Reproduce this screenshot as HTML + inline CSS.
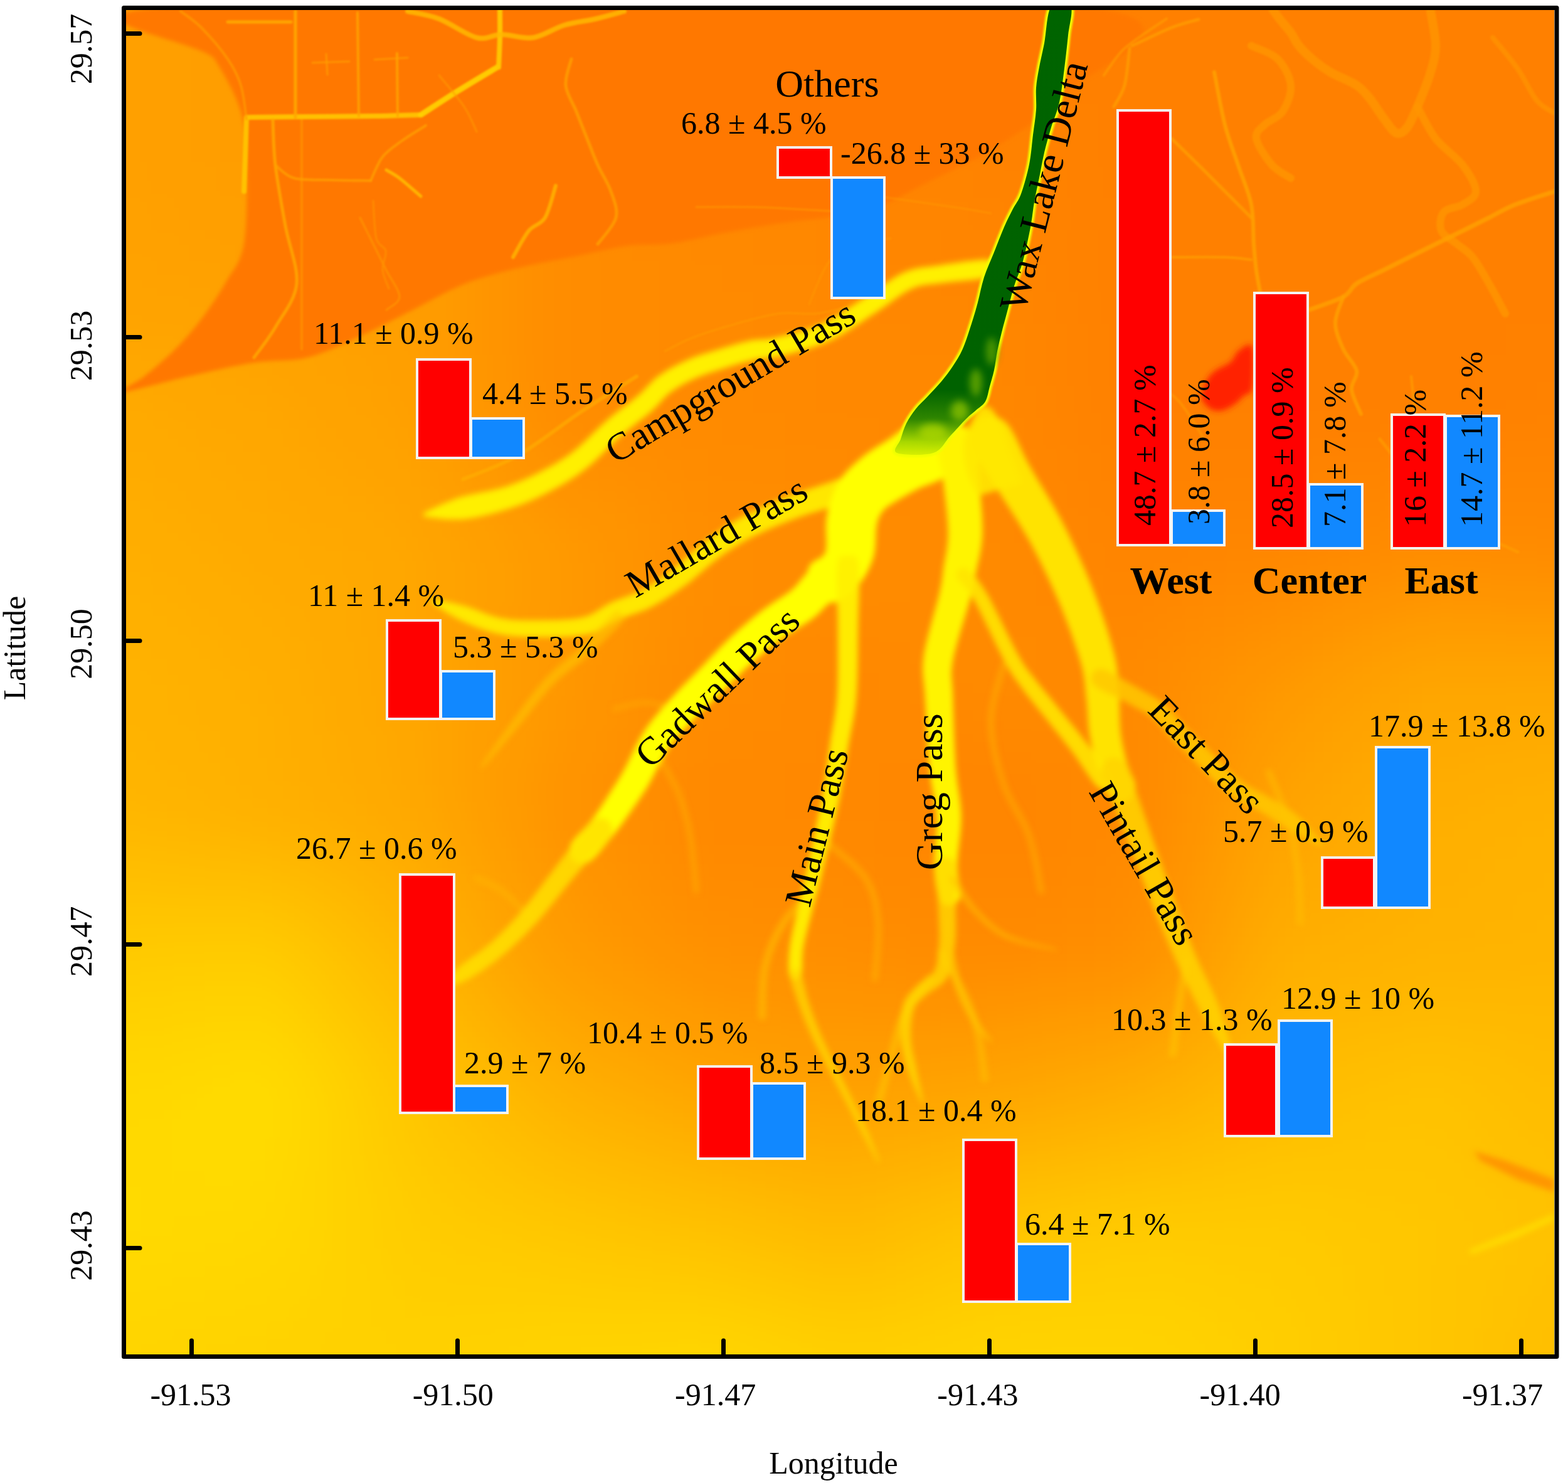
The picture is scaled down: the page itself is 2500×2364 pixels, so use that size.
<!DOCTYPE html>
<html><head><meta charset="utf-8"><title>Wax Lake Delta</title>
<style>
html,body{margin:0;padding:0;background:#fff;}
svg{display:block;}
text{font-family:"Liberation Serif","Times New Roman",serif;fill:#000;}
</style></head><body>
<svg xmlns="http://www.w3.org/2000/svg" width="2500" height="2364" viewBox="0 0 2500 2364">
<defs>
<clipPath id="mapclip"><rect x="201" y="16" width="2277" height="2143"/></clipPath>
<filter id="fb" x="-10%" y="-10%" width="120%" height="120%"><feGaussianBlur stdDeviation="40"/></filter>
<filter id="ub" x="-10%" y="-10%" width="120%" height="120%"><feGaussianBlur stdDeviation="3"/></filter>
<filter id="lb" x="-10%" y="-10%" width="120%" height="120%"><feGaussianBlur stdDeviation="1.5"/></filter>
<filter id="cb" x="-20%" y="-20%" width="140%" height="140%"><feGaussianBlur stdDeviation="5"/></filter>
<filter id="rb" x="-20%" y="-20%" width="140%" height="140%"><feGaussianBlur stdDeviation="1.5"/></filter>
<filter id="gb" x="-50%" y="-50%" width="200%" height="200%"><feGaussianBlur stdDeviation="6"/></filter>
<linearGradient id="rg" gradientUnits="userSpaceOnUse" x1="0" y1="0" x2="0" y2="730">
<stop offset="0" stop-color="#006400"/><stop offset="0.85" stop-color="#006200"/><stop offset="0.915" stop-color="#2f8600"/><stop offset="0.965" stop-color="#a8d800"/><stop offset="1" stop-color="#e0f400"/>
</linearGradient>
</defs>
<rect width="2500" height="2364" fill="#fff"/>
<g clip-path="url(#mapclip)">
<g filter="url(#fb)">
<rect x="51" y="-134" width="51" height="51" fill="#ffa000"/>
<rect x="101" y="-134" width="51" height="51" fill="#ffa000"/>
<rect x="151" y="-134" width="51" height="51" fill="#ffa000"/>
<rect x="201" y="-134" width="51" height="51" fill="#ffa000"/>
<rect x="251" y="-134" width="51" height="51" fill="#ff9f00"/>
<rect x="301" y="-134" width="51" height="51" fill="#ff9e00"/>
<rect x="351" y="-134" width="51" height="51" fill="#ff9d00"/>
<rect x="401" y="-134" width="51" height="51" fill="#ff9c00"/>
<rect x="451" y="-134" width="51" height="51" fill="#ff9b00"/>
<rect x="501" y="-134" width="51" height="51" fill="#ff9900"/>
<rect x="551" y="-134" width="51" height="51" fill="#ff9800"/>
<rect x="601" y="-134" width="51" height="51" fill="#ff9700"/>
<rect x="651" y="-134" width="51" height="51" fill="#ff9600"/>
<rect x="701" y="-134" width="51" height="51" fill="#ff9400"/>
<rect x="751" y="-134" width="51" height="51" fill="#ff9300"/>
<rect x="801" y="-134" width="51" height="51" fill="#ff9200"/>
<rect x="851" y="-134" width="51" height="51" fill="#ff9000"/>
<rect x="901" y="-134" width="51" height="51" fill="#ff8e00"/>
<rect x="951" y="-134" width="51" height="51" fill="#ff8c00"/>
<rect x="1001" y="-134" width="51" height="51" fill="#ff8900"/>
<rect x="1051" y="-134" width="51" height="51" fill="#ff8600"/>
<rect x="1101" y="-134" width="51" height="51" fill="#ff8400"/>
<rect x="1151" y="-134" width="51" height="51" fill="#ff8300"/>
<rect x="1201" y="-134" width="51" height="51" fill="#ff8200"/>
<rect x="1251" y="-134" width="51" height="51" fill="#ff8100"/>
<rect x="1301" y="-134" width="51" height="51" fill="#ff8000"/>
<rect x="1351" y="-134" width="51" height="51" fill="#ff8000"/>
<rect x="1401" y="-134" width="51" height="51" fill="#ff8000"/>
<rect x="1451" y="-134" width="51" height="51" fill="#ff8000"/>
<rect x="1501" y="-134" width="51" height="51" fill="#ff8000"/>
<rect x="1551" y="-134" width="51" height="51" fill="#ff8000"/>
<rect x="1601" y="-134" width="51" height="51" fill="#ff8000"/>
<rect x="1651" y="-134" width="51" height="51" fill="#ff8000"/>
<rect x="1701" y="-134" width="51" height="51" fill="#ff8000"/>
<rect x="1751" y="-134" width="51" height="51" fill="#ff8000"/>
<rect x="1801" y="-134" width="51" height="51" fill="#ff8000"/>
<rect x="1851" y="-134" width="51" height="51" fill="#ff8000"/>
<rect x="1901" y="-134" width="51" height="51" fill="#ff8000"/>
<rect x="1951" y="-134" width="51" height="51" fill="#ff8000"/>
<rect x="2001" y="-134" width="51" height="51" fill="#ff8000"/>
<rect x="2051" y="-134" width="51" height="51" fill="#ff8000"/>
<rect x="2101" y="-134" width="51" height="51" fill="#ff8000"/>
<rect x="2151" y="-134" width="51" height="51" fill="#ff8000"/>
<rect x="2201" y="-134" width="51" height="51" fill="#ff8000"/>
<rect x="2251" y="-134" width="51" height="51" fill="#ff8000"/>
<rect x="2301" y="-134" width="51" height="51" fill="#ff8000"/>
<rect x="2351" y="-134" width="51" height="51" fill="#ff8000"/>
<rect x="2401" y="-134" width="51" height="51" fill="#ff8000"/>
<rect x="2451" y="-134" width="51" height="51" fill="#ff8000"/>
<rect x="2501" y="-134" width="51" height="51" fill="#ff8000"/>
<rect x="2551" y="-134" width="51" height="51" fill="#ff8000"/>
<rect x="2601" y="-134" width="51" height="51" fill="#ff8000"/>
<rect x="51" y="-84" width="51" height="51" fill="#ffa000"/>
<rect x="101" y="-84" width="51" height="51" fill="#ffa000"/>
<rect x="151" y="-84" width="51" height="51" fill="#ffa000"/>
<rect x="201" y="-84" width="51" height="51" fill="#ffa000"/>
<rect x="251" y="-84" width="51" height="51" fill="#ff9f00"/>
<rect x="301" y="-84" width="51" height="51" fill="#ff9e00"/>
<rect x="351" y="-84" width="51" height="51" fill="#ff9d00"/>
<rect x="401" y="-84" width="51" height="51" fill="#ff9c00"/>
<rect x="451" y="-84" width="51" height="51" fill="#ff9b00"/>
<rect x="501" y="-84" width="51" height="51" fill="#ff9900"/>
<rect x="551" y="-84" width="51" height="51" fill="#ff9800"/>
<rect x="601" y="-84" width="51" height="51" fill="#ff9700"/>
<rect x="651" y="-84" width="51" height="51" fill="#ff9600"/>
<rect x="701" y="-84" width="51" height="51" fill="#ff9400"/>
<rect x="751" y="-84" width="51" height="51" fill="#ff9300"/>
<rect x="801" y="-84" width="51" height="51" fill="#ff9200"/>
<rect x="851" y="-84" width="51" height="51" fill="#ff9000"/>
<rect x="901" y="-84" width="51" height="51" fill="#ff8e00"/>
<rect x="951" y="-84" width="51" height="51" fill="#ff8c00"/>
<rect x="1001" y="-84" width="51" height="51" fill="#ff8900"/>
<rect x="1051" y="-84" width="51" height="51" fill="#ff8600"/>
<rect x="1101" y="-84" width="51" height="51" fill="#ff8400"/>
<rect x="1151" y="-84" width="51" height="51" fill="#ff8300"/>
<rect x="1201" y="-84" width="51" height="51" fill="#ff8200"/>
<rect x="1251" y="-84" width="51" height="51" fill="#ff8100"/>
<rect x="1301" y="-84" width="51" height="51" fill="#ff8000"/>
<rect x="1351" y="-84" width="51" height="51" fill="#ff8000"/>
<rect x="1401" y="-84" width="51" height="51" fill="#ff8000"/>
<rect x="1451" y="-84" width="51" height="51" fill="#ff8000"/>
<rect x="1501" y="-84" width="51" height="51" fill="#ff8000"/>
<rect x="1551" y="-84" width="51" height="51" fill="#ff8000"/>
<rect x="1601" y="-84" width="51" height="51" fill="#ff8000"/>
<rect x="1651" y="-84" width="51" height="51" fill="#ff8000"/>
<rect x="1701" y="-84" width="51" height="51" fill="#ff8000"/>
<rect x="1751" y="-84" width="51" height="51" fill="#ff8000"/>
<rect x="1801" y="-84" width="51" height="51" fill="#ff8000"/>
<rect x="1851" y="-84" width="51" height="51" fill="#ff8000"/>
<rect x="1901" y="-84" width="51" height="51" fill="#ff8000"/>
<rect x="1951" y="-84" width="51" height="51" fill="#ff8000"/>
<rect x="2001" y="-84" width="51" height="51" fill="#ff8000"/>
<rect x="2051" y="-84" width="51" height="51" fill="#ff8000"/>
<rect x="2101" y="-84" width="51" height="51" fill="#ff8000"/>
<rect x="2151" y="-84" width="51" height="51" fill="#ff8000"/>
<rect x="2201" y="-84" width="51" height="51" fill="#ff8000"/>
<rect x="2251" y="-84" width="51" height="51" fill="#ff8000"/>
<rect x="2301" y="-84" width="51" height="51" fill="#ff8000"/>
<rect x="2351" y="-84" width="51" height="51" fill="#ff8000"/>
<rect x="2401" y="-84" width="51" height="51" fill="#ff8000"/>
<rect x="2451" y="-84" width="51" height="51" fill="#ff8000"/>
<rect x="2501" y="-84" width="51" height="51" fill="#ff8000"/>
<rect x="2551" y="-84" width="51" height="51" fill="#ff8000"/>
<rect x="2601" y="-84" width="51" height="51" fill="#ff8000"/>
<rect x="51" y="-34" width="51" height="51" fill="#ffa000"/>
<rect x="101" y="-34" width="51" height="51" fill="#ffa000"/>
<rect x="151" y="-34" width="51" height="51" fill="#ffa000"/>
<rect x="201" y="-34" width="51" height="51" fill="#ffa000"/>
<rect x="251" y="-34" width="51" height="51" fill="#ff9f00"/>
<rect x="301" y="-34" width="51" height="51" fill="#ff9e00"/>
<rect x="351" y="-34" width="51" height="51" fill="#ff9d00"/>
<rect x="401" y="-34" width="51" height="51" fill="#ff9c00"/>
<rect x="451" y="-34" width="51" height="51" fill="#ff9b00"/>
<rect x="501" y="-34" width="51" height="51" fill="#ff9900"/>
<rect x="551" y="-34" width="51" height="51" fill="#ff9800"/>
<rect x="601" y="-34" width="51" height="51" fill="#ff9700"/>
<rect x="651" y="-34" width="51" height="51" fill="#ff9600"/>
<rect x="701" y="-34" width="51" height="51" fill="#ff9400"/>
<rect x="751" y="-34" width="51" height="51" fill="#ff9300"/>
<rect x="801" y="-34" width="51" height="51" fill="#ff9200"/>
<rect x="851" y="-34" width="51" height="51" fill="#ff9000"/>
<rect x="901" y="-34" width="51" height="51" fill="#ff8e00"/>
<rect x="951" y="-34" width="51" height="51" fill="#ff8c00"/>
<rect x="1001" y="-34" width="51" height="51" fill="#ff8900"/>
<rect x="1051" y="-34" width="51" height="51" fill="#ff8600"/>
<rect x="1101" y="-34" width="51" height="51" fill="#ff8400"/>
<rect x="1151" y="-34" width="51" height="51" fill="#ff8300"/>
<rect x="1201" y="-34" width="51" height="51" fill="#ff8200"/>
<rect x="1251" y="-34" width="51" height="51" fill="#ff8100"/>
<rect x="1301" y="-34" width="51" height="51" fill="#ff8000"/>
<rect x="1351" y="-34" width="51" height="51" fill="#ff8000"/>
<rect x="1401" y="-34" width="51" height="51" fill="#ff8000"/>
<rect x="1451" y="-34" width="51" height="51" fill="#ff8000"/>
<rect x="1501" y="-34" width="51" height="51" fill="#ff8000"/>
<rect x="1551" y="-34" width="51" height="51" fill="#ff8000"/>
<rect x="1601" y="-34" width="51" height="51" fill="#ff8000"/>
<rect x="1651" y="-34" width="51" height="51" fill="#ff8000"/>
<rect x="1701" y="-34" width="51" height="51" fill="#ff8000"/>
<rect x="1751" y="-34" width="51" height="51" fill="#ff8000"/>
<rect x="1801" y="-34" width="51" height="51" fill="#ff8000"/>
<rect x="1851" y="-34" width="51" height="51" fill="#ff8000"/>
<rect x="1901" y="-34" width="51" height="51" fill="#ff8000"/>
<rect x="1951" y="-34" width="51" height="51" fill="#ff8000"/>
<rect x="2001" y="-34" width="51" height="51" fill="#ff8000"/>
<rect x="2051" y="-34" width="51" height="51" fill="#ff8000"/>
<rect x="2101" y="-34" width="51" height="51" fill="#ff8000"/>
<rect x="2151" y="-34" width="51" height="51" fill="#ff8000"/>
<rect x="2201" y="-34" width="51" height="51" fill="#ff8000"/>
<rect x="2251" y="-34" width="51" height="51" fill="#ff8000"/>
<rect x="2301" y="-34" width="51" height="51" fill="#ff8000"/>
<rect x="2351" y="-34" width="51" height="51" fill="#ff8000"/>
<rect x="2401" y="-34" width="51" height="51" fill="#ff8000"/>
<rect x="2451" y="-34" width="51" height="51" fill="#ff8000"/>
<rect x="2501" y="-34" width="51" height="51" fill="#ff8000"/>
<rect x="2551" y="-34" width="51" height="51" fill="#ff8000"/>
<rect x="2601" y="-34" width="51" height="51" fill="#ff8000"/>
<rect x="51" y="16" width="51" height="51" fill="#ffa000"/>
<rect x="101" y="16" width="51" height="51" fill="#ffa000"/>
<rect x="151" y="16" width="51" height="51" fill="#ffa000"/>
<rect x="201" y="16" width="51" height="51" fill="#ffa000"/>
<rect x="251" y="16" width="51" height="51" fill="#ff9f00"/>
<rect x="301" y="16" width="51" height="51" fill="#ff9e00"/>
<rect x="351" y="16" width="51" height="51" fill="#ff9d00"/>
<rect x="401" y="16" width="51" height="51" fill="#ff9c00"/>
<rect x="451" y="16" width="51" height="51" fill="#ff9b00"/>
<rect x="501" y="16" width="51" height="51" fill="#ff9900"/>
<rect x="551" y="16" width="51" height="51" fill="#ff9800"/>
<rect x="601" y="16" width="51" height="51" fill="#ff9700"/>
<rect x="651" y="16" width="51" height="51" fill="#ff9600"/>
<rect x="701" y="16" width="51" height="51" fill="#ff9400"/>
<rect x="751" y="16" width="51" height="51" fill="#ff9300"/>
<rect x="801" y="16" width="51" height="51" fill="#ff9200"/>
<rect x="851" y="16" width="51" height="51" fill="#ff9000"/>
<rect x="901" y="16" width="51" height="51" fill="#ff8e00"/>
<rect x="951" y="16" width="51" height="51" fill="#ff8b00"/>
<rect x="1001" y="16" width="51" height="51" fill="#ff8900"/>
<rect x="1051" y="16" width="51" height="51" fill="#ff8600"/>
<rect x="1101" y="16" width="51" height="51" fill="#ff8400"/>
<rect x="1151" y="16" width="51" height="51" fill="#ff8300"/>
<rect x="1201" y="16" width="51" height="51" fill="#ff8200"/>
<rect x="1251" y="16" width="51" height="51" fill="#ff8200"/>
<rect x="1301" y="16" width="51" height="51" fill="#ff8100"/>
<rect x="1351" y="16" width="51" height="51" fill="#ff8000"/>
<rect x="1401" y="16" width="51" height="51" fill="#ff8000"/>
<rect x="1451" y="16" width="51" height="51" fill="#ff8000"/>
<rect x="1501" y="16" width="51" height="51" fill="#ff8000"/>
<rect x="1551" y="16" width="51" height="51" fill="#ff8000"/>
<rect x="1601" y="16" width="51" height="51" fill="#ff8000"/>
<rect x="1651" y="16" width="51" height="51" fill="#ff8000"/>
<rect x="1701" y="16" width="51" height="51" fill="#ff8000"/>
<rect x="1751" y="16" width="51" height="51" fill="#ff8000"/>
<rect x="1801" y="16" width="51" height="51" fill="#ff8000"/>
<rect x="1851" y="16" width="51" height="51" fill="#ff8000"/>
<rect x="1901" y="16" width="51" height="51" fill="#ff8000"/>
<rect x="1951" y="16" width="51" height="51" fill="#ff8000"/>
<rect x="2001" y="16" width="51" height="51" fill="#ff8000"/>
<rect x="2051" y="16" width="51" height="51" fill="#ff8000"/>
<rect x="2101" y="16" width="51" height="51" fill="#ff8000"/>
<rect x="2151" y="16" width="51" height="51" fill="#ff8000"/>
<rect x="2201" y="16" width="51" height="51" fill="#ff8000"/>
<rect x="2251" y="16" width="51" height="51" fill="#ff8000"/>
<rect x="2301" y="16" width="51" height="51" fill="#ff8000"/>
<rect x="2351" y="16" width="51" height="51" fill="#ff8000"/>
<rect x="2401" y="16" width="51" height="51" fill="#ff8000"/>
<rect x="2451" y="16" width="51" height="51" fill="#ff8000"/>
<rect x="2501" y="16" width="51" height="51" fill="#ff8000"/>
<rect x="2551" y="16" width="51" height="51" fill="#ff8000"/>
<rect x="2601" y="16" width="51" height="51" fill="#ff8000"/>
<rect x="51" y="66" width="51" height="51" fill="#ffa000"/>
<rect x="101" y="66" width="51" height="51" fill="#ffa000"/>
<rect x="151" y="66" width="51" height="51" fill="#ffa000"/>
<rect x="201" y="66" width="51" height="51" fill="#ffa000"/>
<rect x="251" y="66" width="51" height="51" fill="#ff9f00"/>
<rect x="301" y="66" width="51" height="51" fill="#ff9e00"/>
<rect x="351" y="66" width="51" height="51" fill="#ff9d00"/>
<rect x="401" y="66" width="51" height="51" fill="#ff9c00"/>
<rect x="451" y="66" width="51" height="51" fill="#ff9b00"/>
<rect x="501" y="66" width="51" height="51" fill="#ff9900"/>
<rect x="551" y="66" width="51" height="51" fill="#ff9800"/>
<rect x="601" y="66" width="51" height="51" fill="#ff9700"/>
<rect x="651" y="66" width="51" height="51" fill="#ff9600"/>
<rect x="701" y="66" width="51" height="51" fill="#ff9400"/>
<rect x="751" y="66" width="51" height="51" fill="#ff9300"/>
<rect x="801" y="66" width="51" height="51" fill="#ff9100"/>
<rect x="851" y="66" width="51" height="51" fill="#ff9000"/>
<rect x="901" y="66" width="51" height="51" fill="#ff8e00"/>
<rect x="951" y="66" width="51" height="51" fill="#ff8b00"/>
<rect x="1001" y="66" width="51" height="51" fill="#ff8900"/>
<rect x="1051" y="66" width="51" height="51" fill="#ff8700"/>
<rect x="1101" y="66" width="51" height="51" fill="#ff8500"/>
<rect x="1151" y="66" width="51" height="51" fill="#ff8400"/>
<rect x="1201" y="66" width="51" height="51" fill="#ff8300"/>
<rect x="1251" y="66" width="51" height="51" fill="#ff8200"/>
<rect x="1301" y="66" width="51" height="51" fill="#ff8200"/>
<rect x="1351" y="66" width="51" height="51" fill="#ff8100"/>
<rect x="1401" y="66" width="51" height="51" fill="#ff8100"/>
<rect x="1451" y="66" width="51" height="51" fill="#ff8100"/>
<rect x="1501" y="66" width="51" height="51" fill="#ff8100"/>
<rect x="1551" y="66" width="51" height="51" fill="#ff8100"/>
<rect x="1601" y="66" width="51" height="51" fill="#ff8100"/>
<rect x="1651" y="66" width="51" height="51" fill="#ff8000"/>
<rect x="1701" y="66" width="51" height="51" fill="#ff8000"/>
<rect x="1751" y="66" width="51" height="51" fill="#ff8000"/>
<rect x="1801" y="66" width="51" height="51" fill="#ff8000"/>
<rect x="1851" y="66" width="51" height="51" fill="#ff8000"/>
<rect x="1901" y="66" width="51" height="51" fill="#ff8000"/>
<rect x="1951" y="66" width="51" height="51" fill="#ff8000"/>
<rect x="2001" y="66" width="51" height="51" fill="#ff8000"/>
<rect x="2051" y="66" width="51" height="51" fill="#ff8000"/>
<rect x="2101" y="66" width="51" height="51" fill="#ff8000"/>
<rect x="2151" y="66" width="51" height="51" fill="#ff8000"/>
<rect x="2201" y="66" width="51" height="51" fill="#ff8000"/>
<rect x="2251" y="66" width="51" height="51" fill="#ff8000"/>
<rect x="2301" y="66" width="51" height="51" fill="#ff8000"/>
<rect x="2351" y="66" width="51" height="51" fill="#ff8000"/>
<rect x="2401" y="66" width="51" height="51" fill="#ff8000"/>
<rect x="2451" y="66" width="51" height="51" fill="#ff8000"/>
<rect x="2501" y="66" width="51" height="51" fill="#ff8000"/>
<rect x="2551" y="66" width="51" height="51" fill="#ff8000"/>
<rect x="2601" y="66" width="51" height="51" fill="#ff8000"/>
<rect x="51" y="116" width="51" height="51" fill="#ffa000"/>
<rect x="101" y="116" width="51" height="51" fill="#ffa000"/>
<rect x="151" y="116" width="51" height="51" fill="#ffa000"/>
<rect x="201" y="116" width="51" height="51" fill="#ffa000"/>
<rect x="251" y="116" width="51" height="51" fill="#ff9f00"/>
<rect x="301" y="116" width="51" height="51" fill="#ff9e00"/>
<rect x="351" y="116" width="51" height="51" fill="#ff9d00"/>
<rect x="401" y="116" width="51" height="51" fill="#ff9c00"/>
<rect x="451" y="116" width="51" height="51" fill="#ff9b00"/>
<rect x="501" y="116" width="51" height="51" fill="#ff9900"/>
<rect x="551" y="116" width="51" height="51" fill="#ff9800"/>
<rect x="601" y="116" width="51" height="51" fill="#ff9700"/>
<rect x="651" y="116" width="51" height="51" fill="#ff9600"/>
<rect x="701" y="116" width="51" height="51" fill="#ff9400"/>
<rect x="751" y="116" width="51" height="51" fill="#ff9200"/>
<rect x="801" y="116" width="51" height="51" fill="#ff9100"/>
<rect x="851" y="116" width="51" height="51" fill="#ff8f00"/>
<rect x="901" y="116" width="51" height="51" fill="#ff8d00"/>
<rect x="951" y="116" width="51" height="51" fill="#ff8b00"/>
<rect x="1001" y="116" width="51" height="51" fill="#ff8900"/>
<rect x="1051" y="116" width="51" height="51" fill="#ff8700"/>
<rect x="1101" y="116" width="51" height="51" fill="#ff8500"/>
<rect x="1151" y="116" width="51" height="51" fill="#ff8400"/>
<rect x="1201" y="116" width="51" height="51" fill="#ff8400"/>
<rect x="1251" y="116" width="51" height="51" fill="#ff8300"/>
<rect x="1301" y="116" width="51" height="51" fill="#ff8300"/>
<rect x="1351" y="116" width="51" height="51" fill="#ff8200"/>
<rect x="1401" y="116" width="51" height="51" fill="#ff8200"/>
<rect x="1451" y="116" width="51" height="51" fill="#ff8200"/>
<rect x="1501" y="116" width="51" height="51" fill="#ff8100"/>
<rect x="1551" y="116" width="51" height="51" fill="#ff8100"/>
<rect x="1601" y="116" width="51" height="51" fill="#ff8100"/>
<rect x="1651" y="116" width="51" height="51" fill="#ff8100"/>
<rect x="1701" y="116" width="51" height="51" fill="#ff8000"/>
<rect x="1751" y="116" width="51" height="51" fill="#ff8000"/>
<rect x="1801" y="116" width="51" height="51" fill="#ff8000"/>
<rect x="1851" y="116" width="51" height="51" fill="#ff8000"/>
<rect x="1901" y="116" width="51" height="51" fill="#ff8000"/>
<rect x="1951" y="116" width="51" height="51" fill="#ff8000"/>
<rect x="2001" y="116" width="51" height="51" fill="#ff8000"/>
<rect x="2051" y="116" width="51" height="51" fill="#ff8000"/>
<rect x="2101" y="116" width="51" height="51" fill="#ff8000"/>
<rect x="2151" y="116" width="51" height="51" fill="#ff8000"/>
<rect x="2201" y="116" width="51" height="51" fill="#ff8000"/>
<rect x="2251" y="116" width="51" height="51" fill="#ff8000"/>
<rect x="2301" y="116" width="51" height="51" fill="#ff8000"/>
<rect x="2351" y="116" width="51" height="51" fill="#ff8000"/>
<rect x="2401" y="116" width="51" height="51" fill="#ff8000"/>
<rect x="2451" y="116" width="51" height="51" fill="#ff8000"/>
<rect x="2501" y="116" width="51" height="51" fill="#ff8000"/>
<rect x="2551" y="116" width="51" height="51" fill="#ff8000"/>
<rect x="2601" y="116" width="51" height="51" fill="#ff8000"/>
<rect x="51" y="166" width="51" height="51" fill="#ffa000"/>
<rect x="101" y="166" width="51" height="51" fill="#ffa000"/>
<rect x="151" y="166" width="51" height="51" fill="#ffa000"/>
<rect x="201" y="166" width="51" height="51" fill="#ffa000"/>
<rect x="251" y="166" width="51" height="51" fill="#ff9f00"/>
<rect x="301" y="166" width="51" height="51" fill="#ff9e00"/>
<rect x="351" y="166" width="51" height="51" fill="#ff9d00"/>
<rect x="401" y="166" width="51" height="51" fill="#ff9c00"/>
<rect x="451" y="166" width="51" height="51" fill="#ff9b00"/>
<rect x="501" y="166" width="51" height="51" fill="#ff9900"/>
<rect x="551" y="166" width="51" height="51" fill="#ff9800"/>
<rect x="601" y="166" width="51" height="51" fill="#ff9700"/>
<rect x="651" y="166" width="51" height="51" fill="#ff9500"/>
<rect x="701" y="166" width="51" height="51" fill="#ff9400"/>
<rect x="751" y="166" width="51" height="51" fill="#ff9200"/>
<rect x="801" y="166" width="51" height="51" fill="#ff9000"/>
<rect x="851" y="166" width="51" height="51" fill="#ff8f00"/>
<rect x="901" y="166" width="51" height="51" fill="#ff8d00"/>
<rect x="951" y="166" width="51" height="51" fill="#ff8b00"/>
<rect x="1001" y="166" width="51" height="51" fill="#ff8900"/>
<rect x="1051" y="166" width="51" height="51" fill="#ff8700"/>
<rect x="1101" y="166" width="51" height="51" fill="#ff8600"/>
<rect x="1151" y="166" width="51" height="51" fill="#ff8500"/>
<rect x="1201" y="166" width="51" height="51" fill="#ff8500"/>
<rect x="1251" y="166" width="51" height="51" fill="#ff8400"/>
<rect x="1301" y="166" width="51" height="51" fill="#ff8400"/>
<rect x="1351" y="166" width="51" height="51" fill="#ff8300"/>
<rect x="1401" y="166" width="51" height="51" fill="#ff8300"/>
<rect x="1451" y="166" width="51" height="51" fill="#ff8200"/>
<rect x="1501" y="166" width="51" height="51" fill="#ff8200"/>
<rect x="1551" y="166" width="51" height="51" fill="#ff8200"/>
<rect x="1601" y="166" width="51" height="51" fill="#ff8100"/>
<rect x="1651" y="166" width="51" height="51" fill="#ff8100"/>
<rect x="1701" y="166" width="51" height="51" fill="#ff8100"/>
<rect x="1751" y="166" width="51" height="51" fill="#ff8000"/>
<rect x="1801" y="166" width="51" height="51" fill="#ff8000"/>
<rect x="1851" y="166" width="51" height="51" fill="#ff8000"/>
<rect x="1901" y="166" width="51" height="51" fill="#ff8000"/>
<rect x="1951" y="166" width="51" height="51" fill="#ff8000"/>
<rect x="2001" y="166" width="51" height="51" fill="#ff8000"/>
<rect x="2051" y="166" width="51" height="51" fill="#ff8000"/>
<rect x="2101" y="166" width="51" height="51" fill="#ff8000"/>
<rect x="2151" y="166" width="51" height="51" fill="#ff8000"/>
<rect x="2201" y="166" width="51" height="51" fill="#ff8000"/>
<rect x="2251" y="166" width="51" height="51" fill="#ff8000"/>
<rect x="2301" y="166" width="51" height="51" fill="#ff8000"/>
<rect x="2351" y="166" width="51" height="51" fill="#ff8000"/>
<rect x="2401" y="166" width="51" height="51" fill="#ff8000"/>
<rect x="2451" y="166" width="51" height="51" fill="#ff8000"/>
<rect x="2501" y="166" width="51" height="51" fill="#ff8000"/>
<rect x="2551" y="166" width="51" height="51" fill="#ff8000"/>
<rect x="2601" y="166" width="51" height="51" fill="#ff8000"/>
<rect x="51" y="216" width="51" height="51" fill="#ffa000"/>
<rect x="101" y="216" width="51" height="51" fill="#ffa000"/>
<rect x="151" y="216" width="51" height="51" fill="#ffa000"/>
<rect x="201" y="216" width="51" height="51" fill="#ffa000"/>
<rect x="251" y="216" width="51" height="51" fill="#ff9f00"/>
<rect x="301" y="216" width="51" height="51" fill="#ff9e00"/>
<rect x="351" y="216" width="51" height="51" fill="#ff9d00"/>
<rect x="401" y="216" width="51" height="51" fill="#ff9c00"/>
<rect x="451" y="216" width="51" height="51" fill="#ff9b00"/>
<rect x="501" y="216" width="51" height="51" fill="#ff9a00"/>
<rect x="551" y="216" width="51" height="51" fill="#ff9900"/>
<rect x="601" y="216" width="51" height="51" fill="#ff9700"/>
<rect x="651" y="216" width="51" height="51" fill="#ff9600"/>
<rect x="701" y="216" width="51" height="51" fill="#ff9400"/>
<rect x="751" y="216" width="51" height="51" fill="#ff9200"/>
<rect x="801" y="216" width="51" height="51" fill="#ff9000"/>
<rect x="851" y="216" width="51" height="51" fill="#ff8e00"/>
<rect x="901" y="216" width="51" height="51" fill="#ff8d00"/>
<rect x="951" y="216" width="51" height="51" fill="#ff8b00"/>
<rect x="1001" y="216" width="51" height="51" fill="#ff8900"/>
<rect x="1051" y="216" width="51" height="51" fill="#ff8800"/>
<rect x="1101" y="216" width="51" height="51" fill="#ff8600"/>
<rect x="1151" y="216" width="51" height="51" fill="#ff8600"/>
<rect x="1201" y="216" width="51" height="51" fill="#ff8500"/>
<rect x="1251" y="216" width="51" height="51" fill="#ff8500"/>
<rect x="1301" y="216" width="51" height="51" fill="#ff8400"/>
<rect x="1351" y="216" width="51" height="51" fill="#ff8400"/>
<rect x="1401" y="216" width="51" height="51" fill="#ff8400"/>
<rect x="1451" y="216" width="51" height="51" fill="#ff8300"/>
<rect x="1501" y="216" width="51" height="51" fill="#ff8300"/>
<rect x="1551" y="216" width="51" height="51" fill="#ff8200"/>
<rect x="1601" y="216" width="51" height="51" fill="#ff8200"/>
<rect x="1651" y="216" width="51" height="51" fill="#ff8100"/>
<rect x="1701" y="216" width="51" height="51" fill="#ff8100"/>
<rect x="1751" y="216" width="51" height="51" fill="#ff8000"/>
<rect x="1801" y="216" width="51" height="51" fill="#ff8000"/>
<rect x="1851" y="216" width="51" height="51" fill="#ff8000"/>
<rect x="1901" y="216" width="51" height="51" fill="#ff8000"/>
<rect x="1951" y="216" width="51" height="51" fill="#ff8000"/>
<rect x="2001" y="216" width="51" height="51" fill="#ff8000"/>
<rect x="2051" y="216" width="51" height="51" fill="#ff8000"/>
<rect x="2101" y="216" width="51" height="51" fill="#ff8000"/>
<rect x="2151" y="216" width="51" height="51" fill="#ff8000"/>
<rect x="2201" y="216" width="51" height="51" fill="#ff8000"/>
<rect x="2251" y="216" width="51" height="51" fill="#ff8000"/>
<rect x="2301" y="216" width="51" height="51" fill="#ff8000"/>
<rect x="2351" y="216" width="51" height="51" fill="#ff8000"/>
<rect x="2401" y="216" width="51" height="51" fill="#ff8000"/>
<rect x="2451" y="216" width="51" height="51" fill="#ff8000"/>
<rect x="2501" y="216" width="51" height="51" fill="#ff8000"/>
<rect x="2551" y="216" width="51" height="51" fill="#ff8000"/>
<rect x="2601" y="216" width="51" height="51" fill="#ff8000"/>
<rect x="51" y="266" width="51" height="51" fill="#ffa100"/>
<rect x="101" y="266" width="51" height="51" fill="#ffa100"/>
<rect x="151" y="266" width="51" height="51" fill="#ffa100"/>
<rect x="201" y="266" width="51" height="51" fill="#ffa000"/>
<rect x="251" y="266" width="51" height="51" fill="#ff9f00"/>
<rect x="301" y="266" width="51" height="51" fill="#ff9f00"/>
<rect x="351" y="266" width="51" height="51" fill="#ff9e00"/>
<rect x="401" y="266" width="51" height="51" fill="#ff9d00"/>
<rect x="451" y="266" width="51" height="51" fill="#ff9c00"/>
<rect x="501" y="266" width="51" height="51" fill="#ff9b00"/>
<rect x="551" y="266" width="51" height="51" fill="#ff9a00"/>
<rect x="601" y="266" width="51" height="51" fill="#ff9900"/>
<rect x="651" y="266" width="51" height="51" fill="#ff9800"/>
<rect x="701" y="266" width="51" height="51" fill="#ff9500"/>
<rect x="751" y="266" width="51" height="51" fill="#ff9300"/>
<rect x="801" y="266" width="51" height="51" fill="#ff9000"/>
<rect x="851" y="266" width="51" height="51" fill="#ff8e00"/>
<rect x="901" y="266" width="51" height="51" fill="#ff8c00"/>
<rect x="951" y="266" width="51" height="51" fill="#ff8b00"/>
<rect x="1001" y="266" width="51" height="51" fill="#ff8a00"/>
<rect x="1051" y="266" width="51" height="51" fill="#ff8800"/>
<rect x="1101" y="266" width="51" height="51" fill="#ff8700"/>
<rect x="1151" y="266" width="51" height="51" fill="#ff8700"/>
<rect x="1201" y="266" width="51" height="51" fill="#ff8600"/>
<rect x="1251" y="266" width="51" height="51" fill="#ff8600"/>
<rect x="1301" y="266" width="51" height="51" fill="#ff8500"/>
<rect x="1351" y="266" width="51" height="51" fill="#ff8500"/>
<rect x="1401" y="266" width="51" height="51" fill="#ff8400"/>
<rect x="1451" y="266" width="51" height="51" fill="#ff8400"/>
<rect x="1501" y="266" width="51" height="51" fill="#ff8400"/>
<rect x="1551" y="266" width="51" height="51" fill="#ff8300"/>
<rect x="1601" y="266" width="51" height="51" fill="#ff8300"/>
<rect x="1651" y="266" width="51" height="51" fill="#ff8200"/>
<rect x="1701" y="266" width="51" height="51" fill="#ff8100"/>
<rect x="1751" y="266" width="51" height="51" fill="#ff8000"/>
<rect x="1801" y="266" width="51" height="51" fill="#ff8000"/>
<rect x="1851" y="266" width="51" height="51" fill="#ff8000"/>
<rect x="1901" y="266" width="51" height="51" fill="#ff8000"/>
<rect x="1951" y="266" width="51" height="51" fill="#ff8000"/>
<rect x="2001" y="266" width="51" height="51" fill="#ff8000"/>
<rect x="2051" y="266" width="51" height="51" fill="#ff8000"/>
<rect x="2101" y="266" width="51" height="51" fill="#ff8000"/>
<rect x="2151" y="266" width="51" height="51" fill="#ff8000"/>
<rect x="2201" y="266" width="51" height="51" fill="#ff8000"/>
<rect x="2251" y="266" width="51" height="51" fill="#ff8000"/>
<rect x="2301" y="266" width="51" height="51" fill="#ff8000"/>
<rect x="2351" y="266" width="51" height="51" fill="#ff8000"/>
<rect x="2401" y="266" width="51" height="51" fill="#ff8000"/>
<rect x="2451" y="266" width="51" height="51" fill="#ff8000"/>
<rect x="2501" y="266" width="51" height="51" fill="#ff8000"/>
<rect x="2551" y="266" width="51" height="51" fill="#ff8000"/>
<rect x="2601" y="266" width="51" height="51" fill="#ff8000"/>
<rect x="51" y="316" width="51" height="51" fill="#ffa100"/>
<rect x="101" y="316" width="51" height="51" fill="#ffa100"/>
<rect x="151" y="316" width="51" height="51" fill="#ffa100"/>
<rect x="201" y="316" width="51" height="51" fill="#ffa100"/>
<rect x="251" y="316" width="51" height="51" fill="#ffa000"/>
<rect x="301" y="316" width="51" height="51" fill="#ff9f00"/>
<rect x="351" y="316" width="51" height="51" fill="#ff9f00"/>
<rect x="401" y="316" width="51" height="51" fill="#ff9e00"/>
<rect x="451" y="316" width="51" height="51" fill="#ff9d00"/>
<rect x="501" y="316" width="51" height="51" fill="#ff9c00"/>
<rect x="551" y="316" width="51" height="51" fill="#ff9c00"/>
<rect x="601" y="316" width="51" height="51" fill="#ff9b00"/>
<rect x="651" y="316" width="51" height="51" fill="#ff9900"/>
<rect x="701" y="316" width="51" height="51" fill="#ff9600"/>
<rect x="751" y="316" width="51" height="51" fill="#ff9300"/>
<rect x="801" y="316" width="51" height="51" fill="#ff9100"/>
<rect x="851" y="316" width="51" height="51" fill="#ff8e00"/>
<rect x="901" y="316" width="51" height="51" fill="#ff8c00"/>
<rect x="951" y="316" width="51" height="51" fill="#ff8b00"/>
<rect x="1001" y="316" width="51" height="51" fill="#ff8a00"/>
<rect x="1051" y="316" width="51" height="51" fill="#ff8900"/>
<rect x="1101" y="316" width="51" height="51" fill="#ff8800"/>
<rect x="1151" y="316" width="51" height="51" fill="#ff8800"/>
<rect x="1201" y="316" width="51" height="51" fill="#ff8700"/>
<rect x="1251" y="316" width="51" height="51" fill="#ff8700"/>
<rect x="1301" y="316" width="51" height="51" fill="#ff8600"/>
<rect x="1351" y="316" width="51" height="51" fill="#ff8600"/>
<rect x="1401" y="316" width="51" height="51" fill="#ff8500"/>
<rect x="1451" y="316" width="51" height="51" fill="#ff8500"/>
<rect x="1501" y="316" width="51" height="51" fill="#ff8500"/>
<rect x="1551" y="316" width="51" height="51" fill="#ff8400"/>
<rect x="1601" y="316" width="51" height="51" fill="#ff8300"/>
<rect x="1651" y="316" width="51" height="51" fill="#ff8200"/>
<rect x="1701" y="316" width="51" height="51" fill="#ff8100"/>
<rect x="1751" y="316" width="51" height="51" fill="#ff8100"/>
<rect x="1801" y="316" width="51" height="51" fill="#ff8000"/>
<rect x="1851" y="316" width="51" height="51" fill="#ff8000"/>
<rect x="1901" y="316" width="51" height="51" fill="#ff8000"/>
<rect x="1951" y="316" width="51" height="51" fill="#ff8000"/>
<rect x="2001" y="316" width="51" height="51" fill="#ff8000"/>
<rect x="2051" y="316" width="51" height="51" fill="#ff8000"/>
<rect x="2101" y="316" width="51" height="51" fill="#ff8000"/>
<rect x="2151" y="316" width="51" height="51" fill="#ff8000"/>
<rect x="2201" y="316" width="51" height="51" fill="#ff8000"/>
<rect x="2251" y="316" width="51" height="51" fill="#ff8000"/>
<rect x="2301" y="316" width="51" height="51" fill="#ff8000"/>
<rect x="2351" y="316" width="51" height="51" fill="#ff8000"/>
<rect x="2401" y="316" width="51" height="51" fill="#ff8000"/>
<rect x="2451" y="316" width="51" height="51" fill="#ff8000"/>
<rect x="2501" y="316" width="51" height="51" fill="#ff8000"/>
<rect x="2551" y="316" width="51" height="51" fill="#ff8000"/>
<rect x="2601" y="316" width="51" height="51" fill="#ff8000"/>
<rect x="51" y="366" width="51" height="51" fill="#ffa100"/>
<rect x="101" y="366" width="51" height="51" fill="#ffa100"/>
<rect x="151" y="366" width="51" height="51" fill="#ffa100"/>
<rect x="201" y="366" width="51" height="51" fill="#ffa100"/>
<rect x="251" y="366" width="51" height="51" fill="#ffa100"/>
<rect x="301" y="366" width="51" height="51" fill="#ffa000"/>
<rect x="351" y="366" width="51" height="51" fill="#ffa000"/>
<rect x="401" y="366" width="51" height="51" fill="#ff9f00"/>
<rect x="451" y="366" width="51" height="51" fill="#ff9e00"/>
<rect x="501" y="366" width="51" height="51" fill="#ff9e00"/>
<rect x="551" y="366" width="51" height="51" fill="#ff9d00"/>
<rect x="601" y="366" width="51" height="51" fill="#ff9c00"/>
<rect x="651" y="366" width="51" height="51" fill="#ff9b00"/>
<rect x="701" y="366" width="51" height="51" fill="#ff9800"/>
<rect x="751" y="366" width="51" height="51" fill="#ff9400"/>
<rect x="801" y="366" width="51" height="51" fill="#ff9100"/>
<rect x="851" y="366" width="51" height="51" fill="#ff8d00"/>
<rect x="901" y="366" width="51" height="51" fill="#ff8c00"/>
<rect x="951" y="366" width="51" height="51" fill="#ff8b00"/>
<rect x="1001" y="366" width="51" height="51" fill="#ff8a00"/>
<rect x="1051" y="366" width="51" height="51" fill="#ff8a00"/>
<rect x="1101" y="366" width="51" height="51" fill="#ff8900"/>
<rect x="1151" y="366" width="51" height="51" fill="#ff8900"/>
<rect x="1201" y="366" width="51" height="51" fill="#ff8800"/>
<rect x="1251" y="366" width="51" height="51" fill="#ff8800"/>
<rect x="1301" y="366" width="51" height="51" fill="#ff8700"/>
<rect x="1351" y="366" width="51" height="51" fill="#ff8700"/>
<rect x="1401" y="366" width="51" height="51" fill="#ff8600"/>
<rect x="1451" y="366" width="51" height="51" fill="#ff8600"/>
<rect x="1501" y="366" width="51" height="51" fill="#ff8500"/>
<rect x="1551" y="366" width="51" height="51" fill="#ff8500"/>
<rect x="1601" y="366" width="51" height="51" fill="#ff8400"/>
<rect x="1651" y="366" width="51" height="51" fill="#ff8300"/>
<rect x="1701" y="366" width="51" height="51" fill="#ff8200"/>
<rect x="1751" y="366" width="51" height="51" fill="#ff8100"/>
<rect x="1801" y="366" width="51" height="51" fill="#ff8000"/>
<rect x="1851" y="366" width="51" height="51" fill="#ff8000"/>
<rect x="1901" y="366" width="51" height="51" fill="#ff8000"/>
<rect x="1951" y="366" width="51" height="51" fill="#ff8000"/>
<rect x="2001" y="366" width="51" height="51" fill="#ff8000"/>
<rect x="2051" y="366" width="51" height="51" fill="#ff8000"/>
<rect x="2101" y="366" width="51" height="51" fill="#ff8000"/>
<rect x="2151" y="366" width="51" height="51" fill="#ff8000"/>
<rect x="2201" y="366" width="51" height="51" fill="#ff8000"/>
<rect x="2251" y="366" width="51" height="51" fill="#ff8000"/>
<rect x="2301" y="366" width="51" height="51" fill="#ff8000"/>
<rect x="2351" y="366" width="51" height="51" fill="#ff8000"/>
<rect x="2401" y="366" width="51" height="51" fill="#ff8000"/>
<rect x="2451" y="366" width="51" height="51" fill="#ff8000"/>
<rect x="2501" y="366" width="51" height="51" fill="#ff8000"/>
<rect x="2551" y="366" width="51" height="51" fill="#ff8000"/>
<rect x="2601" y="366" width="51" height="51" fill="#ff8000"/>
<rect x="51" y="416" width="51" height="51" fill="#ffa200"/>
<rect x="101" y="416" width="51" height="51" fill="#ffa200"/>
<rect x="151" y="416" width="51" height="51" fill="#ffa200"/>
<rect x="201" y="416" width="51" height="51" fill="#ffa200"/>
<rect x="251" y="416" width="51" height="51" fill="#ffa100"/>
<rect x="301" y="416" width="51" height="51" fill="#ffa100"/>
<rect x="351" y="416" width="51" height="51" fill="#ffa000"/>
<rect x="401" y="416" width="51" height="51" fill="#ffa000"/>
<rect x="451" y="416" width="51" height="51" fill="#ffa000"/>
<rect x="501" y="416" width="51" height="51" fill="#ff9f00"/>
<rect x="551" y="416" width="51" height="51" fill="#ff9f00"/>
<rect x="601" y="416" width="51" height="51" fill="#ff9e00"/>
<rect x="651" y="416" width="51" height="51" fill="#ff9d00"/>
<rect x="701" y="416" width="51" height="51" fill="#ff9900"/>
<rect x="751" y="416" width="51" height="51" fill="#ff9500"/>
<rect x="801" y="416" width="51" height="51" fill="#ff9100"/>
<rect x="851" y="416" width="51" height="51" fill="#ff8d00"/>
<rect x="901" y="416" width="51" height="51" fill="#ff8c00"/>
<rect x="951" y="416" width="51" height="51" fill="#ff8b00"/>
<rect x="1001" y="416" width="51" height="51" fill="#ff8b00"/>
<rect x="1051" y="416" width="51" height="51" fill="#ff8a00"/>
<rect x="1101" y="416" width="51" height="51" fill="#ff8a00"/>
<rect x="1151" y="416" width="51" height="51" fill="#ff8900"/>
<rect x="1201" y="416" width="51" height="51" fill="#ff8900"/>
<rect x="1251" y="416" width="51" height="51" fill="#ff8900"/>
<rect x="1301" y="416" width="51" height="51" fill="#ff8800"/>
<rect x="1351" y="416" width="51" height="51" fill="#ff8800"/>
<rect x="1401" y="416" width="51" height="51" fill="#ff8700"/>
<rect x="1451" y="416" width="51" height="51" fill="#ff8700"/>
<rect x="1501" y="416" width="51" height="51" fill="#ff8600"/>
<rect x="1551" y="416" width="51" height="51" fill="#ff8600"/>
<rect x="1601" y="416" width="51" height="51" fill="#ff8500"/>
<rect x="1651" y="416" width="51" height="51" fill="#ff8300"/>
<rect x="1701" y="416" width="51" height="51" fill="#ff8200"/>
<rect x="1751" y="416" width="51" height="51" fill="#ff8100"/>
<rect x="1801" y="416" width="51" height="51" fill="#ff8000"/>
<rect x="1851" y="416" width="51" height="51" fill="#ff8000"/>
<rect x="1901" y="416" width="51" height="51" fill="#ff8000"/>
<rect x="1951" y="416" width="51" height="51" fill="#ff8000"/>
<rect x="2001" y="416" width="51" height="51" fill="#ff8000"/>
<rect x="2051" y="416" width="51" height="51" fill="#ff8000"/>
<rect x="2101" y="416" width="51" height="51" fill="#ff8000"/>
<rect x="2151" y="416" width="51" height="51" fill="#ff8000"/>
<rect x="2201" y="416" width="51" height="51" fill="#ff8000"/>
<rect x="2251" y="416" width="51" height="51" fill="#ff8000"/>
<rect x="2301" y="416" width="51" height="51" fill="#ff8000"/>
<rect x="2351" y="416" width="51" height="51" fill="#ff8000"/>
<rect x="2401" y="416" width="51" height="51" fill="#ff8000"/>
<rect x="2451" y="416" width="51" height="51" fill="#ff8000"/>
<rect x="2501" y="416" width="51" height="51" fill="#ff8000"/>
<rect x="2551" y="416" width="51" height="51" fill="#ff8000"/>
<rect x="2601" y="416" width="51" height="51" fill="#ff8000"/>
<rect x="51" y="466" width="51" height="51" fill="#ffa400"/>
<rect x="101" y="466" width="51" height="51" fill="#ffa400"/>
<rect x="151" y="466" width="51" height="51" fill="#ffa400"/>
<rect x="201" y="466" width="51" height="51" fill="#ffa300"/>
<rect x="251" y="466" width="51" height="51" fill="#ffa300"/>
<rect x="301" y="466" width="51" height="51" fill="#ffa200"/>
<rect x="351" y="466" width="51" height="51" fill="#ffa200"/>
<rect x="401" y="466" width="51" height="51" fill="#ffa100"/>
<rect x="451" y="466" width="51" height="51" fill="#ffa100"/>
<rect x="501" y="466" width="51" height="51" fill="#ffa000"/>
<rect x="551" y="466" width="51" height="51" fill="#ff9f00"/>
<rect x="601" y="466" width="51" height="51" fill="#ff9f00"/>
<rect x="651" y="466" width="51" height="51" fill="#ff9d00"/>
<rect x="701" y="466" width="51" height="51" fill="#ff9900"/>
<rect x="751" y="466" width="51" height="51" fill="#ff9500"/>
<rect x="801" y="466" width="51" height="51" fill="#ff9100"/>
<rect x="851" y="466" width="51" height="51" fill="#ff8d00"/>
<rect x="901" y="466" width="51" height="51" fill="#ff8c00"/>
<rect x="951" y="466" width="51" height="51" fill="#ff8b00"/>
<rect x="1001" y="466" width="51" height="51" fill="#ff8b00"/>
<rect x="1051" y="466" width="51" height="51" fill="#ff8a00"/>
<rect x="1101" y="466" width="51" height="51" fill="#ff8a00"/>
<rect x="1151" y="466" width="51" height="51" fill="#ff8a00"/>
<rect x="1201" y="466" width="51" height="51" fill="#ff8900"/>
<rect x="1251" y="466" width="51" height="51" fill="#ff8900"/>
<rect x="1301" y="466" width="51" height="51" fill="#ff8800"/>
<rect x="1351" y="466" width="51" height="51" fill="#ff8800"/>
<rect x="1401" y="466" width="51" height="51" fill="#ff8700"/>
<rect x="1451" y="466" width="51" height="51" fill="#ff8700"/>
<rect x="1501" y="466" width="51" height="51" fill="#ff8700"/>
<rect x="1551" y="466" width="51" height="51" fill="#ff8600"/>
<rect x="1601" y="466" width="51" height="51" fill="#ff8500"/>
<rect x="1651" y="466" width="51" height="51" fill="#ff8400"/>
<rect x="1701" y="466" width="51" height="51" fill="#ff8200"/>
<rect x="1751" y="466" width="51" height="51" fill="#ff8100"/>
<rect x="1801" y="466" width="51" height="51" fill="#ff8000"/>
<rect x="1851" y="466" width="51" height="51" fill="#ff8000"/>
<rect x="1901" y="466" width="51" height="51" fill="#ff8000"/>
<rect x="1951" y="466" width="51" height="51" fill="#ff8000"/>
<rect x="2001" y="466" width="51" height="51" fill="#ff8000"/>
<rect x="2051" y="466" width="51" height="51" fill="#ff8000"/>
<rect x="2101" y="466" width="51" height="51" fill="#ff8000"/>
<rect x="2151" y="466" width="51" height="51" fill="#ff8000"/>
<rect x="2201" y="466" width="51" height="51" fill="#ff8000"/>
<rect x="2251" y="466" width="51" height="51" fill="#ff8000"/>
<rect x="2301" y="466" width="51" height="51" fill="#ff8000"/>
<rect x="2351" y="466" width="51" height="51" fill="#ff8000"/>
<rect x="2401" y="466" width="51" height="51" fill="#ff8000"/>
<rect x="2451" y="466" width="51" height="51" fill="#ff8000"/>
<rect x="2501" y="466" width="51" height="51" fill="#ff8000"/>
<rect x="2551" y="466" width="51" height="51" fill="#ff8000"/>
<rect x="2601" y="466" width="51" height="51" fill="#ff8000"/>
<rect x="51" y="516" width="51" height="51" fill="#ffa600"/>
<rect x="101" y="516" width="51" height="51" fill="#ffa600"/>
<rect x="151" y="516" width="51" height="51" fill="#ffa600"/>
<rect x="201" y="516" width="51" height="51" fill="#ffa500"/>
<rect x="251" y="516" width="51" height="51" fill="#ffa500"/>
<rect x="301" y="516" width="51" height="51" fill="#ffa400"/>
<rect x="351" y="516" width="51" height="51" fill="#ffa300"/>
<rect x="401" y="516" width="51" height="51" fill="#ffa300"/>
<rect x="451" y="516" width="51" height="51" fill="#ffa200"/>
<rect x="501" y="516" width="51" height="51" fill="#ffa100"/>
<rect x="551" y="516" width="51" height="51" fill="#ffa000"/>
<rect x="601" y="516" width="51" height="51" fill="#ff9f00"/>
<rect x="651" y="516" width="51" height="51" fill="#ff9e00"/>
<rect x="701" y="516" width="51" height="51" fill="#ff9900"/>
<rect x="751" y="516" width="51" height="51" fill="#ff9500"/>
<rect x="801" y="516" width="51" height="51" fill="#ff9100"/>
<rect x="851" y="516" width="51" height="51" fill="#ff8d00"/>
<rect x="901" y="516" width="51" height="51" fill="#ff8c00"/>
<rect x="951" y="516" width="51" height="51" fill="#ff8b00"/>
<rect x="1001" y="516" width="51" height="51" fill="#ff8b00"/>
<rect x="1051" y="516" width="51" height="51" fill="#ff8a00"/>
<rect x="1101" y="516" width="51" height="51" fill="#ff8a00"/>
<rect x="1151" y="516" width="51" height="51" fill="#ff8a00"/>
<rect x="1201" y="516" width="51" height="51" fill="#ff8900"/>
<rect x="1251" y="516" width="51" height="51" fill="#ff8900"/>
<rect x="1301" y="516" width="51" height="51" fill="#ff8800"/>
<rect x="1351" y="516" width="51" height="51" fill="#ff8800"/>
<rect x="1401" y="516" width="51" height="51" fill="#ff8800"/>
<rect x="1451" y="516" width="51" height="51" fill="#ff8700"/>
<rect x="1501" y="516" width="51" height="51" fill="#ff8700"/>
<rect x="1551" y="516" width="51" height="51" fill="#ff8700"/>
<rect x="1601" y="516" width="51" height="51" fill="#ff8600"/>
<rect x="1651" y="516" width="51" height="51" fill="#ff8400"/>
<rect x="1701" y="516" width="51" height="51" fill="#ff8300"/>
<rect x="1751" y="516" width="51" height="51" fill="#ff8100"/>
<rect x="1801" y="516" width="51" height="51" fill="#ff8000"/>
<rect x="1851" y="516" width="51" height="51" fill="#ff8000"/>
<rect x="1901" y="516" width="51" height="51" fill="#ff8000"/>
<rect x="1951" y="516" width="51" height="51" fill="#ff8000"/>
<rect x="2001" y="516" width="51" height="51" fill="#ff8000"/>
<rect x="2051" y="516" width="51" height="51" fill="#ff8000"/>
<rect x="2101" y="516" width="51" height="51" fill="#ff8000"/>
<rect x="2151" y="516" width="51" height="51" fill="#ff8000"/>
<rect x="2201" y="516" width="51" height="51" fill="#ff8000"/>
<rect x="2251" y="516" width="51" height="51" fill="#ff8000"/>
<rect x="2301" y="516" width="51" height="51" fill="#ff8000"/>
<rect x="2351" y="516" width="51" height="51" fill="#ff8000"/>
<rect x="2401" y="516" width="51" height="51" fill="#ff8100"/>
<rect x="2451" y="516" width="51" height="51" fill="#ff8100"/>
<rect x="2501" y="516" width="51" height="51" fill="#ff8100"/>
<rect x="2551" y="516" width="51" height="51" fill="#ff8100"/>
<rect x="2601" y="516" width="51" height="51" fill="#ff8100"/>
<rect x="51" y="566" width="51" height="51" fill="#ffa700"/>
<rect x="101" y="566" width="51" height="51" fill="#ffa700"/>
<rect x="151" y="566" width="51" height="51" fill="#ffa700"/>
<rect x="201" y="566" width="51" height="51" fill="#ffa700"/>
<rect x="251" y="566" width="51" height="51" fill="#ffa600"/>
<rect x="301" y="566" width="51" height="51" fill="#ffa600"/>
<rect x="351" y="566" width="51" height="51" fill="#ffa500"/>
<rect x="401" y="566" width="51" height="51" fill="#ffa400"/>
<rect x="451" y="566" width="51" height="51" fill="#ffa300"/>
<rect x="501" y="566" width="51" height="51" fill="#ffa200"/>
<rect x="551" y="566" width="51" height="51" fill="#ffa100"/>
<rect x="601" y="566" width="51" height="51" fill="#ffa000"/>
<rect x="651" y="566" width="51" height="51" fill="#ff9e00"/>
<rect x="701" y="566" width="51" height="51" fill="#ff9a00"/>
<rect x="751" y="566" width="51" height="51" fill="#ff9600"/>
<rect x="801" y="566" width="51" height="51" fill="#ff9100"/>
<rect x="851" y="566" width="51" height="51" fill="#ff8d00"/>
<rect x="901" y="566" width="51" height="51" fill="#ff8c00"/>
<rect x="951" y="566" width="51" height="51" fill="#ff8b00"/>
<rect x="1001" y="566" width="51" height="51" fill="#ff8b00"/>
<rect x="1051" y="566" width="51" height="51" fill="#ff8a00"/>
<rect x="1101" y="566" width="51" height="51" fill="#ff8a00"/>
<rect x="1151" y="566" width="51" height="51" fill="#ff8a00"/>
<rect x="1201" y="566" width="51" height="51" fill="#ff8900"/>
<rect x="1251" y="566" width="51" height="51" fill="#ff8900"/>
<rect x="1301" y="566" width="51" height="51" fill="#ff8800"/>
<rect x="1351" y="566" width="51" height="51" fill="#ff8800"/>
<rect x="1401" y="566" width="51" height="51" fill="#ff8800"/>
<rect x="1451" y="566" width="51" height="51" fill="#ff8800"/>
<rect x="1501" y="566" width="51" height="51" fill="#ff8800"/>
<rect x="1551" y="566" width="51" height="51" fill="#ff8700"/>
<rect x="1601" y="566" width="51" height="51" fill="#ff8600"/>
<rect x="1651" y="566" width="51" height="51" fill="#ff8400"/>
<rect x="1701" y="566" width="51" height="51" fill="#ff8300"/>
<rect x="1751" y="566" width="51" height="51" fill="#ff8100"/>
<rect x="1801" y="566" width="51" height="51" fill="#ff8000"/>
<rect x="1851" y="566" width="51" height="51" fill="#ff8000"/>
<rect x="1901" y="566" width="51" height="51" fill="#ff8000"/>
<rect x="1951" y="566" width="51" height="51" fill="#ff8000"/>
<rect x="2001" y="566" width="51" height="51" fill="#ff8000"/>
<rect x="2051" y="566" width="51" height="51" fill="#ff8000"/>
<rect x="2101" y="566" width="51" height="51" fill="#ff8000"/>
<rect x="2151" y="566" width="51" height="51" fill="#ff8000"/>
<rect x="2201" y="566" width="51" height="51" fill="#ff8000"/>
<rect x="2251" y="566" width="51" height="51" fill="#ff8000"/>
<rect x="2301" y="566" width="51" height="51" fill="#ff8000"/>
<rect x="2351" y="566" width="51" height="51" fill="#ff8100"/>
<rect x="2401" y="566" width="51" height="51" fill="#ff8100"/>
<rect x="2451" y="566" width="51" height="51" fill="#ff8100"/>
<rect x="2501" y="566" width="51" height="51" fill="#ff8100"/>
<rect x="2551" y="566" width="51" height="51" fill="#ff8100"/>
<rect x="2601" y="566" width="51" height="51" fill="#ff8100"/>
<rect x="51" y="616" width="51" height="51" fill="#ffa900"/>
<rect x="101" y="616" width="51" height="51" fill="#ffa900"/>
<rect x="151" y="616" width="51" height="51" fill="#ffa900"/>
<rect x="201" y="616" width="51" height="51" fill="#ffa900"/>
<rect x="251" y="616" width="51" height="51" fill="#ffa800"/>
<rect x="301" y="616" width="51" height="51" fill="#ffa700"/>
<rect x="351" y="616" width="51" height="51" fill="#ffa600"/>
<rect x="401" y="616" width="51" height="51" fill="#ffa600"/>
<rect x="451" y="616" width="51" height="51" fill="#ffa400"/>
<rect x="501" y="616" width="51" height="51" fill="#ffa300"/>
<rect x="551" y="616" width="51" height="51" fill="#ffa200"/>
<rect x="601" y="616" width="51" height="51" fill="#ffa100"/>
<rect x="651" y="616" width="51" height="51" fill="#ff9e00"/>
<rect x="701" y="616" width="51" height="51" fill="#ff9a00"/>
<rect x="751" y="616" width="51" height="51" fill="#ff9600"/>
<rect x="801" y="616" width="51" height="51" fill="#ff9200"/>
<rect x="851" y="616" width="51" height="51" fill="#ff8d00"/>
<rect x="901" y="616" width="51" height="51" fill="#ff8c00"/>
<rect x="951" y="616" width="51" height="51" fill="#ff8b00"/>
<rect x="1001" y="616" width="51" height="51" fill="#ff8b00"/>
<rect x="1051" y="616" width="51" height="51" fill="#ff8a00"/>
<rect x="1101" y="616" width="51" height="51" fill="#ff8a00"/>
<rect x="1151" y="616" width="51" height="51" fill="#ff8a00"/>
<rect x="1201" y="616" width="51" height="51" fill="#ff8900"/>
<rect x="1251" y="616" width="51" height="51" fill="#ff8900"/>
<rect x="1301" y="616" width="51" height="51" fill="#ff8800"/>
<rect x="1351" y="616" width="51" height="51" fill="#ff8800"/>
<rect x="1401" y="616" width="51" height="51" fill="#ff8800"/>
<rect x="1451" y="616" width="51" height="51" fill="#ff8800"/>
<rect x="1501" y="616" width="51" height="51" fill="#ff8800"/>
<rect x="1551" y="616" width="51" height="51" fill="#ff8800"/>
<rect x="1601" y="616" width="51" height="51" fill="#ff8600"/>
<rect x="1651" y="616" width="51" height="51" fill="#ff8500"/>
<rect x="1701" y="616" width="51" height="51" fill="#ff8300"/>
<rect x="1751" y="616" width="51" height="51" fill="#ff8100"/>
<rect x="1801" y="616" width="51" height="51" fill="#ff8000"/>
<rect x="1851" y="616" width="51" height="51" fill="#ff8000"/>
<rect x="1901" y="616" width="51" height="51" fill="#ff8000"/>
<rect x="1951" y="616" width="51" height="51" fill="#ff8000"/>
<rect x="2001" y="616" width="51" height="51" fill="#ff8000"/>
<rect x="2051" y="616" width="51" height="51" fill="#ff8000"/>
<rect x="2101" y="616" width="51" height="51" fill="#ff8000"/>
<rect x="2151" y="616" width="51" height="51" fill="#ff8000"/>
<rect x="2201" y="616" width="51" height="51" fill="#ff8000"/>
<rect x="2251" y="616" width="51" height="51" fill="#ff8000"/>
<rect x="2301" y="616" width="51" height="51" fill="#ff8000"/>
<rect x="2351" y="616" width="51" height="51" fill="#ff8100"/>
<rect x="2401" y="616" width="51" height="51" fill="#ff8100"/>
<rect x="2451" y="616" width="51" height="51" fill="#ff8200"/>
<rect x="2501" y="616" width="51" height="51" fill="#ff8200"/>
<rect x="2551" y="616" width="51" height="51" fill="#ff8200"/>
<rect x="2601" y="616" width="51" height="51" fill="#ff8200"/>
<rect x="51" y="666" width="51" height="51" fill="#ffab00"/>
<rect x="101" y="666" width="51" height="51" fill="#ffab00"/>
<rect x="151" y="666" width="51" height="51" fill="#ffab00"/>
<rect x="201" y="666" width="51" height="51" fill="#ffaa00"/>
<rect x="251" y="666" width="51" height="51" fill="#ffa900"/>
<rect x="301" y="666" width="51" height="51" fill="#ffa800"/>
<rect x="351" y="666" width="51" height="51" fill="#ffa800"/>
<rect x="401" y="666" width="51" height="51" fill="#ffa700"/>
<rect x="451" y="666" width="51" height="51" fill="#ffa500"/>
<rect x="501" y="666" width="51" height="51" fill="#ffa400"/>
<rect x="551" y="666" width="51" height="51" fill="#ffa300"/>
<rect x="601" y="666" width="51" height="51" fill="#ffa200"/>
<rect x="651" y="666" width="51" height="51" fill="#ffa000"/>
<rect x="701" y="666" width="51" height="51" fill="#ff9b00"/>
<rect x="751" y="666" width="51" height="51" fill="#ff9700"/>
<rect x="801" y="666" width="51" height="51" fill="#ff9300"/>
<rect x="851" y="666" width="51" height="51" fill="#ff8f00"/>
<rect x="901" y="666" width="51" height="51" fill="#ff8d00"/>
<rect x="951" y="666" width="51" height="51" fill="#ff8d00"/>
<rect x="1001" y="666" width="51" height="51" fill="#ff8c00"/>
<rect x="1051" y="666" width="51" height="51" fill="#ff8b00"/>
<rect x="1101" y="666" width="51" height="51" fill="#ff8b00"/>
<rect x="1151" y="666" width="51" height="51" fill="#ff8a00"/>
<rect x="1201" y="666" width="51" height="51" fill="#ff8a00"/>
<rect x="1251" y="666" width="51" height="51" fill="#ff8900"/>
<rect x="1301" y="666" width="51" height="51" fill="#ff8900"/>
<rect x="1351" y="666" width="51" height="51" fill="#ff8900"/>
<rect x="1401" y="666" width="51" height="51" fill="#ff8800"/>
<rect x="1451" y="666" width="51" height="51" fill="#ff8800"/>
<rect x="1501" y="666" width="51" height="51" fill="#ff8800"/>
<rect x="1551" y="666" width="51" height="51" fill="#ff8800"/>
<rect x="1601" y="666" width="51" height="51" fill="#ff8700"/>
<rect x="1651" y="666" width="51" height="51" fill="#ff8500"/>
<rect x="1701" y="666" width="51" height="51" fill="#ff8300"/>
<rect x="1751" y="666" width="51" height="51" fill="#ff8200"/>
<rect x="1801" y="666" width="51" height="51" fill="#ff8100"/>
<rect x="1851" y="666" width="51" height="51" fill="#ff8100"/>
<rect x="1901" y="666" width="51" height="51" fill="#ff8100"/>
<rect x="1951" y="666" width="51" height="51" fill="#ff8100"/>
<rect x="2001" y="666" width="51" height="51" fill="#ff8100"/>
<rect x="2051" y="666" width="51" height="51" fill="#ff8100"/>
<rect x="2101" y="666" width="51" height="51" fill="#ff8100"/>
<rect x="2151" y="666" width="51" height="51" fill="#ff8100"/>
<rect x="2201" y="666" width="51" height="51" fill="#ff8200"/>
<rect x="2251" y="666" width="51" height="51" fill="#ff8200"/>
<rect x="2301" y="666" width="51" height="51" fill="#ff8200"/>
<rect x="2351" y="666" width="51" height="51" fill="#ff8200"/>
<rect x="2401" y="666" width="51" height="51" fill="#ff8300"/>
<rect x="2451" y="666" width="51" height="51" fill="#ff8300"/>
<rect x="2501" y="666" width="51" height="51" fill="#ff8300"/>
<rect x="2551" y="666" width="51" height="51" fill="#ff8300"/>
<rect x="2601" y="666" width="51" height="51" fill="#ff8300"/>
<rect x="51" y="716" width="51" height="51" fill="#ffac00"/>
<rect x="101" y="716" width="51" height="51" fill="#ffac00"/>
<rect x="151" y="716" width="51" height="51" fill="#ffac00"/>
<rect x="201" y="716" width="51" height="51" fill="#ffab00"/>
<rect x="251" y="716" width="51" height="51" fill="#ffaa00"/>
<rect x="301" y="716" width="51" height="51" fill="#ffa900"/>
<rect x="351" y="716" width="51" height="51" fill="#ffa800"/>
<rect x="401" y="716" width="51" height="51" fill="#ffa800"/>
<rect x="451" y="716" width="51" height="51" fill="#ffa600"/>
<rect x="501" y="716" width="51" height="51" fill="#ffa500"/>
<rect x="551" y="716" width="51" height="51" fill="#ffa400"/>
<rect x="601" y="716" width="51" height="51" fill="#ffa300"/>
<rect x="651" y="716" width="51" height="51" fill="#ffa100"/>
<rect x="701" y="716" width="51" height="51" fill="#ff9d00"/>
<rect x="751" y="716" width="51" height="51" fill="#ff9a00"/>
<rect x="801" y="716" width="51" height="51" fill="#ff9600"/>
<rect x="851" y="716" width="51" height="51" fill="#ff9200"/>
<rect x="901" y="716" width="51" height="51" fill="#ff9000"/>
<rect x="951" y="716" width="51" height="51" fill="#ff8f00"/>
<rect x="1001" y="716" width="51" height="51" fill="#ff8e00"/>
<rect x="1051" y="716" width="51" height="51" fill="#ff8d00"/>
<rect x="1101" y="716" width="51" height="51" fill="#ff8b00"/>
<rect x="1151" y="716" width="51" height="51" fill="#ff8b00"/>
<rect x="1201" y="716" width="51" height="51" fill="#ff8b00"/>
<rect x="1251" y="716" width="51" height="51" fill="#ff8a00"/>
<rect x="1301" y="716" width="51" height="51" fill="#ff8a00"/>
<rect x="1351" y="716" width="51" height="51" fill="#ff8900"/>
<rect x="1401" y="716" width="51" height="51" fill="#ff8900"/>
<rect x="1451" y="716" width="51" height="51" fill="#ff8900"/>
<rect x="1501" y="716" width="51" height="51" fill="#ff8900"/>
<rect x="1551" y="716" width="51" height="51" fill="#ff8900"/>
<rect x="1601" y="716" width="51" height="51" fill="#ff8700"/>
<rect x="1651" y="716" width="51" height="51" fill="#ff8600"/>
<rect x="1701" y="716" width="51" height="51" fill="#ff8400"/>
<rect x="1751" y="716" width="51" height="51" fill="#ff8300"/>
<rect x="1801" y="716" width="51" height="51" fill="#ff8200"/>
<rect x="1851" y="716" width="51" height="51" fill="#ff8200"/>
<rect x="1901" y="716" width="51" height="51" fill="#ff8200"/>
<rect x="1951" y="716" width="51" height="51" fill="#ff8200"/>
<rect x="2001" y="716" width="51" height="51" fill="#ff8200"/>
<rect x="2051" y="716" width="51" height="51" fill="#ff8300"/>
<rect x="2101" y="716" width="51" height="51" fill="#ff8300"/>
<rect x="2151" y="716" width="51" height="51" fill="#ff8400"/>
<rect x="2201" y="716" width="51" height="51" fill="#ff8400"/>
<rect x="2251" y="716" width="51" height="51" fill="#ff8500"/>
<rect x="2301" y="716" width="51" height="51" fill="#ff8500"/>
<rect x="2351" y="716" width="51" height="51" fill="#ff8500"/>
<rect x="2401" y="716" width="51" height="51" fill="#ff8500"/>
<rect x="2451" y="716" width="51" height="51" fill="#ff8500"/>
<rect x="2501" y="716" width="51" height="51" fill="#ff8500"/>
<rect x="2551" y="716" width="51" height="51" fill="#ff8500"/>
<rect x="2601" y="716" width="51" height="51" fill="#ff8500"/>
<rect x="51" y="766" width="51" height="51" fill="#ffac00"/>
<rect x="101" y="766" width="51" height="51" fill="#ffac00"/>
<rect x="151" y="766" width="51" height="51" fill="#ffac00"/>
<rect x="201" y="766" width="51" height="51" fill="#ffac00"/>
<rect x="251" y="766" width="51" height="51" fill="#ffab00"/>
<rect x="301" y="766" width="51" height="51" fill="#ffaa00"/>
<rect x="351" y="766" width="51" height="51" fill="#ffa900"/>
<rect x="401" y="766" width="51" height="51" fill="#ffa900"/>
<rect x="451" y="766" width="51" height="51" fill="#ffa700"/>
<rect x="501" y="766" width="51" height="51" fill="#ffa600"/>
<rect x="551" y="766" width="51" height="51" fill="#ffa500"/>
<rect x="601" y="766" width="51" height="51" fill="#ffa400"/>
<rect x="651" y="766" width="51" height="51" fill="#ffa300"/>
<rect x="701" y="766" width="51" height="51" fill="#ff9f00"/>
<rect x="751" y="766" width="51" height="51" fill="#ff9c00"/>
<rect x="801" y="766" width="51" height="51" fill="#ff9900"/>
<rect x="851" y="766" width="51" height="51" fill="#ff9500"/>
<rect x="901" y="766" width="51" height="51" fill="#ff9300"/>
<rect x="951" y="766" width="51" height="51" fill="#ff9200"/>
<rect x="1001" y="766" width="51" height="51" fill="#ff9000"/>
<rect x="1051" y="766" width="51" height="51" fill="#ff8e00"/>
<rect x="1101" y="766" width="51" height="51" fill="#ff8c00"/>
<rect x="1151" y="766" width="51" height="51" fill="#ff8c00"/>
<rect x="1201" y="766" width="51" height="51" fill="#ff8c00"/>
<rect x="1251" y="766" width="51" height="51" fill="#ff8b00"/>
<rect x="1301" y="766" width="51" height="51" fill="#ff8b00"/>
<rect x="1351" y="766" width="51" height="51" fill="#ff8a00"/>
<rect x="1401" y="766" width="51" height="51" fill="#ff8a00"/>
<rect x="1451" y="766" width="51" height="51" fill="#ff8a00"/>
<rect x="1501" y="766" width="51" height="51" fill="#ff8a00"/>
<rect x="1551" y="766" width="51" height="51" fill="#ff8900"/>
<rect x="1601" y="766" width="51" height="51" fill="#ff8800"/>
<rect x="1651" y="766" width="51" height="51" fill="#ff8600"/>
<rect x="1701" y="766" width="51" height="51" fill="#ff8500"/>
<rect x="1751" y="766" width="51" height="51" fill="#ff8300"/>
<rect x="1801" y="766" width="51" height="51" fill="#ff8300"/>
<rect x="1851" y="766" width="51" height="51" fill="#ff8300"/>
<rect x="1901" y="766" width="51" height="51" fill="#ff8300"/>
<rect x="1951" y="766" width="51" height="51" fill="#ff8300"/>
<rect x="2001" y="766" width="51" height="51" fill="#ff8400"/>
<rect x="2051" y="766" width="51" height="51" fill="#ff8400"/>
<rect x="2101" y="766" width="51" height="51" fill="#ff8500"/>
<rect x="2151" y="766" width="51" height="51" fill="#ff8600"/>
<rect x="2201" y="766" width="51" height="51" fill="#ff8700"/>
<rect x="2251" y="766" width="51" height="51" fill="#ff8700"/>
<rect x="2301" y="766" width="51" height="51" fill="#ff8700"/>
<rect x="2351" y="766" width="51" height="51" fill="#ff8700"/>
<rect x="2401" y="766" width="51" height="51" fill="#ff8700"/>
<rect x="2451" y="766" width="51" height="51" fill="#ff8700"/>
<rect x="2501" y="766" width="51" height="51" fill="#ff8700"/>
<rect x="2551" y="766" width="51" height="51" fill="#ff8700"/>
<rect x="2601" y="766" width="51" height="51" fill="#ff8700"/>
<rect x="51" y="816" width="51" height="51" fill="#ffad00"/>
<rect x="101" y="816" width="51" height="51" fill="#ffad00"/>
<rect x="151" y="816" width="51" height="51" fill="#ffad00"/>
<rect x="201" y="816" width="51" height="51" fill="#ffad00"/>
<rect x="251" y="816" width="51" height="51" fill="#ffac00"/>
<rect x="301" y="816" width="51" height="51" fill="#ffab00"/>
<rect x="351" y="816" width="51" height="51" fill="#ffaa00"/>
<rect x="401" y="816" width="51" height="51" fill="#ffa900"/>
<rect x="451" y="816" width="51" height="51" fill="#ffa900"/>
<rect x="501" y="816" width="51" height="51" fill="#ffa800"/>
<rect x="551" y="816" width="51" height="51" fill="#ffa700"/>
<rect x="601" y="816" width="51" height="51" fill="#ffa600"/>
<rect x="651" y="816" width="51" height="51" fill="#ffa400"/>
<rect x="701" y="816" width="51" height="51" fill="#ffa100"/>
<rect x="751" y="816" width="51" height="51" fill="#ff9e00"/>
<rect x="801" y="816" width="51" height="51" fill="#ff9b00"/>
<rect x="851" y="816" width="51" height="51" fill="#ff9900"/>
<rect x="901" y="816" width="51" height="51" fill="#ff9600"/>
<rect x="951" y="816" width="51" height="51" fill="#ff9400"/>
<rect x="1001" y="816" width="51" height="51" fill="#ff9200"/>
<rect x="1051" y="816" width="51" height="51" fill="#ff8f00"/>
<rect x="1101" y="816" width="51" height="51" fill="#ff8d00"/>
<rect x="1151" y="816" width="51" height="51" fill="#ff8d00"/>
<rect x="1201" y="816" width="51" height="51" fill="#ff8c00"/>
<rect x="1251" y="816" width="51" height="51" fill="#ff8c00"/>
<rect x="1301" y="816" width="51" height="51" fill="#ff8c00"/>
<rect x="1351" y="816" width="51" height="51" fill="#ff8b00"/>
<rect x="1401" y="816" width="51" height="51" fill="#ff8b00"/>
<rect x="1451" y="816" width="51" height="51" fill="#ff8a00"/>
<rect x="1501" y="816" width="51" height="51" fill="#ff8a00"/>
<rect x="1551" y="816" width="51" height="51" fill="#ff8a00"/>
<rect x="1601" y="816" width="51" height="51" fill="#ff8800"/>
<rect x="1651" y="816" width="51" height="51" fill="#ff8700"/>
<rect x="1701" y="816" width="51" height="51" fill="#ff8600"/>
<rect x="1751" y="816" width="51" height="51" fill="#ff8400"/>
<rect x="1801" y="816" width="51" height="51" fill="#ff8300"/>
<rect x="1851" y="816" width="51" height="51" fill="#ff8400"/>
<rect x="1901" y="816" width="51" height="51" fill="#ff8400"/>
<rect x="1951" y="816" width="51" height="51" fill="#ff8500"/>
<rect x="2001" y="816" width="51" height="51" fill="#ff8500"/>
<rect x="2051" y="816" width="51" height="51" fill="#ff8600"/>
<rect x="2101" y="816" width="51" height="51" fill="#ff8700"/>
<rect x="2151" y="816" width="51" height="51" fill="#ff8800"/>
<rect x="2201" y="816" width="51" height="51" fill="#ff8900"/>
<rect x="2251" y="816" width="51" height="51" fill="#ff8a00"/>
<rect x="2301" y="816" width="51" height="51" fill="#ff8a00"/>
<rect x="2351" y="816" width="51" height="51" fill="#ff8900"/>
<rect x="2401" y="816" width="51" height="51" fill="#ff8900"/>
<rect x="2451" y="816" width="51" height="51" fill="#ff8900"/>
<rect x="2501" y="816" width="51" height="51" fill="#ff8900"/>
<rect x="2551" y="816" width="51" height="51" fill="#ff8900"/>
<rect x="2601" y="816" width="51" height="51" fill="#ff8900"/>
<rect x="51" y="866" width="51" height="51" fill="#ffae00"/>
<rect x="101" y="866" width="51" height="51" fill="#ffae00"/>
<rect x="151" y="866" width="51" height="51" fill="#ffae00"/>
<rect x="201" y="866" width="51" height="51" fill="#ffae00"/>
<rect x="251" y="866" width="51" height="51" fill="#ffad00"/>
<rect x="301" y="866" width="51" height="51" fill="#ffac00"/>
<rect x="351" y="866" width="51" height="51" fill="#ffab00"/>
<rect x="401" y="866" width="51" height="51" fill="#ffaa00"/>
<rect x="451" y="866" width="51" height="51" fill="#ffa900"/>
<rect x="501" y="866" width="51" height="51" fill="#ffa900"/>
<rect x="551" y="866" width="51" height="51" fill="#ffa800"/>
<rect x="601" y="866" width="51" height="51" fill="#ffa700"/>
<rect x="651" y="866" width="51" height="51" fill="#ffa500"/>
<rect x="701" y="866" width="51" height="51" fill="#ffa300"/>
<rect x="751" y="866" width="51" height="51" fill="#ffa000"/>
<rect x="801" y="866" width="51" height="51" fill="#ff9d00"/>
<rect x="851" y="866" width="51" height="51" fill="#ff9b00"/>
<rect x="901" y="866" width="51" height="51" fill="#ff9800"/>
<rect x="951" y="866" width="51" height="51" fill="#ff9500"/>
<rect x="1001" y="866" width="51" height="51" fill="#ff9300"/>
<rect x="1051" y="866" width="51" height="51" fill="#ff9000"/>
<rect x="1101" y="866" width="51" height="51" fill="#ff8e00"/>
<rect x="1151" y="866" width="51" height="51" fill="#ff8d00"/>
<rect x="1201" y="866" width="51" height="51" fill="#ff8d00"/>
<rect x="1251" y="866" width="51" height="51" fill="#ff8c00"/>
<rect x="1301" y="866" width="51" height="51" fill="#ff8c00"/>
<rect x="1351" y="866" width="51" height="51" fill="#ff8c00"/>
<rect x="1401" y="866" width="51" height="51" fill="#ff8b00"/>
<rect x="1451" y="866" width="51" height="51" fill="#ff8b00"/>
<rect x="1501" y="866" width="51" height="51" fill="#ff8a00"/>
<rect x="1551" y="866" width="51" height="51" fill="#ff8a00"/>
<rect x="1601" y="866" width="51" height="51" fill="#ff8900"/>
<rect x="1651" y="866" width="51" height="51" fill="#ff8800"/>
<rect x="1701" y="866" width="51" height="51" fill="#ff8600"/>
<rect x="1751" y="866" width="51" height="51" fill="#ff8500"/>
<rect x="1801" y="866" width="51" height="51" fill="#ff8500"/>
<rect x="1851" y="866" width="51" height="51" fill="#ff8500"/>
<rect x="1901" y="866" width="51" height="51" fill="#ff8600"/>
<rect x="1951" y="866" width="51" height="51" fill="#ff8700"/>
<rect x="2001" y="866" width="51" height="51" fill="#ff8700"/>
<rect x="2051" y="866" width="51" height="51" fill="#ff8800"/>
<rect x="2101" y="866" width="51" height="51" fill="#ff8a00"/>
<rect x="2151" y="866" width="51" height="51" fill="#ff8b00"/>
<rect x="2201" y="866" width="51" height="51" fill="#ff8d00"/>
<rect x="2251" y="866" width="51" height="51" fill="#ff8e00"/>
<rect x="2301" y="866" width="51" height="51" fill="#ff8d00"/>
<rect x="2351" y="866" width="51" height="51" fill="#ff8d00"/>
<rect x="2401" y="866" width="51" height="51" fill="#ff8d00"/>
<rect x="2451" y="866" width="51" height="51" fill="#ff8c00"/>
<rect x="2501" y="866" width="51" height="51" fill="#ff8c00"/>
<rect x="2551" y="866" width="51" height="51" fill="#ff8c00"/>
<rect x="2601" y="866" width="51" height="51" fill="#ff8c00"/>
<rect x="51" y="916" width="51" height="51" fill="#ffaf00"/>
<rect x="101" y="916" width="51" height="51" fill="#ffaf00"/>
<rect x="151" y="916" width="51" height="51" fill="#ffaf00"/>
<rect x="201" y="916" width="51" height="51" fill="#ffaf00"/>
<rect x="251" y="916" width="51" height="51" fill="#ffae00"/>
<rect x="301" y="916" width="51" height="51" fill="#ffad00"/>
<rect x="351" y="916" width="51" height="51" fill="#ffac00"/>
<rect x="401" y="916" width="51" height="51" fill="#ffab00"/>
<rect x="451" y="916" width="51" height="51" fill="#ffaa00"/>
<rect x="501" y="916" width="51" height="51" fill="#ffa900"/>
<rect x="551" y="916" width="51" height="51" fill="#ffa800"/>
<rect x="601" y="916" width="51" height="51" fill="#ffa700"/>
<rect x="651" y="916" width="51" height="51" fill="#ffa500"/>
<rect x="701" y="916" width="51" height="51" fill="#ffa200"/>
<rect x="751" y="916" width="51" height="51" fill="#ffa000"/>
<rect x="801" y="916" width="51" height="51" fill="#ff9d00"/>
<rect x="851" y="916" width="51" height="51" fill="#ff9a00"/>
<rect x="901" y="916" width="51" height="51" fill="#ff9800"/>
<rect x="951" y="916" width="51" height="51" fill="#ff9500"/>
<rect x="1001" y="916" width="51" height="51" fill="#ff9200"/>
<rect x="1051" y="916" width="51" height="51" fill="#ff9000"/>
<rect x="1101" y="916" width="51" height="51" fill="#ff8d00"/>
<rect x="1151" y="916" width="51" height="51" fill="#ff8d00"/>
<rect x="1201" y="916" width="51" height="51" fill="#ff8c00"/>
<rect x="1251" y="916" width="51" height="51" fill="#ff8c00"/>
<rect x="1301" y="916" width="51" height="51" fill="#ff8b00"/>
<rect x="1351" y="916" width="51" height="51" fill="#ff8b00"/>
<rect x="1401" y="916" width="51" height="51" fill="#ff8b00"/>
<rect x="1451" y="916" width="51" height="51" fill="#ff8a00"/>
<rect x="1501" y="916" width="51" height="51" fill="#ff8a00"/>
<rect x="1551" y="916" width="51" height="51" fill="#ff8a00"/>
<rect x="1601" y="916" width="51" height="51" fill="#ff8900"/>
<rect x="1651" y="916" width="51" height="51" fill="#ff8800"/>
<rect x="1701" y="916" width="51" height="51" fill="#ff8700"/>
<rect x="1751" y="916" width="51" height="51" fill="#ff8600"/>
<rect x="1801" y="916" width="51" height="51" fill="#ff8600"/>
<rect x="1851" y="916" width="51" height="51" fill="#ff8700"/>
<rect x="1901" y="916" width="51" height="51" fill="#ff8900"/>
<rect x="1951" y="916" width="51" height="51" fill="#ff8a00"/>
<rect x="2001" y="916" width="51" height="51" fill="#ff8b00"/>
<rect x="2051" y="916" width="51" height="51" fill="#ff8d00"/>
<rect x="2101" y="916" width="51" height="51" fill="#ff8f00"/>
<rect x="2151" y="916" width="51" height="51" fill="#ff9100"/>
<rect x="2201" y="916" width="51" height="51" fill="#ff9200"/>
<rect x="2251" y="916" width="51" height="51" fill="#ff9400"/>
<rect x="2301" y="916" width="51" height="51" fill="#ff9400"/>
<rect x="2351" y="916" width="51" height="51" fill="#ff9300"/>
<rect x="2401" y="916" width="51" height="51" fill="#ff9300"/>
<rect x="2451" y="916" width="51" height="51" fill="#ff9300"/>
<rect x="2501" y="916" width="51" height="51" fill="#ff9300"/>
<rect x="2551" y="916" width="51" height="51" fill="#ff9300"/>
<rect x="2601" y="916" width="51" height="51" fill="#ff9300"/>
<rect x="51" y="966" width="51" height="51" fill="#ffb000"/>
<rect x="101" y="966" width="51" height="51" fill="#ffb000"/>
<rect x="151" y="966" width="51" height="51" fill="#ffb000"/>
<rect x="201" y="966" width="51" height="51" fill="#ffb000"/>
<rect x="251" y="966" width="51" height="51" fill="#ffaf00"/>
<rect x="301" y="966" width="51" height="51" fill="#ffae00"/>
<rect x="351" y="966" width="51" height="51" fill="#ffad00"/>
<rect x="401" y="966" width="51" height="51" fill="#ffac00"/>
<rect x="451" y="966" width="51" height="51" fill="#ffab00"/>
<rect x="501" y="966" width="51" height="51" fill="#ffaa00"/>
<rect x="551" y="966" width="51" height="51" fill="#ffa800"/>
<rect x="601" y="966" width="51" height="51" fill="#ffa700"/>
<rect x="651" y="966" width="51" height="51" fill="#ffa500"/>
<rect x="701" y="966" width="51" height="51" fill="#ffa200"/>
<rect x="751" y="966" width="51" height="51" fill="#ff9f00"/>
<rect x="801" y="966" width="51" height="51" fill="#ff9d00"/>
<rect x="851" y="966" width="51" height="51" fill="#ff9a00"/>
<rect x="901" y="966" width="51" height="51" fill="#ff9700"/>
<rect x="951" y="966" width="51" height="51" fill="#ff9400"/>
<rect x="1001" y="966" width="51" height="51" fill="#ff9200"/>
<rect x="1051" y="966" width="51" height="51" fill="#ff8f00"/>
<rect x="1101" y="966" width="51" height="51" fill="#ff8d00"/>
<rect x="1151" y="966" width="51" height="51" fill="#ff8c00"/>
<rect x="1201" y="966" width="51" height="51" fill="#ff8c00"/>
<rect x="1251" y="966" width="51" height="51" fill="#ff8b00"/>
<rect x="1301" y="966" width="51" height="51" fill="#ff8a00"/>
<rect x="1351" y="966" width="51" height="51" fill="#ff8a00"/>
<rect x="1401" y="966" width="51" height="51" fill="#ff8a00"/>
<rect x="1451" y="966" width="51" height="51" fill="#ff8a00"/>
<rect x="1501" y="966" width="51" height="51" fill="#ff8a00"/>
<rect x="1551" y="966" width="51" height="51" fill="#ff8a00"/>
<rect x="1601" y="966" width="51" height="51" fill="#ff8900"/>
<rect x="1651" y="966" width="51" height="51" fill="#ff8900"/>
<rect x="1701" y="966" width="51" height="51" fill="#ff8800"/>
<rect x="1751" y="966" width="51" height="51" fill="#ff8800"/>
<rect x="1801" y="966" width="51" height="51" fill="#ff8800"/>
<rect x="1851" y="966" width="51" height="51" fill="#ff8a00"/>
<rect x="1901" y="966" width="51" height="51" fill="#ff8c00"/>
<rect x="1951" y="966" width="51" height="51" fill="#ff8d00"/>
<rect x="2001" y="966" width="51" height="51" fill="#ff8f00"/>
<rect x="2051" y="966" width="51" height="51" fill="#ff9100"/>
<rect x="2101" y="966" width="51" height="51" fill="#ff9400"/>
<rect x="2151" y="966" width="51" height="51" fill="#ff9600"/>
<rect x="2201" y="966" width="51" height="51" fill="#ff9800"/>
<rect x="2251" y="966" width="51" height="51" fill="#ff9a00"/>
<rect x="2301" y="966" width="51" height="51" fill="#ff9a00"/>
<rect x="2351" y="966" width="51" height="51" fill="#ff9a00"/>
<rect x="2401" y="966" width="51" height="51" fill="#ff9900"/>
<rect x="2451" y="966" width="51" height="51" fill="#ff9900"/>
<rect x="2501" y="966" width="51" height="51" fill="#ff9900"/>
<rect x="2551" y="966" width="51" height="51" fill="#ff9900"/>
<rect x="2601" y="966" width="51" height="51" fill="#ff9900"/>
<rect x="51" y="1016" width="51" height="51" fill="#ffb100"/>
<rect x="101" y="1016" width="51" height="51" fill="#ffb100"/>
<rect x="151" y="1016" width="51" height="51" fill="#ffb100"/>
<rect x="201" y="1016" width="51" height="51" fill="#ffb100"/>
<rect x="251" y="1016" width="51" height="51" fill="#ffb000"/>
<rect x="301" y="1016" width="51" height="51" fill="#ffaf00"/>
<rect x="351" y="1016" width="51" height="51" fill="#ffae00"/>
<rect x="401" y="1016" width="51" height="51" fill="#ffad00"/>
<rect x="451" y="1016" width="51" height="51" fill="#ffac00"/>
<rect x="501" y="1016" width="51" height="51" fill="#ffaa00"/>
<rect x="551" y="1016" width="51" height="51" fill="#ffa900"/>
<rect x="601" y="1016" width="51" height="51" fill="#ffa700"/>
<rect x="651" y="1016" width="51" height="51" fill="#ffa500"/>
<rect x="701" y="1016" width="51" height="51" fill="#ffa200"/>
<rect x="751" y="1016" width="51" height="51" fill="#ff9f00"/>
<rect x="801" y="1016" width="51" height="51" fill="#ff9c00"/>
<rect x="851" y="1016" width="51" height="51" fill="#ff9900"/>
<rect x="901" y="1016" width="51" height="51" fill="#ff9700"/>
<rect x="951" y="1016" width="51" height="51" fill="#ff9400"/>
<rect x="1001" y="1016" width="51" height="51" fill="#ff9100"/>
<rect x="1051" y="1016" width="51" height="51" fill="#ff8f00"/>
<rect x="1101" y="1016" width="51" height="51" fill="#ff8c00"/>
<rect x="1151" y="1016" width="51" height="51" fill="#ff8c00"/>
<rect x="1201" y="1016" width="51" height="51" fill="#ff8b00"/>
<rect x="1251" y="1016" width="51" height="51" fill="#ff8a00"/>
<rect x="1301" y="1016" width="51" height="51" fill="#ff8900"/>
<rect x="1351" y="1016" width="51" height="51" fill="#ff8900"/>
<rect x="1401" y="1016" width="51" height="51" fill="#ff8900"/>
<rect x="1451" y="1016" width="51" height="51" fill="#ff8a00"/>
<rect x="1501" y="1016" width="51" height="51" fill="#ff8a00"/>
<rect x="1551" y="1016" width="51" height="51" fill="#ff8a00"/>
<rect x="1601" y="1016" width="51" height="51" fill="#ff8a00"/>
<rect x="1651" y="1016" width="51" height="51" fill="#ff8900"/>
<rect x="1701" y="1016" width="51" height="51" fill="#ff8900"/>
<rect x="1751" y="1016" width="51" height="51" fill="#ff8900"/>
<rect x="1801" y="1016" width="51" height="51" fill="#ff8900"/>
<rect x="1851" y="1016" width="51" height="51" fill="#ff8c00"/>
<rect x="1901" y="1016" width="51" height="51" fill="#ff8e00"/>
<rect x="1951" y="1016" width="51" height="51" fill="#ff9100"/>
<rect x="2001" y="1016" width="51" height="51" fill="#ff9300"/>
<rect x="2051" y="1016" width="51" height="51" fill="#ff9600"/>
<rect x="2101" y="1016" width="51" height="51" fill="#ff9800"/>
<rect x="2151" y="1016" width="51" height="51" fill="#ff9b00"/>
<rect x="2201" y="1016" width="51" height="51" fill="#ff9e00"/>
<rect x="2251" y="1016" width="51" height="51" fill="#ffa000"/>
<rect x="2301" y="1016" width="51" height="51" fill="#ffa000"/>
<rect x="2351" y="1016" width="51" height="51" fill="#ffa000"/>
<rect x="2401" y="1016" width="51" height="51" fill="#ffa000"/>
<rect x="2451" y="1016" width="51" height="51" fill="#ffa000"/>
<rect x="2501" y="1016" width="51" height="51" fill="#ffa000"/>
<rect x="2551" y="1016" width="51" height="51" fill="#ffa000"/>
<rect x="2601" y="1016" width="51" height="51" fill="#ffa000"/>
<rect x="51" y="1066" width="51" height="51" fill="#ffb200"/>
<rect x="101" y="1066" width="51" height="51" fill="#ffb200"/>
<rect x="151" y="1066" width="51" height="51" fill="#ffb200"/>
<rect x="201" y="1066" width="51" height="51" fill="#ffb200"/>
<rect x="251" y="1066" width="51" height="51" fill="#ffb100"/>
<rect x="301" y="1066" width="51" height="51" fill="#ffb000"/>
<rect x="351" y="1066" width="51" height="51" fill="#ffaf00"/>
<rect x="401" y="1066" width="51" height="51" fill="#ffae00"/>
<rect x="451" y="1066" width="51" height="51" fill="#ffac00"/>
<rect x="501" y="1066" width="51" height="51" fill="#ffab00"/>
<rect x="551" y="1066" width="51" height="51" fill="#ffa900"/>
<rect x="601" y="1066" width="51" height="51" fill="#ffa700"/>
<rect x="651" y="1066" width="51" height="51" fill="#ffa500"/>
<rect x="701" y="1066" width="51" height="51" fill="#ffa200"/>
<rect x="751" y="1066" width="51" height="51" fill="#ff9f00"/>
<rect x="801" y="1066" width="51" height="51" fill="#ff9c00"/>
<rect x="851" y="1066" width="51" height="51" fill="#ff9900"/>
<rect x="901" y="1066" width="51" height="51" fill="#ff9600"/>
<rect x="951" y="1066" width="51" height="51" fill="#ff9300"/>
<rect x="1001" y="1066" width="51" height="51" fill="#ff9100"/>
<rect x="1051" y="1066" width="51" height="51" fill="#ff8e00"/>
<rect x="1101" y="1066" width="51" height="51" fill="#ff8c00"/>
<rect x="1151" y="1066" width="51" height="51" fill="#ff8b00"/>
<rect x="1201" y="1066" width="51" height="51" fill="#ff8a00"/>
<rect x="1251" y="1066" width="51" height="51" fill="#ff8900"/>
<rect x="1301" y="1066" width="51" height="51" fill="#ff8800"/>
<rect x="1351" y="1066" width="51" height="51" fill="#ff8800"/>
<rect x="1401" y="1066" width="51" height="51" fill="#ff8900"/>
<rect x="1451" y="1066" width="51" height="51" fill="#ff8900"/>
<rect x="1501" y="1066" width="51" height="51" fill="#ff8a00"/>
<rect x="1551" y="1066" width="51" height="51" fill="#ff8a00"/>
<rect x="1601" y="1066" width="51" height="51" fill="#ff8a00"/>
<rect x="1651" y="1066" width="51" height="51" fill="#ff8a00"/>
<rect x="1701" y="1066" width="51" height="51" fill="#ff8a00"/>
<rect x="1751" y="1066" width="51" height="51" fill="#ff8a00"/>
<rect x="1801" y="1066" width="51" height="51" fill="#ff8b00"/>
<rect x="1851" y="1066" width="51" height="51" fill="#ff8e00"/>
<rect x="1901" y="1066" width="51" height="51" fill="#ff9100"/>
<rect x="1951" y="1066" width="51" height="51" fill="#ff9400"/>
<rect x="2001" y="1066" width="51" height="51" fill="#ff9700"/>
<rect x="2051" y="1066" width="51" height="51" fill="#ff9a00"/>
<rect x="2101" y="1066" width="51" height="51" fill="#ff9d00"/>
<rect x="2151" y="1066" width="51" height="51" fill="#ffa000"/>
<rect x="2201" y="1066" width="51" height="51" fill="#ffa300"/>
<rect x="2251" y="1066" width="51" height="51" fill="#ffa600"/>
<rect x="2301" y="1066" width="51" height="51" fill="#ffa600"/>
<rect x="2351" y="1066" width="51" height="51" fill="#ffa600"/>
<rect x="2401" y="1066" width="51" height="51" fill="#ffa600"/>
<rect x="2451" y="1066" width="51" height="51" fill="#ffa600"/>
<rect x="2501" y="1066" width="51" height="51" fill="#ffa600"/>
<rect x="2551" y="1066" width="51" height="51" fill="#ffa600"/>
<rect x="2601" y="1066" width="51" height="51" fill="#ffa600"/>
<rect x="51" y="1116" width="51" height="51" fill="#ffb300"/>
<rect x="101" y="1116" width="51" height="51" fill="#ffb300"/>
<rect x="151" y="1116" width="51" height="51" fill="#ffb300"/>
<rect x="201" y="1116" width="51" height="51" fill="#ffb200"/>
<rect x="251" y="1116" width="51" height="51" fill="#ffb100"/>
<rect x="301" y="1116" width="51" height="51" fill="#ffb000"/>
<rect x="351" y="1116" width="51" height="51" fill="#ffb000"/>
<rect x="401" y="1116" width="51" height="51" fill="#ffaf00"/>
<rect x="451" y="1116" width="51" height="51" fill="#ffad00"/>
<rect x="501" y="1116" width="51" height="51" fill="#ffab00"/>
<rect x="551" y="1116" width="51" height="51" fill="#ffa900"/>
<rect x="601" y="1116" width="51" height="51" fill="#ffa800"/>
<rect x="651" y="1116" width="51" height="51" fill="#ffa500"/>
<rect x="701" y="1116" width="51" height="51" fill="#ffa200"/>
<rect x="751" y="1116" width="51" height="51" fill="#ff9f00"/>
<rect x="801" y="1116" width="51" height="51" fill="#ff9b00"/>
<rect x="851" y="1116" width="51" height="51" fill="#ff9800"/>
<rect x="901" y="1116" width="51" height="51" fill="#ff9500"/>
<rect x="951" y="1116" width="51" height="51" fill="#ff9300"/>
<rect x="1001" y="1116" width="51" height="51" fill="#ff9000"/>
<rect x="1051" y="1116" width="51" height="51" fill="#ff8d00"/>
<rect x="1101" y="1116" width="51" height="51" fill="#ff8b00"/>
<rect x="1151" y="1116" width="51" height="51" fill="#ff8a00"/>
<rect x="1201" y="1116" width="51" height="51" fill="#ff8a00"/>
<rect x="1251" y="1116" width="51" height="51" fill="#ff8900"/>
<rect x="1301" y="1116" width="51" height="51" fill="#ff8800"/>
<rect x="1351" y="1116" width="51" height="51" fill="#ff8800"/>
<rect x="1401" y="1116" width="51" height="51" fill="#ff8800"/>
<rect x="1451" y="1116" width="51" height="51" fill="#ff8800"/>
<rect x="1501" y="1116" width="51" height="51" fill="#ff8800"/>
<rect x="1551" y="1116" width="51" height="51" fill="#ff8900"/>
<rect x="1601" y="1116" width="51" height="51" fill="#ff8900"/>
<rect x="1651" y="1116" width="51" height="51" fill="#ff8900"/>
<rect x="1701" y="1116" width="51" height="51" fill="#ff8900"/>
<rect x="1751" y="1116" width="51" height="51" fill="#ff8900"/>
<rect x="1801" y="1116" width="51" height="51" fill="#ff8b00"/>
<rect x="1851" y="1116" width="51" height="51" fill="#ff8e00"/>
<rect x="1901" y="1116" width="51" height="51" fill="#ff9200"/>
<rect x="1951" y="1116" width="51" height="51" fill="#ff9600"/>
<rect x="2001" y="1116" width="51" height="51" fill="#ff9a00"/>
<rect x="2051" y="1116" width="51" height="51" fill="#ff9d00"/>
<rect x="2101" y="1116" width="51" height="51" fill="#ffa000"/>
<rect x="2151" y="1116" width="51" height="51" fill="#ffa300"/>
<rect x="2201" y="1116" width="51" height="51" fill="#ffa500"/>
<rect x="2251" y="1116" width="51" height="51" fill="#ffa800"/>
<rect x="2301" y="1116" width="51" height="51" fill="#ffa800"/>
<rect x="2351" y="1116" width="51" height="51" fill="#ffa800"/>
<rect x="2401" y="1116" width="51" height="51" fill="#ffa900"/>
<rect x="2451" y="1116" width="51" height="51" fill="#ffa900"/>
<rect x="2501" y="1116" width="51" height="51" fill="#ffa900"/>
<rect x="2551" y="1116" width="51" height="51" fill="#ffa900"/>
<rect x="2601" y="1116" width="51" height="51" fill="#ffa900"/>
<rect x="51" y="1166" width="51" height="51" fill="#ffb400"/>
<rect x="101" y="1166" width="51" height="51" fill="#ffb400"/>
<rect x="151" y="1166" width="51" height="51" fill="#ffb400"/>
<rect x="201" y="1166" width="51" height="51" fill="#ffb300"/>
<rect x="251" y="1166" width="51" height="51" fill="#ffb200"/>
<rect x="301" y="1166" width="51" height="51" fill="#ffb100"/>
<rect x="351" y="1166" width="51" height="51" fill="#ffb000"/>
<rect x="401" y="1166" width="51" height="51" fill="#ffaf00"/>
<rect x="451" y="1166" width="51" height="51" fill="#ffad00"/>
<rect x="501" y="1166" width="51" height="51" fill="#ffac00"/>
<rect x="551" y="1166" width="51" height="51" fill="#ffaa00"/>
<rect x="601" y="1166" width="51" height="51" fill="#ffa800"/>
<rect x="651" y="1166" width="51" height="51" fill="#ffa600"/>
<rect x="701" y="1166" width="51" height="51" fill="#ffa200"/>
<rect x="751" y="1166" width="51" height="51" fill="#ff9e00"/>
<rect x="801" y="1166" width="51" height="51" fill="#ff9b00"/>
<rect x="851" y="1166" width="51" height="51" fill="#ff9700"/>
<rect x="901" y="1166" width="51" height="51" fill="#ff9400"/>
<rect x="951" y="1166" width="51" height="51" fill="#ff9200"/>
<rect x="1001" y="1166" width="51" height="51" fill="#ff8f00"/>
<rect x="1051" y="1166" width="51" height="51" fill="#ff8c00"/>
<rect x="1101" y="1166" width="51" height="51" fill="#ff8a00"/>
<rect x="1151" y="1166" width="51" height="51" fill="#ff8a00"/>
<rect x="1201" y="1166" width="51" height="51" fill="#ff8900"/>
<rect x="1251" y="1166" width="51" height="51" fill="#ff8900"/>
<rect x="1301" y="1166" width="51" height="51" fill="#ff8800"/>
<rect x="1351" y="1166" width="51" height="51" fill="#ff8800"/>
<rect x="1401" y="1166" width="51" height="51" fill="#ff8800"/>
<rect x="1451" y="1166" width="51" height="51" fill="#ff8800"/>
<rect x="1501" y="1166" width="51" height="51" fill="#ff8700"/>
<rect x="1551" y="1166" width="51" height="51" fill="#ff8700"/>
<rect x="1601" y="1166" width="51" height="51" fill="#ff8800"/>
<rect x="1651" y="1166" width="51" height="51" fill="#ff8800"/>
<rect x="1701" y="1166" width="51" height="51" fill="#ff8800"/>
<rect x="1751" y="1166" width="51" height="51" fill="#ff8900"/>
<rect x="1801" y="1166" width="51" height="51" fill="#ff8a00"/>
<rect x="1851" y="1166" width="51" height="51" fill="#ff8f00"/>
<rect x="1901" y="1166" width="51" height="51" fill="#ff9300"/>
<rect x="1951" y="1166" width="51" height="51" fill="#ff9800"/>
<rect x="2001" y="1166" width="51" height="51" fill="#ff9c00"/>
<rect x="2051" y="1166" width="51" height="51" fill="#ffa000"/>
<rect x="2101" y="1166" width="51" height="51" fill="#ffa200"/>
<rect x="2151" y="1166" width="51" height="51" fill="#ffa500"/>
<rect x="2201" y="1166" width="51" height="51" fill="#ffa700"/>
<rect x="2251" y="1166" width="51" height="51" fill="#ffaa00"/>
<rect x="2301" y="1166" width="51" height="51" fill="#ffaa00"/>
<rect x="2351" y="1166" width="51" height="51" fill="#ffab00"/>
<rect x="2401" y="1166" width="51" height="51" fill="#ffab00"/>
<rect x="2451" y="1166" width="51" height="51" fill="#ffac00"/>
<rect x="2501" y="1166" width="51" height="51" fill="#ffac00"/>
<rect x="2551" y="1166" width="51" height="51" fill="#ffac00"/>
<rect x="2601" y="1166" width="51" height="51" fill="#ffac00"/>
<rect x="51" y="1216" width="51" height="51" fill="#ffb500"/>
<rect x="101" y="1216" width="51" height="51" fill="#ffb500"/>
<rect x="151" y="1216" width="51" height="51" fill="#ffb500"/>
<rect x="201" y="1216" width="51" height="51" fill="#ffb400"/>
<rect x="251" y="1216" width="51" height="51" fill="#ffb300"/>
<rect x="301" y="1216" width="51" height="51" fill="#ffb200"/>
<rect x="351" y="1216" width="51" height="51" fill="#ffb100"/>
<rect x="401" y="1216" width="51" height="51" fill="#ffaf00"/>
<rect x="451" y="1216" width="51" height="51" fill="#ffae00"/>
<rect x="501" y="1216" width="51" height="51" fill="#ffac00"/>
<rect x="551" y="1216" width="51" height="51" fill="#ffaa00"/>
<rect x="601" y="1216" width="51" height="51" fill="#ffa900"/>
<rect x="651" y="1216" width="51" height="51" fill="#ffa600"/>
<rect x="701" y="1216" width="51" height="51" fill="#ffa200"/>
<rect x="751" y="1216" width="51" height="51" fill="#ff9e00"/>
<rect x="801" y="1216" width="51" height="51" fill="#ff9a00"/>
<rect x="851" y="1216" width="51" height="51" fill="#ff9600"/>
<rect x="901" y="1216" width="51" height="51" fill="#ff9300"/>
<rect x="951" y="1216" width="51" height="51" fill="#ff9100"/>
<rect x="1001" y="1216" width="51" height="51" fill="#ff8e00"/>
<rect x="1051" y="1216" width="51" height="51" fill="#ff8b00"/>
<rect x="1101" y="1216" width="51" height="51" fill="#ff8900"/>
<rect x="1151" y="1216" width="51" height="51" fill="#ff8900"/>
<rect x="1201" y="1216" width="51" height="51" fill="#ff8900"/>
<rect x="1251" y="1216" width="51" height="51" fill="#ff8800"/>
<rect x="1301" y="1216" width="51" height="51" fill="#ff8800"/>
<rect x="1351" y="1216" width="51" height="51" fill="#ff8800"/>
<rect x="1401" y="1216" width="51" height="51" fill="#ff8700"/>
<rect x="1451" y="1216" width="51" height="51" fill="#ff8700"/>
<rect x="1501" y="1216" width="51" height="51" fill="#ff8600"/>
<rect x="1551" y="1216" width="51" height="51" fill="#ff8600"/>
<rect x="1601" y="1216" width="51" height="51" fill="#ff8600"/>
<rect x="1651" y="1216" width="51" height="51" fill="#ff8700"/>
<rect x="1701" y="1216" width="51" height="51" fill="#ff8800"/>
<rect x="1751" y="1216" width="51" height="51" fill="#ff8800"/>
<rect x="1801" y="1216" width="51" height="51" fill="#ff8a00"/>
<rect x="1851" y="1216" width="51" height="51" fill="#ff8f00"/>
<rect x="1901" y="1216" width="51" height="51" fill="#ff9500"/>
<rect x="1951" y="1216" width="51" height="51" fill="#ff9a00"/>
<rect x="2001" y="1216" width="51" height="51" fill="#ff9f00"/>
<rect x="2051" y="1216" width="51" height="51" fill="#ffa200"/>
<rect x="2101" y="1216" width="51" height="51" fill="#ffa500"/>
<rect x="2151" y="1216" width="51" height="51" fill="#ffa700"/>
<rect x="2201" y="1216" width="51" height="51" fill="#ffa900"/>
<rect x="2251" y="1216" width="51" height="51" fill="#ffac00"/>
<rect x="2301" y="1216" width="51" height="51" fill="#ffac00"/>
<rect x="2351" y="1216" width="51" height="51" fill="#ffad00"/>
<rect x="2401" y="1216" width="51" height="51" fill="#ffae00"/>
<rect x="2451" y="1216" width="51" height="51" fill="#ffae00"/>
<rect x="2501" y="1216" width="51" height="51" fill="#ffae00"/>
<rect x="2551" y="1216" width="51" height="51" fill="#ffae00"/>
<rect x="2601" y="1216" width="51" height="51" fill="#ffae00"/>
<rect x="51" y="1266" width="51" height="51" fill="#ffb600"/>
<rect x="101" y="1266" width="51" height="51" fill="#ffb600"/>
<rect x="151" y="1266" width="51" height="51" fill="#ffb600"/>
<rect x="201" y="1266" width="51" height="51" fill="#ffb500"/>
<rect x="251" y="1266" width="51" height="51" fill="#ffb400"/>
<rect x="301" y="1266" width="51" height="51" fill="#ffb300"/>
<rect x="351" y="1266" width="51" height="51" fill="#ffb100"/>
<rect x="401" y="1266" width="51" height="51" fill="#ffb000"/>
<rect x="451" y="1266" width="51" height="51" fill="#ffae00"/>
<rect x="501" y="1266" width="51" height="51" fill="#ffad00"/>
<rect x="551" y="1266" width="51" height="51" fill="#ffab00"/>
<rect x="601" y="1266" width="51" height="51" fill="#ffa900"/>
<rect x="651" y="1266" width="51" height="51" fill="#ffa700"/>
<rect x="701" y="1266" width="51" height="51" fill="#ffa200"/>
<rect x="751" y="1266" width="51" height="51" fill="#ff9e00"/>
<rect x="801" y="1266" width="51" height="51" fill="#ff9a00"/>
<rect x="851" y="1266" width="51" height="51" fill="#ff9500"/>
<rect x="901" y="1266" width="51" height="51" fill="#ff9200"/>
<rect x="951" y="1266" width="51" height="51" fill="#ff9000"/>
<rect x="1001" y="1266" width="51" height="51" fill="#ff8d00"/>
<rect x="1051" y="1266" width="51" height="51" fill="#ff8b00"/>
<rect x="1101" y="1266" width="51" height="51" fill="#ff8800"/>
<rect x="1151" y="1266" width="51" height="51" fill="#ff8800"/>
<rect x="1201" y="1266" width="51" height="51" fill="#ff8800"/>
<rect x="1251" y="1266" width="51" height="51" fill="#ff8800"/>
<rect x="1301" y="1266" width="51" height="51" fill="#ff8800"/>
<rect x="1351" y="1266" width="51" height="51" fill="#ff8800"/>
<rect x="1401" y="1266" width="51" height="51" fill="#ff8700"/>
<rect x="1451" y="1266" width="51" height="51" fill="#ff8600"/>
<rect x="1501" y="1266" width="51" height="51" fill="#ff8500"/>
<rect x="1551" y="1266" width="51" height="51" fill="#ff8400"/>
<rect x="1601" y="1266" width="51" height="51" fill="#ff8500"/>
<rect x="1651" y="1266" width="51" height="51" fill="#ff8600"/>
<rect x="1701" y="1266" width="51" height="51" fill="#ff8700"/>
<rect x="1751" y="1266" width="51" height="51" fill="#ff8800"/>
<rect x="1801" y="1266" width="51" height="51" fill="#ff8a00"/>
<rect x="1851" y="1266" width="51" height="51" fill="#ff9000"/>
<rect x="1901" y="1266" width="51" height="51" fill="#ff9600"/>
<rect x="1951" y="1266" width="51" height="51" fill="#ff9c00"/>
<rect x="2001" y="1266" width="51" height="51" fill="#ffa200"/>
<rect x="2051" y="1266" width="51" height="51" fill="#ffa500"/>
<rect x="2101" y="1266" width="51" height="51" fill="#ffa700"/>
<rect x="2151" y="1266" width="51" height="51" fill="#ffa900"/>
<rect x="2201" y="1266" width="51" height="51" fill="#ffac00"/>
<rect x="2251" y="1266" width="51" height="51" fill="#ffae00"/>
<rect x="2301" y="1266" width="51" height="51" fill="#ffae00"/>
<rect x="2351" y="1266" width="51" height="51" fill="#ffaf00"/>
<rect x="2401" y="1266" width="51" height="51" fill="#ffb000"/>
<rect x="2451" y="1266" width="51" height="51" fill="#ffb100"/>
<rect x="2501" y="1266" width="51" height="51" fill="#ffb100"/>
<rect x="2551" y="1266" width="51" height="51" fill="#ffb100"/>
<rect x="2601" y="1266" width="51" height="51" fill="#ffb100"/>
<rect x="51" y="1316" width="51" height="51" fill="#ffb900"/>
<rect x="101" y="1316" width="51" height="51" fill="#ffb900"/>
<rect x="151" y="1316" width="51" height="51" fill="#ffb900"/>
<rect x="201" y="1316" width="51" height="51" fill="#ffb900"/>
<rect x="251" y="1316" width="51" height="51" fill="#ffb800"/>
<rect x="301" y="1316" width="51" height="51" fill="#ffb700"/>
<rect x="351" y="1316" width="51" height="51" fill="#ffb600"/>
<rect x="401" y="1316" width="51" height="51" fill="#ffb500"/>
<rect x="451" y="1316" width="51" height="51" fill="#ffb300"/>
<rect x="501" y="1316" width="51" height="51" fill="#ffb000"/>
<rect x="551" y="1316" width="51" height="51" fill="#ffae00"/>
<rect x="601" y="1316" width="51" height="51" fill="#ffac00"/>
<rect x="651" y="1316" width="51" height="51" fill="#ffa900"/>
<rect x="701" y="1316" width="51" height="51" fill="#ffa400"/>
<rect x="751" y="1316" width="51" height="51" fill="#ffa000"/>
<rect x="801" y="1316" width="51" height="51" fill="#ff9b00"/>
<rect x="851" y="1316" width="51" height="51" fill="#ff9700"/>
<rect x="901" y="1316" width="51" height="51" fill="#ff9300"/>
<rect x="951" y="1316" width="51" height="51" fill="#ff9100"/>
<rect x="1001" y="1316" width="51" height="51" fill="#ff8e00"/>
<rect x="1051" y="1316" width="51" height="51" fill="#ff8c00"/>
<rect x="1101" y="1316" width="51" height="51" fill="#ff8900"/>
<rect x="1151" y="1316" width="51" height="51" fill="#ff8900"/>
<rect x="1201" y="1316" width="51" height="51" fill="#ff8900"/>
<rect x="1251" y="1316" width="51" height="51" fill="#ff8900"/>
<rect x="1301" y="1316" width="51" height="51" fill="#ff8900"/>
<rect x="1351" y="1316" width="51" height="51" fill="#ff8900"/>
<rect x="1401" y="1316" width="51" height="51" fill="#ff8800"/>
<rect x="1451" y="1316" width="51" height="51" fill="#ff8700"/>
<rect x="1501" y="1316" width="51" height="51" fill="#ff8600"/>
<rect x="1551" y="1316" width="51" height="51" fill="#ff8500"/>
<rect x="1601" y="1316" width="51" height="51" fill="#ff8600"/>
<rect x="1651" y="1316" width="51" height="51" fill="#ff8700"/>
<rect x="1701" y="1316" width="51" height="51" fill="#ff8800"/>
<rect x="1751" y="1316" width="51" height="51" fill="#ff8800"/>
<rect x="1801" y="1316" width="51" height="51" fill="#ff8b00"/>
<rect x="1851" y="1316" width="51" height="51" fill="#ff9100"/>
<rect x="1901" y="1316" width="51" height="51" fill="#ff9700"/>
<rect x="1951" y="1316" width="51" height="51" fill="#ff9e00"/>
<rect x="2001" y="1316" width="51" height="51" fill="#ffa400"/>
<rect x="2051" y="1316" width="51" height="51" fill="#ffa700"/>
<rect x="2101" y="1316" width="51" height="51" fill="#ffa900"/>
<rect x="2151" y="1316" width="51" height="51" fill="#ffab00"/>
<rect x="2201" y="1316" width="51" height="51" fill="#ffad00"/>
<rect x="2251" y="1316" width="51" height="51" fill="#ffaf00"/>
<rect x="2301" y="1316" width="51" height="51" fill="#ffb000"/>
<rect x="2351" y="1316" width="51" height="51" fill="#ffb100"/>
<rect x="2401" y="1316" width="51" height="51" fill="#ffb100"/>
<rect x="2451" y="1316" width="51" height="51" fill="#ffb200"/>
<rect x="2501" y="1316" width="51" height="51" fill="#ffb200"/>
<rect x="2551" y="1316" width="51" height="51" fill="#ffb200"/>
<rect x="2601" y="1316" width="51" height="51" fill="#ffb200"/>
<rect x="51" y="1366" width="51" height="51" fill="#ffbe00"/>
<rect x="101" y="1366" width="51" height="51" fill="#ffbe00"/>
<rect x="151" y="1366" width="51" height="51" fill="#ffbe00"/>
<rect x="201" y="1366" width="51" height="51" fill="#ffbe00"/>
<rect x="251" y="1366" width="51" height="51" fill="#ffbd00"/>
<rect x="301" y="1366" width="51" height="51" fill="#ffbc00"/>
<rect x="351" y="1366" width="51" height="51" fill="#ffbc00"/>
<rect x="401" y="1366" width="51" height="51" fill="#ffbb00"/>
<rect x="451" y="1366" width="51" height="51" fill="#ffb800"/>
<rect x="501" y="1366" width="51" height="51" fill="#ffb600"/>
<rect x="551" y="1366" width="51" height="51" fill="#ffb300"/>
<rect x="601" y="1366" width="51" height="51" fill="#ffb000"/>
<rect x="651" y="1366" width="51" height="51" fill="#ffac00"/>
<rect x="701" y="1366" width="51" height="51" fill="#ffa700"/>
<rect x="751" y="1366" width="51" height="51" fill="#ffa200"/>
<rect x="801" y="1366" width="51" height="51" fill="#ff9d00"/>
<rect x="851" y="1366" width="51" height="51" fill="#ff9900"/>
<rect x="901" y="1366" width="51" height="51" fill="#ff9500"/>
<rect x="951" y="1366" width="51" height="51" fill="#ff9300"/>
<rect x="1001" y="1366" width="51" height="51" fill="#ff9000"/>
<rect x="1051" y="1366" width="51" height="51" fill="#ff8d00"/>
<rect x="1101" y="1366" width="51" height="51" fill="#ff8b00"/>
<rect x="1151" y="1366" width="51" height="51" fill="#ff8b00"/>
<rect x="1201" y="1366" width="51" height="51" fill="#ff8b00"/>
<rect x="1251" y="1366" width="51" height="51" fill="#ff8b00"/>
<rect x="1301" y="1366" width="51" height="51" fill="#ff8a00"/>
<rect x="1351" y="1366" width="51" height="51" fill="#ff8a00"/>
<rect x="1401" y="1366" width="51" height="51" fill="#ff8900"/>
<rect x="1451" y="1366" width="51" height="51" fill="#ff8800"/>
<rect x="1501" y="1366" width="51" height="51" fill="#ff8700"/>
<rect x="1551" y="1366" width="51" height="51" fill="#ff8600"/>
<rect x="1601" y="1366" width="51" height="51" fill="#ff8700"/>
<rect x="1651" y="1366" width="51" height="51" fill="#ff8800"/>
<rect x="1701" y="1366" width="51" height="51" fill="#ff8900"/>
<rect x="1751" y="1366" width="51" height="51" fill="#ff8a00"/>
<rect x="1801" y="1366" width="51" height="51" fill="#ff8c00"/>
<rect x="1851" y="1366" width="51" height="51" fill="#ff9300"/>
<rect x="1901" y="1366" width="51" height="51" fill="#ff9900"/>
<rect x="1951" y="1366" width="51" height="51" fill="#ffa000"/>
<rect x="2001" y="1366" width="51" height="51" fill="#ffa600"/>
<rect x="2051" y="1366" width="51" height="51" fill="#ffa900"/>
<rect x="2101" y="1366" width="51" height="51" fill="#ffab00"/>
<rect x="2151" y="1366" width="51" height="51" fill="#ffac00"/>
<rect x="2201" y="1366" width="51" height="51" fill="#ffae00"/>
<rect x="2251" y="1366" width="51" height="51" fill="#ffb000"/>
<rect x="2301" y="1366" width="51" height="51" fill="#ffb000"/>
<rect x="2351" y="1366" width="51" height="51" fill="#ffb100"/>
<rect x="2401" y="1366" width="51" height="51" fill="#ffb200"/>
<rect x="2451" y="1366" width="51" height="51" fill="#ffb300"/>
<rect x="2501" y="1366" width="51" height="51" fill="#ffb300"/>
<rect x="2551" y="1366" width="51" height="51" fill="#ffb300"/>
<rect x="2601" y="1366" width="51" height="51" fill="#ffb300"/>
<rect x="51" y="1416" width="51" height="51" fill="#ffc300"/>
<rect x="101" y="1416" width="51" height="51" fill="#ffc300"/>
<rect x="151" y="1416" width="51" height="51" fill="#ffc300"/>
<rect x="201" y="1416" width="51" height="51" fill="#ffc300"/>
<rect x="251" y="1416" width="51" height="51" fill="#ffc200"/>
<rect x="301" y="1416" width="51" height="51" fill="#ffc200"/>
<rect x="351" y="1416" width="51" height="51" fill="#ffc200"/>
<rect x="401" y="1416" width="51" height="51" fill="#ffc200"/>
<rect x="451" y="1416" width="51" height="51" fill="#ffbe00"/>
<rect x="501" y="1416" width="51" height="51" fill="#ffbb00"/>
<rect x="551" y="1416" width="51" height="51" fill="#ffb700"/>
<rect x="601" y="1416" width="51" height="51" fill="#ffb300"/>
<rect x="651" y="1416" width="51" height="51" fill="#ffaf00"/>
<rect x="701" y="1416" width="51" height="51" fill="#ffaa00"/>
<rect x="751" y="1416" width="51" height="51" fill="#ffa500"/>
<rect x="801" y="1416" width="51" height="51" fill="#ffa000"/>
<rect x="851" y="1416" width="51" height="51" fill="#ff9b00"/>
<rect x="901" y="1416" width="51" height="51" fill="#ff9700"/>
<rect x="951" y="1416" width="51" height="51" fill="#ff9500"/>
<rect x="1001" y="1416" width="51" height="51" fill="#ff9200"/>
<rect x="1051" y="1416" width="51" height="51" fill="#ff8f00"/>
<rect x="1101" y="1416" width="51" height="51" fill="#ff8d00"/>
<rect x="1151" y="1416" width="51" height="51" fill="#ff8d00"/>
<rect x="1201" y="1416" width="51" height="51" fill="#ff8c00"/>
<rect x="1251" y="1416" width="51" height="51" fill="#ff8c00"/>
<rect x="1301" y="1416" width="51" height="51" fill="#ff8c00"/>
<rect x="1351" y="1416" width="51" height="51" fill="#ff8b00"/>
<rect x="1401" y="1416" width="51" height="51" fill="#ff8a00"/>
<rect x="1451" y="1416" width="51" height="51" fill="#ff8a00"/>
<rect x="1501" y="1416" width="51" height="51" fill="#ff8900"/>
<rect x="1551" y="1416" width="51" height="51" fill="#ff8800"/>
<rect x="1601" y="1416" width="51" height="51" fill="#ff8900"/>
<rect x="1651" y="1416" width="51" height="51" fill="#ff8900"/>
<rect x="1701" y="1416" width="51" height="51" fill="#ff8a00"/>
<rect x="1751" y="1416" width="51" height="51" fill="#ff8b00"/>
<rect x="1801" y="1416" width="51" height="51" fill="#ff8e00"/>
<rect x="1851" y="1416" width="51" height="51" fill="#ff9500"/>
<rect x="1901" y="1416" width="51" height="51" fill="#ff9b00"/>
<rect x="1951" y="1416" width="51" height="51" fill="#ffa200"/>
<rect x="2001" y="1416" width="51" height="51" fill="#ffa800"/>
<rect x="2051" y="1416" width="51" height="51" fill="#ffab00"/>
<rect x="2101" y="1416" width="51" height="51" fill="#ffad00"/>
<rect x="2151" y="1416" width="51" height="51" fill="#ffae00"/>
<rect x="2201" y="1416" width="51" height="51" fill="#ffaf00"/>
<rect x="2251" y="1416" width="51" height="51" fill="#ffb100"/>
<rect x="2301" y="1416" width="51" height="51" fill="#ffb100"/>
<rect x="2351" y="1416" width="51" height="51" fill="#ffb200"/>
<rect x="2401" y="1416" width="51" height="51" fill="#ffb300"/>
<rect x="2451" y="1416" width="51" height="51" fill="#ffb300"/>
<rect x="2501" y="1416" width="51" height="51" fill="#ffb300"/>
<rect x="2551" y="1416" width="51" height="51" fill="#ffb300"/>
<rect x="2601" y="1416" width="51" height="51" fill="#ffb300"/>
<rect x="51" y="1466" width="51" height="51" fill="#ffc700"/>
<rect x="101" y="1466" width="51" height="51" fill="#ffc700"/>
<rect x="151" y="1466" width="51" height="51" fill="#ffc700"/>
<rect x="201" y="1466" width="51" height="51" fill="#ffc700"/>
<rect x="251" y="1466" width="51" height="51" fill="#ffc800"/>
<rect x="301" y="1466" width="51" height="51" fill="#ffc800"/>
<rect x="351" y="1466" width="51" height="51" fill="#ffc800"/>
<rect x="401" y="1466" width="51" height="51" fill="#ffc800"/>
<rect x="451" y="1466" width="51" height="51" fill="#ffc400"/>
<rect x="501" y="1466" width="51" height="51" fill="#ffc000"/>
<rect x="551" y="1466" width="51" height="51" fill="#ffbb00"/>
<rect x="601" y="1466" width="51" height="51" fill="#ffb700"/>
<rect x="651" y="1466" width="51" height="51" fill="#ffb200"/>
<rect x="701" y="1466" width="51" height="51" fill="#ffad00"/>
<rect x="751" y="1466" width="51" height="51" fill="#ffa700"/>
<rect x="801" y="1466" width="51" height="51" fill="#ffa200"/>
<rect x="851" y="1466" width="51" height="51" fill="#ff9c00"/>
<rect x="901" y="1466" width="51" height="51" fill="#ff9900"/>
<rect x="951" y="1466" width="51" height="51" fill="#ff9600"/>
<rect x="1001" y="1466" width="51" height="51" fill="#ff9400"/>
<rect x="1051" y="1466" width="51" height="51" fill="#ff9100"/>
<rect x="1101" y="1466" width="51" height="51" fill="#ff8f00"/>
<rect x="1151" y="1466" width="51" height="51" fill="#ff8e00"/>
<rect x="1201" y="1466" width="51" height="51" fill="#ff8e00"/>
<rect x="1251" y="1466" width="51" height="51" fill="#ff8e00"/>
<rect x="1301" y="1466" width="51" height="51" fill="#ff8d00"/>
<rect x="1351" y="1466" width="51" height="51" fill="#ff8d00"/>
<rect x="1401" y="1466" width="51" height="51" fill="#ff8c00"/>
<rect x="1451" y="1466" width="51" height="51" fill="#ff8b00"/>
<rect x="1501" y="1466" width="51" height="51" fill="#ff8a00"/>
<rect x="1551" y="1466" width="51" height="51" fill="#ff8900"/>
<rect x="1601" y="1466" width="51" height="51" fill="#ff8a00"/>
<rect x="1651" y="1466" width="51" height="51" fill="#ff8b00"/>
<rect x="1701" y="1466" width="51" height="51" fill="#ff8c00"/>
<rect x="1751" y="1466" width="51" height="51" fill="#ff8d00"/>
<rect x="1801" y="1466" width="51" height="51" fill="#ff8f00"/>
<rect x="1851" y="1466" width="51" height="51" fill="#ff9600"/>
<rect x="1901" y="1466" width="51" height="51" fill="#ff9d00"/>
<rect x="1951" y="1466" width="51" height="51" fill="#ffa400"/>
<rect x="2001" y="1466" width="51" height="51" fill="#ffab00"/>
<rect x="2051" y="1466" width="51" height="51" fill="#ffad00"/>
<rect x="2101" y="1466" width="51" height="51" fill="#ffae00"/>
<rect x="2151" y="1466" width="51" height="51" fill="#ffaf00"/>
<rect x="2201" y="1466" width="51" height="51" fill="#ffb100"/>
<rect x="2251" y="1466" width="51" height="51" fill="#ffb200"/>
<rect x="2301" y="1466" width="51" height="51" fill="#ffb200"/>
<rect x="2351" y="1466" width="51" height="51" fill="#ffb300"/>
<rect x="2401" y="1466" width="51" height="51" fill="#ffb300"/>
<rect x="2451" y="1466" width="51" height="51" fill="#ffb400"/>
<rect x="2501" y="1466" width="51" height="51" fill="#ffb400"/>
<rect x="2551" y="1466" width="51" height="51" fill="#ffb400"/>
<rect x="2601" y="1466" width="51" height="51" fill="#ffb400"/>
<rect x="51" y="1516" width="51" height="51" fill="#ffcb00"/>
<rect x="101" y="1516" width="51" height="51" fill="#ffcb00"/>
<rect x="151" y="1516" width="51" height="51" fill="#ffcb00"/>
<rect x="201" y="1516" width="51" height="51" fill="#ffcc00"/>
<rect x="251" y="1516" width="51" height="51" fill="#ffcc00"/>
<rect x="301" y="1516" width="51" height="51" fill="#ffcd00"/>
<rect x="351" y="1516" width="51" height="51" fill="#ffcd00"/>
<rect x="401" y="1516" width="51" height="51" fill="#ffce00"/>
<rect x="451" y="1516" width="51" height="51" fill="#ffc900"/>
<rect x="501" y="1516" width="51" height="51" fill="#ffc400"/>
<rect x="551" y="1516" width="51" height="51" fill="#ffc000"/>
<rect x="601" y="1516" width="51" height="51" fill="#ffbb00"/>
<rect x="651" y="1516" width="51" height="51" fill="#ffb600"/>
<rect x="701" y="1516" width="51" height="51" fill="#ffb000"/>
<rect x="751" y="1516" width="51" height="51" fill="#ffab00"/>
<rect x="801" y="1516" width="51" height="51" fill="#ffa500"/>
<rect x="851" y="1516" width="51" height="51" fill="#ffa000"/>
<rect x="901" y="1516" width="51" height="51" fill="#ff9c00"/>
<rect x="951" y="1516" width="51" height="51" fill="#ff9900"/>
<rect x="1001" y="1516" width="51" height="51" fill="#ff9700"/>
<rect x="1051" y="1516" width="51" height="51" fill="#ff9400"/>
<rect x="1101" y="1516" width="51" height="51" fill="#ff9200"/>
<rect x="1151" y="1516" width="51" height="51" fill="#ff9100"/>
<rect x="1201" y="1516" width="51" height="51" fill="#ff9100"/>
<rect x="1251" y="1516" width="51" height="51" fill="#ff9000"/>
<rect x="1301" y="1516" width="51" height="51" fill="#ff9000"/>
<rect x="1351" y="1516" width="51" height="51" fill="#ff8f00"/>
<rect x="1401" y="1516" width="51" height="51" fill="#ff8f00"/>
<rect x="1451" y="1516" width="51" height="51" fill="#ff8e00"/>
<rect x="1501" y="1516" width="51" height="51" fill="#ff8d00"/>
<rect x="1551" y="1516" width="51" height="51" fill="#ff8d00"/>
<rect x="1601" y="1516" width="51" height="51" fill="#ff8d00"/>
<rect x="1651" y="1516" width="51" height="51" fill="#ff8e00"/>
<rect x="1701" y="1516" width="51" height="51" fill="#ff8f00"/>
<rect x="1751" y="1516" width="51" height="51" fill="#ff9000"/>
<rect x="1801" y="1516" width="51" height="51" fill="#ff9300"/>
<rect x="1851" y="1516" width="51" height="51" fill="#ff9a00"/>
<rect x="1901" y="1516" width="51" height="51" fill="#ffa000"/>
<rect x="1951" y="1516" width="51" height="51" fill="#ffa700"/>
<rect x="2001" y="1516" width="51" height="51" fill="#ffae00"/>
<rect x="2051" y="1516" width="51" height="51" fill="#ffb000"/>
<rect x="2101" y="1516" width="51" height="51" fill="#ffb100"/>
<rect x="2151" y="1516" width="51" height="51" fill="#ffb200"/>
<rect x="2201" y="1516" width="51" height="51" fill="#ffb300"/>
<rect x="2251" y="1516" width="51" height="51" fill="#ffb400"/>
<rect x="2301" y="1516" width="51" height="51" fill="#ffb400"/>
<rect x="2351" y="1516" width="51" height="51" fill="#ffb400"/>
<rect x="2401" y="1516" width="51" height="51" fill="#ffb400"/>
<rect x="2451" y="1516" width="51" height="51" fill="#ffb500"/>
<rect x="2501" y="1516" width="51" height="51" fill="#ffb500"/>
<rect x="2551" y="1516" width="51" height="51" fill="#ffb500"/>
<rect x="2601" y="1516" width="51" height="51" fill="#ffb500"/>
<rect x="51" y="1566" width="51" height="51" fill="#ffcf00"/>
<rect x="101" y="1566" width="51" height="51" fill="#ffcf00"/>
<rect x="151" y="1566" width="51" height="51" fill="#ffcf00"/>
<rect x="201" y="1566" width="51" height="51" fill="#ffcf00"/>
<rect x="251" y="1566" width="51" height="51" fill="#ffd000"/>
<rect x="301" y="1566" width="51" height="51" fill="#ffd000"/>
<rect x="351" y="1566" width="51" height="51" fill="#ffd100"/>
<rect x="401" y="1566" width="51" height="51" fill="#ffd100"/>
<rect x="451" y="1566" width="51" height="51" fill="#ffcd00"/>
<rect x="501" y="1566" width="51" height="51" fill="#ffc800"/>
<rect x="551" y="1566" width="51" height="51" fill="#ffc300"/>
<rect x="601" y="1566" width="51" height="51" fill="#ffbf00"/>
<rect x="651" y="1566" width="51" height="51" fill="#ffba00"/>
<rect x="701" y="1566" width="51" height="51" fill="#ffb400"/>
<rect x="751" y="1566" width="51" height="51" fill="#ffaf00"/>
<rect x="801" y="1566" width="51" height="51" fill="#ffa900"/>
<rect x="851" y="1566" width="51" height="51" fill="#ffa400"/>
<rect x="901" y="1566" width="51" height="51" fill="#ffa100"/>
<rect x="951" y="1566" width="51" height="51" fill="#ff9e00"/>
<rect x="1001" y="1566" width="51" height="51" fill="#ff9c00"/>
<rect x="1051" y="1566" width="51" height="51" fill="#ff9900"/>
<rect x="1101" y="1566" width="51" height="51" fill="#ff9700"/>
<rect x="1151" y="1566" width="51" height="51" fill="#ff9600"/>
<rect x="1201" y="1566" width="51" height="51" fill="#ff9500"/>
<rect x="1251" y="1566" width="51" height="51" fill="#ff9500"/>
<rect x="1301" y="1566" width="51" height="51" fill="#ff9400"/>
<rect x="1351" y="1566" width="51" height="51" fill="#ff9400"/>
<rect x="1401" y="1566" width="51" height="51" fill="#ff9300"/>
<rect x="1451" y="1566" width="51" height="51" fill="#ff9300"/>
<rect x="1501" y="1566" width="51" height="51" fill="#ff9300"/>
<rect x="1551" y="1566" width="51" height="51" fill="#ff9300"/>
<rect x="1601" y="1566" width="51" height="51" fill="#ff9400"/>
<rect x="1651" y="1566" width="51" height="51" fill="#ff9500"/>
<rect x="1701" y="1566" width="51" height="51" fill="#ff9600"/>
<rect x="1751" y="1566" width="51" height="51" fill="#ff9700"/>
<rect x="1801" y="1566" width="51" height="51" fill="#ff9a00"/>
<rect x="1851" y="1566" width="51" height="51" fill="#ffa000"/>
<rect x="1901" y="1566" width="51" height="51" fill="#ffa500"/>
<rect x="1951" y="1566" width="51" height="51" fill="#ffab00"/>
<rect x="2001" y="1566" width="51" height="51" fill="#ffb100"/>
<rect x="2051" y="1566" width="51" height="51" fill="#ffb300"/>
<rect x="2101" y="1566" width="51" height="51" fill="#ffb400"/>
<rect x="2151" y="1566" width="51" height="51" fill="#ffb500"/>
<rect x="2201" y="1566" width="51" height="51" fill="#ffb600"/>
<rect x="2251" y="1566" width="51" height="51" fill="#ffb700"/>
<rect x="2301" y="1566" width="51" height="51" fill="#ffb700"/>
<rect x="2351" y="1566" width="51" height="51" fill="#ffb700"/>
<rect x="2401" y="1566" width="51" height="51" fill="#ffb700"/>
<rect x="2451" y="1566" width="51" height="51" fill="#ffb700"/>
<rect x="2501" y="1566" width="51" height="51" fill="#ffb700"/>
<rect x="2551" y="1566" width="51" height="51" fill="#ffb700"/>
<rect x="2601" y="1566" width="51" height="51" fill="#ffb700"/>
<rect x="51" y="1616" width="51" height="51" fill="#ffd200"/>
<rect x="101" y="1616" width="51" height="51" fill="#ffd200"/>
<rect x="151" y="1616" width="51" height="51" fill="#ffd200"/>
<rect x="201" y="1616" width="51" height="51" fill="#ffd200"/>
<rect x="251" y="1616" width="51" height="51" fill="#ffd300"/>
<rect x="301" y="1616" width="51" height="51" fill="#ffd400"/>
<rect x="351" y="1616" width="51" height="51" fill="#ffd400"/>
<rect x="401" y="1616" width="51" height="51" fill="#ffd500"/>
<rect x="451" y="1616" width="51" height="51" fill="#ffd100"/>
<rect x="501" y="1616" width="51" height="51" fill="#ffcc00"/>
<rect x="551" y="1616" width="51" height="51" fill="#ffc700"/>
<rect x="601" y="1616" width="51" height="51" fill="#ffc200"/>
<rect x="651" y="1616" width="51" height="51" fill="#ffbd00"/>
<rect x="701" y="1616" width="51" height="51" fill="#ffb800"/>
<rect x="751" y="1616" width="51" height="51" fill="#ffb300"/>
<rect x="801" y="1616" width="51" height="51" fill="#ffae00"/>
<rect x="851" y="1616" width="51" height="51" fill="#ffa900"/>
<rect x="901" y="1616" width="51" height="51" fill="#ffa500"/>
<rect x="951" y="1616" width="51" height="51" fill="#ffa300"/>
<rect x="1001" y="1616" width="51" height="51" fill="#ffa000"/>
<rect x="1051" y="1616" width="51" height="51" fill="#ff9e00"/>
<rect x="1101" y="1616" width="51" height="51" fill="#ff9b00"/>
<rect x="1151" y="1616" width="51" height="51" fill="#ff9a00"/>
<rect x="1201" y="1616" width="51" height="51" fill="#ff9a00"/>
<rect x="1251" y="1616" width="51" height="51" fill="#ff9900"/>
<rect x="1301" y="1616" width="51" height="51" fill="#ff9800"/>
<rect x="1351" y="1616" width="51" height="51" fill="#ff9800"/>
<rect x="1401" y="1616" width="51" height="51" fill="#ff9800"/>
<rect x="1451" y="1616" width="51" height="51" fill="#ff9800"/>
<rect x="1501" y="1616" width="51" height="51" fill="#ff9900"/>
<rect x="1551" y="1616" width="51" height="51" fill="#ff9900"/>
<rect x="1601" y="1616" width="51" height="51" fill="#ff9a00"/>
<rect x="1651" y="1616" width="51" height="51" fill="#ff9b00"/>
<rect x="1701" y="1616" width="51" height="51" fill="#ff9d00"/>
<rect x="1751" y="1616" width="51" height="51" fill="#ff9e00"/>
<rect x="1801" y="1616" width="51" height="51" fill="#ffa000"/>
<rect x="1851" y="1616" width="51" height="51" fill="#ffa500"/>
<rect x="1901" y="1616" width="51" height="51" fill="#ffaa00"/>
<rect x="1951" y="1616" width="51" height="51" fill="#ffaf00"/>
<rect x="2001" y="1616" width="51" height="51" fill="#ffb400"/>
<rect x="2051" y="1616" width="51" height="51" fill="#ffb700"/>
<rect x="2101" y="1616" width="51" height="51" fill="#ffb800"/>
<rect x="2151" y="1616" width="51" height="51" fill="#ffb900"/>
<rect x="2201" y="1616" width="51" height="51" fill="#ffba00"/>
<rect x="2251" y="1616" width="51" height="51" fill="#ffbb00"/>
<rect x="2301" y="1616" width="51" height="51" fill="#ffba00"/>
<rect x="2351" y="1616" width="51" height="51" fill="#ffba00"/>
<rect x="2401" y="1616" width="51" height="51" fill="#ffb900"/>
<rect x="2451" y="1616" width="51" height="51" fill="#ffb900"/>
<rect x="2501" y="1616" width="51" height="51" fill="#ffb900"/>
<rect x="2551" y="1616" width="51" height="51" fill="#ffb900"/>
<rect x="2601" y="1616" width="51" height="51" fill="#ffb900"/>
<rect x="51" y="1666" width="51" height="51" fill="#ffd500"/>
<rect x="101" y="1666" width="51" height="51" fill="#ffd500"/>
<rect x="151" y="1666" width="51" height="51" fill="#ffd500"/>
<rect x="201" y="1666" width="51" height="51" fill="#ffd600"/>
<rect x="251" y="1666" width="51" height="51" fill="#ffd600"/>
<rect x="301" y="1666" width="51" height="51" fill="#ffd700"/>
<rect x="351" y="1666" width="51" height="51" fill="#ffd800"/>
<rect x="401" y="1666" width="51" height="51" fill="#ffd900"/>
<rect x="451" y="1666" width="51" height="51" fill="#ffd400"/>
<rect x="501" y="1666" width="51" height="51" fill="#ffd000"/>
<rect x="551" y="1666" width="51" height="51" fill="#ffcb00"/>
<rect x="601" y="1666" width="51" height="51" fill="#ffc600"/>
<rect x="651" y="1666" width="51" height="51" fill="#ffc100"/>
<rect x="701" y="1666" width="51" height="51" fill="#ffbc00"/>
<rect x="751" y="1666" width="51" height="51" fill="#ffb700"/>
<rect x="801" y="1666" width="51" height="51" fill="#ffb200"/>
<rect x="851" y="1666" width="51" height="51" fill="#ffad00"/>
<rect x="901" y="1666" width="51" height="51" fill="#ffaa00"/>
<rect x="951" y="1666" width="51" height="51" fill="#ffa700"/>
<rect x="1001" y="1666" width="51" height="51" fill="#ffa500"/>
<rect x="1051" y="1666" width="51" height="51" fill="#ffa200"/>
<rect x="1101" y="1666" width="51" height="51" fill="#ffa000"/>
<rect x="1151" y="1666" width="51" height="51" fill="#ff9f00"/>
<rect x="1201" y="1666" width="51" height="51" fill="#ff9e00"/>
<rect x="1251" y="1666" width="51" height="51" fill="#ff9d00"/>
<rect x="1301" y="1666" width="51" height="51" fill="#ff9d00"/>
<rect x="1351" y="1666" width="51" height="51" fill="#ff9d00"/>
<rect x="1401" y="1666" width="51" height="51" fill="#ff9d00"/>
<rect x="1451" y="1666" width="51" height="51" fill="#ff9e00"/>
<rect x="1501" y="1666" width="51" height="51" fill="#ff9e00"/>
<rect x="1551" y="1666" width="51" height="51" fill="#ff9f00"/>
<rect x="1601" y="1666" width="51" height="51" fill="#ffa000"/>
<rect x="1651" y="1666" width="51" height="51" fill="#ffa200"/>
<rect x="1701" y="1666" width="51" height="51" fill="#ffa300"/>
<rect x="1751" y="1666" width="51" height="51" fill="#ffa500"/>
<rect x="1801" y="1666" width="51" height="51" fill="#ffa700"/>
<rect x="1851" y="1666" width="51" height="51" fill="#ffab00"/>
<rect x="1901" y="1666" width="51" height="51" fill="#ffb000"/>
<rect x="1951" y="1666" width="51" height="51" fill="#ffb400"/>
<rect x="2001" y="1666" width="51" height="51" fill="#ffb800"/>
<rect x="2051" y="1666" width="51" height="51" fill="#ffba00"/>
<rect x="2101" y="1666" width="51" height="51" fill="#ffbb00"/>
<rect x="2151" y="1666" width="51" height="51" fill="#ffbc00"/>
<rect x="2201" y="1666" width="51" height="51" fill="#ffbe00"/>
<rect x="2251" y="1666" width="51" height="51" fill="#ffbf00"/>
<rect x="2301" y="1666" width="51" height="51" fill="#ffbe00"/>
<rect x="2351" y="1666" width="51" height="51" fill="#ffbd00"/>
<rect x="2401" y="1666" width="51" height="51" fill="#ffbb00"/>
<rect x="2451" y="1666" width="51" height="51" fill="#ffba00"/>
<rect x="2501" y="1666" width="51" height="51" fill="#ffba00"/>
<rect x="2551" y="1666" width="51" height="51" fill="#ffba00"/>
<rect x="2601" y="1666" width="51" height="51" fill="#ffba00"/>
<rect x="51" y="1716" width="51" height="51" fill="#ffd800"/>
<rect x="101" y="1716" width="51" height="51" fill="#ffd800"/>
<rect x="151" y="1716" width="51" height="51" fill="#ffd800"/>
<rect x="201" y="1716" width="51" height="51" fill="#ffd800"/>
<rect x="251" y="1716" width="51" height="51" fill="#ffd900"/>
<rect x="301" y="1716" width="51" height="51" fill="#ffda00"/>
<rect x="351" y="1716" width="51" height="51" fill="#ffdb00"/>
<rect x="401" y="1716" width="51" height="51" fill="#ffdc00"/>
<rect x="451" y="1716" width="51" height="51" fill="#ffd800"/>
<rect x="501" y="1716" width="51" height="51" fill="#ffd300"/>
<rect x="551" y="1716" width="51" height="51" fill="#ffce00"/>
<rect x="601" y="1716" width="51" height="51" fill="#ffc900"/>
<rect x="651" y="1716" width="51" height="51" fill="#ffc500"/>
<rect x="701" y="1716" width="51" height="51" fill="#ffc000"/>
<rect x="751" y="1716" width="51" height="51" fill="#ffbb00"/>
<rect x="801" y="1716" width="51" height="51" fill="#ffb700"/>
<rect x="851" y="1716" width="51" height="51" fill="#ffb200"/>
<rect x="901" y="1716" width="51" height="51" fill="#ffaf00"/>
<rect x="951" y="1716" width="51" height="51" fill="#ffac00"/>
<rect x="1001" y="1716" width="51" height="51" fill="#ffaa00"/>
<rect x="1051" y="1716" width="51" height="51" fill="#ffa700"/>
<rect x="1101" y="1716" width="51" height="51" fill="#ffa500"/>
<rect x="1151" y="1716" width="51" height="51" fill="#ffa400"/>
<rect x="1201" y="1716" width="51" height="51" fill="#ffa300"/>
<rect x="1251" y="1716" width="51" height="51" fill="#ffa200"/>
<rect x="1301" y="1716" width="51" height="51" fill="#ffa100"/>
<rect x="1351" y="1716" width="51" height="51" fill="#ffa100"/>
<rect x="1401" y="1716" width="51" height="51" fill="#ffa200"/>
<rect x="1451" y="1716" width="51" height="51" fill="#ffa300"/>
<rect x="1501" y="1716" width="51" height="51" fill="#ffa400"/>
<rect x="1551" y="1716" width="51" height="51" fill="#ffa500"/>
<rect x="1601" y="1716" width="51" height="51" fill="#ffa600"/>
<rect x="1651" y="1716" width="51" height="51" fill="#ffa800"/>
<rect x="1701" y="1716" width="51" height="51" fill="#ffaa00"/>
<rect x="1751" y="1716" width="51" height="51" fill="#ffac00"/>
<rect x="1801" y="1716" width="51" height="51" fill="#ffae00"/>
<rect x="1851" y="1716" width="51" height="51" fill="#ffb100"/>
<rect x="1901" y="1716" width="51" height="51" fill="#ffb500"/>
<rect x="1951" y="1716" width="51" height="51" fill="#ffb800"/>
<rect x="2001" y="1716" width="51" height="51" fill="#ffbb00"/>
<rect x="2051" y="1716" width="51" height="51" fill="#ffbd00"/>
<rect x="2101" y="1716" width="51" height="51" fill="#ffbf00"/>
<rect x="2151" y="1716" width="51" height="51" fill="#ffc000"/>
<rect x="2201" y="1716" width="51" height="51" fill="#ffc100"/>
<rect x="2251" y="1716" width="51" height="51" fill="#ffc200"/>
<rect x="2301" y="1716" width="51" height="51" fill="#ffc100"/>
<rect x="2351" y="1716" width="51" height="51" fill="#ffbf00"/>
<rect x="2401" y="1716" width="51" height="51" fill="#ffbe00"/>
<rect x="2451" y="1716" width="51" height="51" fill="#ffbc00"/>
<rect x="2501" y="1716" width="51" height="51" fill="#ffbc00"/>
<rect x="2551" y="1716" width="51" height="51" fill="#ffbc00"/>
<rect x="2601" y="1716" width="51" height="51" fill="#ffbc00"/>
<rect x="51" y="1766" width="51" height="51" fill="#ffd900"/>
<rect x="101" y="1766" width="51" height="51" fill="#ffd900"/>
<rect x="151" y="1766" width="51" height="51" fill="#ffd900"/>
<rect x="201" y="1766" width="51" height="51" fill="#ffd900"/>
<rect x="251" y="1766" width="51" height="51" fill="#ffd900"/>
<rect x="301" y="1766" width="51" height="51" fill="#ffda00"/>
<rect x="351" y="1766" width="51" height="51" fill="#ffda00"/>
<rect x="401" y="1766" width="51" height="51" fill="#ffdb00"/>
<rect x="451" y="1766" width="51" height="51" fill="#ffd700"/>
<rect x="501" y="1766" width="51" height="51" fill="#ffd300"/>
<rect x="551" y="1766" width="51" height="51" fill="#ffcf00"/>
<rect x="601" y="1766" width="51" height="51" fill="#ffca00"/>
<rect x="651" y="1766" width="51" height="51" fill="#ffc600"/>
<rect x="701" y="1766" width="51" height="51" fill="#ffc200"/>
<rect x="751" y="1766" width="51" height="51" fill="#ffbf00"/>
<rect x="801" y="1766" width="51" height="51" fill="#ffbb00"/>
<rect x="851" y="1766" width="51" height="51" fill="#ffb700"/>
<rect x="901" y="1766" width="51" height="51" fill="#ffb400"/>
<rect x="951" y="1766" width="51" height="51" fill="#ffb200"/>
<rect x="1001" y="1766" width="51" height="51" fill="#ffb000"/>
<rect x="1051" y="1766" width="51" height="51" fill="#ffad00"/>
<rect x="1101" y="1766" width="51" height="51" fill="#ffab00"/>
<rect x="1151" y="1766" width="51" height="51" fill="#ffaa00"/>
<rect x="1201" y="1766" width="51" height="51" fill="#ffa900"/>
<rect x="1251" y="1766" width="51" height="51" fill="#ffa800"/>
<rect x="1301" y="1766" width="51" height="51" fill="#ffa700"/>
<rect x="1351" y="1766" width="51" height="51" fill="#ffa700"/>
<rect x="1401" y="1766" width="51" height="51" fill="#ffa800"/>
<rect x="1451" y="1766" width="51" height="51" fill="#ffaa00"/>
<rect x="1501" y="1766" width="51" height="51" fill="#ffab00"/>
<rect x="1551" y="1766" width="51" height="51" fill="#ffac00"/>
<rect x="1601" y="1766" width="51" height="51" fill="#ffae00"/>
<rect x="1651" y="1766" width="51" height="51" fill="#ffaf00"/>
<rect x="1701" y="1766" width="51" height="51" fill="#ffb100"/>
<rect x="1751" y="1766" width="51" height="51" fill="#ffb300"/>
<rect x="1801" y="1766" width="51" height="51" fill="#ffb500"/>
<rect x="1851" y="1766" width="51" height="51" fill="#ffb700"/>
<rect x="1901" y="1766" width="51" height="51" fill="#ffba00"/>
<rect x="1951" y="1766" width="51" height="51" fill="#ffbc00"/>
<rect x="2001" y="1766" width="51" height="51" fill="#ffbf00"/>
<rect x="2051" y="1766" width="51" height="51" fill="#ffc000"/>
<rect x="2101" y="1766" width="51" height="51" fill="#ffc100"/>
<rect x="2151" y="1766" width="51" height="51" fill="#ffc200"/>
<rect x="2201" y="1766" width="51" height="51" fill="#ffc200"/>
<rect x="2251" y="1766" width="51" height="51" fill="#ffc300"/>
<rect x="2301" y="1766" width="51" height="51" fill="#ffc200"/>
<rect x="2351" y="1766" width="51" height="51" fill="#ffc000"/>
<rect x="2401" y="1766" width="51" height="51" fill="#ffbf00"/>
<rect x="2451" y="1766" width="51" height="51" fill="#ffbe00"/>
<rect x="2501" y="1766" width="51" height="51" fill="#ffbe00"/>
<rect x="2551" y="1766" width="51" height="51" fill="#ffbe00"/>
<rect x="2601" y="1766" width="51" height="51" fill="#ffbe00"/>
<rect x="51" y="1816" width="51" height="51" fill="#ffd900"/>
<rect x="101" y="1816" width="51" height="51" fill="#ffd900"/>
<rect x="151" y="1816" width="51" height="51" fill="#ffd900"/>
<rect x="201" y="1816" width="51" height="51" fill="#ffd900"/>
<rect x="251" y="1816" width="51" height="51" fill="#ffd900"/>
<rect x="301" y="1816" width="51" height="51" fill="#ffda00"/>
<rect x="351" y="1816" width="51" height="51" fill="#ffda00"/>
<rect x="401" y="1816" width="51" height="51" fill="#ffda00"/>
<rect x="451" y="1816" width="51" height="51" fill="#ffd700"/>
<rect x="501" y="1816" width="51" height="51" fill="#ffd300"/>
<rect x="551" y="1816" width="51" height="51" fill="#ffcf00"/>
<rect x="601" y="1816" width="51" height="51" fill="#ffcb00"/>
<rect x="651" y="1816" width="51" height="51" fill="#ffc800"/>
<rect x="701" y="1816" width="51" height="51" fill="#ffc500"/>
<rect x="751" y="1816" width="51" height="51" fill="#ffc200"/>
<rect x="801" y="1816" width="51" height="51" fill="#ffbf00"/>
<rect x="851" y="1816" width="51" height="51" fill="#ffbc00"/>
<rect x="901" y="1816" width="51" height="51" fill="#ffb900"/>
<rect x="951" y="1816" width="51" height="51" fill="#ffb700"/>
<rect x="1001" y="1816" width="51" height="51" fill="#ffb600"/>
<rect x="1051" y="1816" width="51" height="51" fill="#ffb400"/>
<rect x="1101" y="1816" width="51" height="51" fill="#ffb200"/>
<rect x="1151" y="1816" width="51" height="51" fill="#ffb000"/>
<rect x="1201" y="1816" width="51" height="51" fill="#ffaf00"/>
<rect x="1251" y="1816" width="51" height="51" fill="#ffae00"/>
<rect x="1301" y="1816" width="51" height="51" fill="#ffac00"/>
<rect x="1351" y="1816" width="51" height="51" fill="#ffad00"/>
<rect x="1401" y="1816" width="51" height="51" fill="#ffae00"/>
<rect x="1451" y="1816" width="51" height="51" fill="#ffb000"/>
<rect x="1501" y="1816" width="51" height="51" fill="#ffb200"/>
<rect x="1551" y="1816" width="51" height="51" fill="#ffb400"/>
<rect x="1601" y="1816" width="51" height="51" fill="#ffb500"/>
<rect x="1651" y="1816" width="51" height="51" fill="#ffb700"/>
<rect x="1701" y="1816" width="51" height="51" fill="#ffb800"/>
<rect x="1751" y="1816" width="51" height="51" fill="#ffba00"/>
<rect x="1801" y="1816" width="51" height="51" fill="#ffbb00"/>
<rect x="1851" y="1816" width="51" height="51" fill="#ffbd00"/>
<rect x="1901" y="1816" width="51" height="51" fill="#ffbf00"/>
<rect x="1951" y="1816" width="51" height="51" fill="#ffc100"/>
<rect x="2001" y="1816" width="51" height="51" fill="#ffc200"/>
<rect x="2051" y="1816" width="51" height="51" fill="#ffc300"/>
<rect x="2101" y="1816" width="51" height="51" fill="#ffc300"/>
<rect x="2151" y="1816" width="51" height="51" fill="#ffc400"/>
<rect x="2201" y="1816" width="51" height="51" fill="#ffc400"/>
<rect x="2251" y="1816" width="51" height="51" fill="#ffc400"/>
<rect x="2301" y="1816" width="51" height="51" fill="#ffc300"/>
<rect x="2351" y="1816" width="51" height="51" fill="#ffc100"/>
<rect x="2401" y="1816" width="51" height="51" fill="#ffc000"/>
<rect x="2451" y="1816" width="51" height="51" fill="#ffbf00"/>
<rect x="2501" y="1816" width="51" height="51" fill="#ffbf00"/>
<rect x="2551" y="1816" width="51" height="51" fill="#ffbf00"/>
<rect x="2601" y="1816" width="51" height="51" fill="#ffbf00"/>
<rect x="51" y="1866" width="51" height="51" fill="#ffd900"/>
<rect x="101" y="1866" width="51" height="51" fill="#ffd900"/>
<rect x="151" y="1866" width="51" height="51" fill="#ffd900"/>
<rect x="201" y="1866" width="51" height="51" fill="#ffd900"/>
<rect x="251" y="1866" width="51" height="51" fill="#ffd900"/>
<rect x="301" y="1866" width="51" height="51" fill="#ffd900"/>
<rect x="351" y="1866" width="51" height="51" fill="#ffd900"/>
<rect x="401" y="1866" width="51" height="51" fill="#ffd900"/>
<rect x="451" y="1866" width="51" height="51" fill="#ffd600"/>
<rect x="501" y="1866" width="51" height="51" fill="#ffd300"/>
<rect x="551" y="1866" width="51" height="51" fill="#ffd000"/>
<rect x="601" y="1866" width="51" height="51" fill="#ffcd00"/>
<rect x="651" y="1866" width="51" height="51" fill="#ffca00"/>
<rect x="701" y="1866" width="51" height="51" fill="#ffc700"/>
<rect x="751" y="1866" width="51" height="51" fill="#ffc500"/>
<rect x="801" y="1866" width="51" height="51" fill="#ffc300"/>
<rect x="851" y="1866" width="51" height="51" fill="#ffc100"/>
<rect x="901" y="1866" width="51" height="51" fill="#ffbf00"/>
<rect x="951" y="1866" width="51" height="51" fill="#ffbd00"/>
<rect x="1001" y="1866" width="51" height="51" fill="#ffbb00"/>
<rect x="1051" y="1866" width="51" height="51" fill="#ffba00"/>
<rect x="1101" y="1866" width="51" height="51" fill="#ffb800"/>
<rect x="1151" y="1866" width="51" height="51" fill="#ffb700"/>
<rect x="1201" y="1866" width="51" height="51" fill="#ffb500"/>
<rect x="1251" y="1866" width="51" height="51" fill="#ffb400"/>
<rect x="1301" y="1866" width="51" height="51" fill="#ffb200"/>
<rect x="1351" y="1866" width="51" height="51" fill="#ffb300"/>
<rect x="1401" y="1866" width="51" height="51" fill="#ffb500"/>
<rect x="1451" y="1866" width="51" height="51" fill="#ffb700"/>
<rect x="1501" y="1866" width="51" height="51" fill="#ffb900"/>
<rect x="1551" y="1866" width="51" height="51" fill="#ffbb00"/>
<rect x="1601" y="1866" width="51" height="51" fill="#ffbd00"/>
<rect x="1651" y="1866" width="51" height="51" fill="#ffbe00"/>
<rect x="1701" y="1866" width="51" height="51" fill="#ffbf00"/>
<rect x="1751" y="1866" width="51" height="51" fill="#ffc100"/>
<rect x="1801" y="1866" width="51" height="51" fill="#ffc200"/>
<rect x="1851" y="1866" width="51" height="51" fill="#ffc300"/>
<rect x="1901" y="1866" width="51" height="51" fill="#ffc400"/>
<rect x="1951" y="1866" width="51" height="51" fill="#ffc500"/>
<rect x="2001" y="1866" width="51" height="51" fill="#ffc600"/>
<rect x="2051" y="1866" width="51" height="51" fill="#ffc600"/>
<rect x="2101" y="1866" width="51" height="51" fill="#ffc600"/>
<rect x="2151" y="1866" width="51" height="51" fill="#ffc500"/>
<rect x="2201" y="1866" width="51" height="51" fill="#ffc500"/>
<rect x="2251" y="1866" width="51" height="51" fill="#ffc500"/>
<rect x="2301" y="1866" width="51" height="51" fill="#ffc400"/>
<rect x="2351" y="1866" width="51" height="51" fill="#ffc300"/>
<rect x="2401" y="1866" width="51" height="51" fill="#ffc200"/>
<rect x="2451" y="1866" width="51" height="51" fill="#ffc000"/>
<rect x="2501" y="1866" width="51" height="51" fill="#ffc000"/>
<rect x="2551" y="1866" width="51" height="51" fill="#ffc000"/>
<rect x="2601" y="1866" width="51" height="51" fill="#ffc000"/>
<rect x="51" y="1916" width="51" height="51" fill="#ffda00"/>
<rect x="101" y="1916" width="51" height="51" fill="#ffda00"/>
<rect x="151" y="1916" width="51" height="51" fill="#ffda00"/>
<rect x="201" y="1916" width="51" height="51" fill="#ffda00"/>
<rect x="251" y="1916" width="51" height="51" fill="#ffd900"/>
<rect x="301" y="1916" width="51" height="51" fill="#ffd900"/>
<rect x="351" y="1916" width="51" height="51" fill="#ffd900"/>
<rect x="401" y="1916" width="51" height="51" fill="#ffd800"/>
<rect x="451" y="1916" width="51" height="51" fill="#ffd600"/>
<rect x="501" y="1916" width="51" height="51" fill="#ffd300"/>
<rect x="551" y="1916" width="51" height="51" fill="#ffd000"/>
<rect x="601" y="1916" width="51" height="51" fill="#ffce00"/>
<rect x="651" y="1916" width="51" height="51" fill="#ffcb00"/>
<rect x="701" y="1916" width="51" height="51" fill="#ffca00"/>
<rect x="751" y="1916" width="51" height="51" fill="#ffc800"/>
<rect x="801" y="1916" width="51" height="51" fill="#ffc700"/>
<rect x="851" y="1916" width="51" height="51" fill="#ffc500"/>
<rect x="901" y="1916" width="51" height="51" fill="#ffc400"/>
<rect x="951" y="1916" width="51" height="51" fill="#ffc300"/>
<rect x="1001" y="1916" width="51" height="51" fill="#ffc100"/>
<rect x="1051" y="1916" width="51" height="51" fill="#ffc000"/>
<rect x="1101" y="1916" width="51" height="51" fill="#ffbf00"/>
<rect x="1151" y="1916" width="51" height="51" fill="#ffbd00"/>
<rect x="1201" y="1916" width="51" height="51" fill="#ffbb00"/>
<rect x="1251" y="1916" width="51" height="51" fill="#ffba00"/>
<rect x="1301" y="1916" width="51" height="51" fill="#ffb800"/>
<rect x="1351" y="1916" width="51" height="51" fill="#ffb800"/>
<rect x="1401" y="1916" width="51" height="51" fill="#ffbb00"/>
<rect x="1451" y="1916" width="51" height="51" fill="#ffbd00"/>
<rect x="1501" y="1916" width="51" height="51" fill="#ffc000"/>
<rect x="1551" y="1916" width="51" height="51" fill="#ffc200"/>
<rect x="1601" y="1916" width="51" height="51" fill="#ffc400"/>
<rect x="1651" y="1916" width="51" height="51" fill="#ffc500"/>
<rect x="1701" y="1916" width="51" height="51" fill="#ffc700"/>
<rect x="1751" y="1916" width="51" height="51" fill="#ffc800"/>
<rect x="1801" y="1916" width="51" height="51" fill="#ffc900"/>
<rect x="1851" y="1916" width="51" height="51" fill="#ffc900"/>
<rect x="1901" y="1916" width="51" height="51" fill="#ffc900"/>
<rect x="1951" y="1916" width="51" height="51" fill="#ffc900"/>
<rect x="2001" y="1916" width="51" height="51" fill="#ffc900"/>
<rect x="2051" y="1916" width="51" height="51" fill="#ffc900"/>
<rect x="2101" y="1916" width="51" height="51" fill="#ffc800"/>
<rect x="2151" y="1916" width="51" height="51" fill="#ffc700"/>
<rect x="2201" y="1916" width="51" height="51" fill="#ffc700"/>
<rect x="2251" y="1916" width="51" height="51" fill="#ffc600"/>
<rect x="2301" y="1916" width="51" height="51" fill="#ffc500"/>
<rect x="2351" y="1916" width="51" height="51" fill="#ffc400"/>
<rect x="2401" y="1916" width="51" height="51" fill="#ffc300"/>
<rect x="2451" y="1916" width="51" height="51" fill="#ffc200"/>
<rect x="2501" y="1916" width="51" height="51" fill="#ffc200"/>
<rect x="2551" y="1916" width="51" height="51" fill="#ffc200"/>
<rect x="2601" y="1916" width="51" height="51" fill="#ffc200"/>
<rect x="51" y="1966" width="51" height="51" fill="#ffd900"/>
<rect x="101" y="1966" width="51" height="51" fill="#ffd900"/>
<rect x="151" y="1966" width="51" height="51" fill="#ffd900"/>
<rect x="201" y="1966" width="51" height="51" fill="#ffd900"/>
<rect x="251" y="1966" width="51" height="51" fill="#ffd800"/>
<rect x="301" y="1966" width="51" height="51" fill="#ffd800"/>
<rect x="351" y="1966" width="51" height="51" fill="#ffd700"/>
<rect x="401" y="1966" width="51" height="51" fill="#ffd700"/>
<rect x="451" y="1966" width="51" height="51" fill="#ffd500"/>
<rect x="501" y="1966" width="51" height="51" fill="#ffd300"/>
<rect x="551" y="1966" width="51" height="51" fill="#ffd000"/>
<rect x="601" y="1966" width="51" height="51" fill="#ffce00"/>
<rect x="651" y="1966" width="51" height="51" fill="#ffcc00"/>
<rect x="701" y="1966" width="51" height="51" fill="#ffcc00"/>
<rect x="751" y="1966" width="51" height="51" fill="#ffcb00"/>
<rect x="801" y="1966" width="51" height="51" fill="#ffca00"/>
<rect x="851" y="1966" width="51" height="51" fill="#ffc900"/>
<rect x="901" y="1966" width="51" height="51" fill="#ffc800"/>
<rect x="951" y="1966" width="51" height="51" fill="#ffc700"/>
<rect x="1001" y="1966" width="51" height="51" fill="#ffc600"/>
<rect x="1051" y="1966" width="51" height="51" fill="#ffc500"/>
<rect x="1101" y="1966" width="51" height="51" fill="#ffc400"/>
<rect x="1151" y="1966" width="51" height="51" fill="#ffc200"/>
<rect x="1201" y="1966" width="51" height="51" fill="#ffc100"/>
<rect x="1251" y="1966" width="51" height="51" fill="#ffbf00"/>
<rect x="1301" y="1966" width="51" height="51" fill="#ffbd00"/>
<rect x="1351" y="1966" width="51" height="51" fill="#ffbe00"/>
<rect x="1401" y="1966" width="51" height="51" fill="#ffc000"/>
<rect x="1451" y="1966" width="51" height="51" fill="#ffc200"/>
<rect x="1501" y="1966" width="51" height="51" fill="#ffc500"/>
<rect x="1551" y="1966" width="51" height="51" fill="#ffc700"/>
<rect x="1601" y="1966" width="51" height="51" fill="#ffc800"/>
<rect x="1651" y="1966" width="51" height="51" fill="#ffc900"/>
<rect x="1701" y="1966" width="51" height="51" fill="#ffca00"/>
<rect x="1751" y="1966" width="51" height="51" fill="#ffcb00"/>
<rect x="1801" y="1966" width="51" height="51" fill="#ffcc00"/>
<rect x="1851" y="1966" width="51" height="51" fill="#ffcc00"/>
<rect x="1901" y="1966" width="51" height="51" fill="#ffcb00"/>
<rect x="1951" y="1966" width="51" height="51" fill="#ffcb00"/>
<rect x="2001" y="1966" width="51" height="51" fill="#ffcb00"/>
<rect x="2051" y="1966" width="51" height="51" fill="#ffca00"/>
<rect x="2101" y="1966" width="51" height="51" fill="#ffc900"/>
<rect x="2151" y="1966" width="51" height="51" fill="#ffc800"/>
<rect x="2201" y="1966" width="51" height="51" fill="#ffc700"/>
<rect x="2251" y="1966" width="51" height="51" fill="#ffc600"/>
<rect x="2301" y="1966" width="51" height="51" fill="#ffc500"/>
<rect x="2351" y="1966" width="51" height="51" fill="#ffc400"/>
<rect x="2401" y="1966" width="51" height="51" fill="#ffc200"/>
<rect x="2451" y="1966" width="51" height="51" fill="#ffc100"/>
<rect x="2501" y="1966" width="51" height="51" fill="#ffc100"/>
<rect x="2551" y="1966" width="51" height="51" fill="#ffc100"/>
<rect x="2601" y="1966" width="51" height="51" fill="#ffc100"/>
<rect x="51" y="2016" width="51" height="51" fill="#ffd700"/>
<rect x="101" y="2016" width="51" height="51" fill="#ffd700"/>
<rect x="151" y="2016" width="51" height="51" fill="#ffd700"/>
<rect x="201" y="2016" width="51" height="51" fill="#ffd700"/>
<rect x="251" y="2016" width="51" height="51" fill="#ffd700"/>
<rect x="301" y="2016" width="51" height="51" fill="#ffd600"/>
<rect x="351" y="2016" width="51" height="51" fill="#ffd600"/>
<rect x="401" y="2016" width="51" height="51" fill="#ffd500"/>
<rect x="451" y="2016" width="51" height="51" fill="#ffd400"/>
<rect x="501" y="2016" width="51" height="51" fill="#ffd200"/>
<rect x="551" y="2016" width="51" height="51" fill="#ffd100"/>
<rect x="601" y="2016" width="51" height="51" fill="#ffcf00"/>
<rect x="651" y="2016" width="51" height="51" fill="#ffce00"/>
<rect x="701" y="2016" width="51" height="51" fill="#ffcd00"/>
<rect x="751" y="2016" width="51" height="51" fill="#ffcd00"/>
<rect x="801" y="2016" width="51" height="51" fill="#ffcd00"/>
<rect x="851" y="2016" width="51" height="51" fill="#ffcc00"/>
<rect x="901" y="2016" width="51" height="51" fill="#ffcc00"/>
<rect x="951" y="2016" width="51" height="51" fill="#ffcb00"/>
<rect x="1001" y="2016" width="51" height="51" fill="#ffcb00"/>
<rect x="1051" y="2016" width="51" height="51" fill="#ffca00"/>
<rect x="1101" y="2016" width="51" height="51" fill="#ffc900"/>
<rect x="1151" y="2016" width="51" height="51" fill="#ffc800"/>
<rect x="1201" y="2016" width="51" height="51" fill="#ffc600"/>
<rect x="1251" y="2016" width="51" height="51" fill="#ffc500"/>
<rect x="1301" y="2016" width="51" height="51" fill="#ffc300"/>
<rect x="1351" y="2016" width="51" height="51" fill="#ffc300"/>
<rect x="1401" y="2016" width="51" height="51" fill="#ffc500"/>
<rect x="1451" y="2016" width="51" height="51" fill="#ffc700"/>
<rect x="1501" y="2016" width="51" height="51" fill="#ffc900"/>
<rect x="1551" y="2016" width="51" height="51" fill="#ffcb00"/>
<rect x="1601" y="2016" width="51" height="51" fill="#ffcc00"/>
<rect x="1651" y="2016" width="51" height="51" fill="#ffcc00"/>
<rect x="1701" y="2016" width="51" height="51" fill="#ffcd00"/>
<rect x="1751" y="2016" width="51" height="51" fill="#ffce00"/>
<rect x="1801" y="2016" width="51" height="51" fill="#ffce00"/>
<rect x="1851" y="2016" width="51" height="51" fill="#ffce00"/>
<rect x="1901" y="2016" width="51" height="51" fill="#ffcd00"/>
<rect x="1951" y="2016" width="51" height="51" fill="#ffcc00"/>
<rect x="2001" y="2016" width="51" height="51" fill="#ffcc00"/>
<rect x="2051" y="2016" width="51" height="51" fill="#ffcb00"/>
<rect x="2101" y="2016" width="51" height="51" fill="#ffca00"/>
<rect x="2151" y="2016" width="51" height="51" fill="#ffc800"/>
<rect x="2201" y="2016" width="51" height="51" fill="#ffc700"/>
<rect x="2251" y="2016" width="51" height="51" fill="#ffc600"/>
<rect x="2301" y="2016" width="51" height="51" fill="#ffc400"/>
<rect x="2351" y="2016" width="51" height="51" fill="#ffc300"/>
<rect x="2401" y="2016" width="51" height="51" fill="#ffc200"/>
<rect x="2451" y="2016" width="51" height="51" fill="#ffc000"/>
<rect x="2501" y="2016" width="51" height="51" fill="#ffc000"/>
<rect x="2551" y="2016" width="51" height="51" fill="#ffc000"/>
<rect x="2601" y="2016" width="51" height="51" fill="#ffc000"/>
<rect x="51" y="2066" width="51" height="51" fill="#ffd600"/>
<rect x="101" y="2066" width="51" height="51" fill="#ffd600"/>
<rect x="151" y="2066" width="51" height="51" fill="#ffd600"/>
<rect x="201" y="2066" width="51" height="51" fill="#ffd600"/>
<rect x="251" y="2066" width="51" height="51" fill="#ffd500"/>
<rect x="301" y="2066" width="51" height="51" fill="#ffd500"/>
<rect x="351" y="2066" width="51" height="51" fill="#ffd400"/>
<rect x="401" y="2066" width="51" height="51" fill="#ffd400"/>
<rect x="451" y="2066" width="51" height="51" fill="#ffd300"/>
<rect x="501" y="2066" width="51" height="51" fill="#ffd200"/>
<rect x="551" y="2066" width="51" height="51" fill="#ffd100"/>
<rect x="601" y="2066" width="51" height="51" fill="#ffcf00"/>
<rect x="651" y="2066" width="51" height="51" fill="#ffcf00"/>
<rect x="701" y="2066" width="51" height="51" fill="#ffcf00"/>
<rect x="751" y="2066" width="51" height="51" fill="#ffcf00"/>
<rect x="801" y="2066" width="51" height="51" fill="#ffcf00"/>
<rect x="851" y="2066" width="51" height="51" fill="#ffcf00"/>
<rect x="901" y="2066" width="51" height="51" fill="#ffcf00"/>
<rect x="951" y="2066" width="51" height="51" fill="#ffcf00"/>
<rect x="1001" y="2066" width="51" height="51" fill="#ffcf00"/>
<rect x="1051" y="2066" width="51" height="51" fill="#ffcf00"/>
<rect x="1101" y="2066" width="51" height="51" fill="#ffcf00"/>
<rect x="1151" y="2066" width="51" height="51" fill="#ffcd00"/>
<rect x="1201" y="2066" width="51" height="51" fill="#ffcc00"/>
<rect x="1251" y="2066" width="51" height="51" fill="#ffca00"/>
<rect x="1301" y="2066" width="51" height="51" fill="#ffc900"/>
<rect x="1351" y="2066" width="51" height="51" fill="#ffc900"/>
<rect x="1401" y="2066" width="51" height="51" fill="#ffca00"/>
<rect x="1451" y="2066" width="51" height="51" fill="#ffcc00"/>
<rect x="1501" y="2066" width="51" height="51" fill="#ffcd00"/>
<rect x="1551" y="2066" width="51" height="51" fill="#ffcf00"/>
<rect x="1601" y="2066" width="51" height="51" fill="#ffcf00"/>
<rect x="1651" y="2066" width="51" height="51" fill="#ffd000"/>
<rect x="1701" y="2066" width="51" height="51" fill="#ffd000"/>
<rect x="1751" y="2066" width="51" height="51" fill="#ffd000"/>
<rect x="1801" y="2066" width="51" height="51" fill="#ffd000"/>
<rect x="1851" y="2066" width="51" height="51" fill="#ffd000"/>
<rect x="1901" y="2066" width="51" height="51" fill="#ffcf00"/>
<rect x="1951" y="2066" width="51" height="51" fill="#ffce00"/>
<rect x="2001" y="2066" width="51" height="51" fill="#ffcd00"/>
<rect x="2051" y="2066" width="51" height="51" fill="#ffcc00"/>
<rect x="2101" y="2066" width="51" height="51" fill="#ffca00"/>
<rect x="2151" y="2066" width="51" height="51" fill="#ffc900"/>
<rect x="2201" y="2066" width="51" height="51" fill="#ffc700"/>
<rect x="2251" y="2066" width="51" height="51" fill="#ffc600"/>
<rect x="2301" y="2066" width="51" height="51" fill="#ffc400"/>
<rect x="2351" y="2066" width="51" height="51" fill="#ffc300"/>
<rect x="2401" y="2066" width="51" height="51" fill="#ffc100"/>
<rect x="2451" y="2066" width="51" height="51" fill="#ffbf00"/>
<rect x="2501" y="2066" width="51" height="51" fill="#ffbf00"/>
<rect x="2551" y="2066" width="51" height="51" fill="#ffbf00"/>
<rect x="2601" y="2066" width="51" height="51" fill="#ffbf00"/>
<rect x="51" y="2116" width="51" height="51" fill="#ffd500"/>
<rect x="101" y="2116" width="51" height="51" fill="#ffd500"/>
<rect x="151" y="2116" width="51" height="51" fill="#ffd500"/>
<rect x="201" y="2116" width="51" height="51" fill="#ffd400"/>
<rect x="251" y="2116" width="51" height="51" fill="#ffd400"/>
<rect x="301" y="2116" width="51" height="51" fill="#ffd300"/>
<rect x="351" y="2116" width="51" height="51" fill="#ffd300"/>
<rect x="401" y="2116" width="51" height="51" fill="#ffd300"/>
<rect x="451" y="2116" width="51" height="51" fill="#ffd200"/>
<rect x="501" y="2116" width="51" height="51" fill="#ffd100"/>
<rect x="551" y="2116" width="51" height="51" fill="#ffd100"/>
<rect x="601" y="2116" width="51" height="51" fill="#ffd000"/>
<rect x="651" y="2116" width="51" height="51" fill="#ffd000"/>
<rect x="701" y="2116" width="51" height="51" fill="#ffd100"/>
<rect x="751" y="2116" width="51" height="51" fill="#ffd100"/>
<rect x="801" y="2116" width="51" height="51" fill="#ffd200"/>
<rect x="851" y="2116" width="51" height="51" fill="#ffd300"/>
<rect x="901" y="2116" width="51" height="51" fill="#ffd300"/>
<rect x="951" y="2116" width="51" height="51" fill="#ffd300"/>
<rect x="1001" y="2116" width="51" height="51" fill="#ffd300"/>
<rect x="1051" y="2116" width="51" height="51" fill="#ffd400"/>
<rect x="1101" y="2116" width="51" height="51" fill="#ffd400"/>
<rect x="1151" y="2116" width="51" height="51" fill="#ffd300"/>
<rect x="1201" y="2116" width="51" height="51" fill="#ffd100"/>
<rect x="1251" y="2116" width="51" height="51" fill="#ffd000"/>
<rect x="1301" y="2116" width="51" height="51" fill="#ffce00"/>
<rect x="1351" y="2116" width="51" height="51" fill="#ffce00"/>
<rect x="1401" y="2116" width="51" height="51" fill="#ffcf00"/>
<rect x="1451" y="2116" width="51" height="51" fill="#ffd000"/>
<rect x="1501" y="2116" width="51" height="51" fill="#ffd100"/>
<rect x="1551" y="2116" width="51" height="51" fill="#ffd200"/>
<rect x="1601" y="2116" width="51" height="51" fill="#ffd300"/>
<rect x="1651" y="2116" width="51" height="51" fill="#ffd300"/>
<rect x="1701" y="2116" width="51" height="51" fill="#ffd300"/>
<rect x="1751" y="2116" width="51" height="51" fill="#ffd300"/>
<rect x="1801" y="2116" width="51" height="51" fill="#ffd300"/>
<rect x="1851" y="2116" width="51" height="51" fill="#ffd200"/>
<rect x="1901" y="2116" width="51" height="51" fill="#ffd000"/>
<rect x="1951" y="2116" width="51" height="51" fill="#ffcf00"/>
<rect x="2001" y="2116" width="51" height="51" fill="#ffce00"/>
<rect x="2051" y="2116" width="51" height="51" fill="#ffcc00"/>
<rect x="2101" y="2116" width="51" height="51" fill="#ffcb00"/>
<rect x="2151" y="2116" width="51" height="51" fill="#ffc900"/>
<rect x="2201" y="2116" width="51" height="51" fill="#ffc700"/>
<rect x="2251" y="2116" width="51" height="51" fill="#ffc600"/>
<rect x="2301" y="2116" width="51" height="51" fill="#ffc400"/>
<rect x="2351" y="2116" width="51" height="51" fill="#ffc200"/>
<rect x="2401" y="2116" width="51" height="51" fill="#ffc000"/>
<rect x="2451" y="2116" width="51" height="51" fill="#ffbf00"/>
<rect x="2501" y="2116" width="51" height="51" fill="#ffbe00"/>
<rect x="2551" y="2116" width="51" height="51" fill="#ffbe00"/>
<rect x="2601" y="2116" width="51" height="51" fill="#ffbe00"/>
<rect x="51" y="2166" width="51" height="51" fill="#ffd400"/>
<rect x="101" y="2166" width="51" height="51" fill="#ffd400"/>
<rect x="151" y="2166" width="51" height="51" fill="#ffd400"/>
<rect x="201" y="2166" width="51" height="51" fill="#ffd400"/>
<rect x="251" y="2166" width="51" height="51" fill="#ffd300"/>
<rect x="301" y="2166" width="51" height="51" fill="#ffd300"/>
<rect x="351" y="2166" width="51" height="51" fill="#ffd200"/>
<rect x="401" y="2166" width="51" height="51" fill="#ffd200"/>
<rect x="451" y="2166" width="51" height="51" fill="#ffd200"/>
<rect x="501" y="2166" width="51" height="51" fill="#ffd100"/>
<rect x="551" y="2166" width="51" height="51" fill="#ffd100"/>
<rect x="601" y="2166" width="51" height="51" fill="#ffd000"/>
<rect x="651" y="2166" width="51" height="51" fill="#ffd000"/>
<rect x="701" y="2166" width="51" height="51" fill="#ffd100"/>
<rect x="751" y="2166" width="51" height="51" fill="#ffd200"/>
<rect x="801" y="2166" width="51" height="51" fill="#ffd300"/>
<rect x="851" y="2166" width="51" height="51" fill="#ffd400"/>
<rect x="901" y="2166" width="51" height="51" fill="#ffd400"/>
<rect x="951" y="2166" width="51" height="51" fill="#ffd500"/>
<rect x="1001" y="2166" width="51" height="51" fill="#ffd500"/>
<rect x="1051" y="2166" width="51" height="51" fill="#ffd600"/>
<rect x="1101" y="2166" width="51" height="51" fill="#ffd600"/>
<rect x="1151" y="2166" width="51" height="51" fill="#ffd500"/>
<rect x="1201" y="2166" width="51" height="51" fill="#ffd300"/>
<rect x="1251" y="2166" width="51" height="51" fill="#ffd200"/>
<rect x="1301" y="2166" width="51" height="51" fill="#ffd100"/>
<rect x="1351" y="2166" width="51" height="51" fill="#ffd000"/>
<rect x="1401" y="2166" width="51" height="51" fill="#ffd100"/>
<rect x="1451" y="2166" width="51" height="51" fill="#ffd200"/>
<rect x="1501" y="2166" width="51" height="51" fill="#ffd300"/>
<rect x="1551" y="2166" width="51" height="51" fill="#ffd400"/>
<rect x="1601" y="2166" width="51" height="51" fill="#ffd400"/>
<rect x="1651" y="2166" width="51" height="51" fill="#ffd400"/>
<rect x="1701" y="2166" width="51" height="51" fill="#ffd400"/>
<rect x="1751" y="2166" width="51" height="51" fill="#ffd400"/>
<rect x="1801" y="2166" width="51" height="51" fill="#ffd400"/>
<rect x="1851" y="2166" width="51" height="51" fill="#ffd200"/>
<rect x="1901" y="2166" width="51" height="51" fill="#ffd100"/>
<rect x="1951" y="2166" width="51" height="51" fill="#ffd000"/>
<rect x="2001" y="2166" width="51" height="51" fill="#ffce00"/>
<rect x="2051" y="2166" width="51" height="51" fill="#ffcd00"/>
<rect x="2101" y="2166" width="51" height="51" fill="#ffcb00"/>
<rect x="2151" y="2166" width="51" height="51" fill="#ffc900"/>
<rect x="2201" y="2166" width="51" height="51" fill="#ffc800"/>
<rect x="2251" y="2166" width="51" height="51" fill="#ffc600"/>
<rect x="2301" y="2166" width="51" height="51" fill="#ffc400"/>
<rect x="2351" y="2166" width="51" height="51" fill="#ffc200"/>
<rect x="2401" y="2166" width="51" height="51" fill="#ffc000"/>
<rect x="2451" y="2166" width="51" height="51" fill="#ffbe00"/>
<rect x="2501" y="2166" width="51" height="51" fill="#ffbe00"/>
<rect x="2551" y="2166" width="51" height="51" fill="#ffbe00"/>
<rect x="2601" y="2166" width="51" height="51" fill="#ffbe00"/>
<rect x="51" y="2216" width="51" height="51" fill="#ffd400"/>
<rect x="101" y="2216" width="51" height="51" fill="#ffd400"/>
<rect x="151" y="2216" width="51" height="51" fill="#ffd400"/>
<rect x="201" y="2216" width="51" height="51" fill="#ffd400"/>
<rect x="251" y="2216" width="51" height="51" fill="#ffd300"/>
<rect x="301" y="2216" width="51" height="51" fill="#ffd300"/>
<rect x="351" y="2216" width="51" height="51" fill="#ffd200"/>
<rect x="401" y="2216" width="51" height="51" fill="#ffd200"/>
<rect x="451" y="2216" width="51" height="51" fill="#ffd200"/>
<rect x="501" y="2216" width="51" height="51" fill="#ffd100"/>
<rect x="551" y="2216" width="51" height="51" fill="#ffd100"/>
<rect x="601" y="2216" width="51" height="51" fill="#ffd000"/>
<rect x="651" y="2216" width="51" height="51" fill="#ffd000"/>
<rect x="701" y="2216" width="51" height="51" fill="#ffd100"/>
<rect x="751" y="2216" width="51" height="51" fill="#ffd200"/>
<rect x="801" y="2216" width="51" height="51" fill="#ffd300"/>
<rect x="851" y="2216" width="51" height="51" fill="#ffd400"/>
<rect x="901" y="2216" width="51" height="51" fill="#ffd400"/>
<rect x="951" y="2216" width="51" height="51" fill="#ffd500"/>
<rect x="1001" y="2216" width="51" height="51" fill="#ffd500"/>
<rect x="1051" y="2216" width="51" height="51" fill="#ffd600"/>
<rect x="1101" y="2216" width="51" height="51" fill="#ffd600"/>
<rect x="1151" y="2216" width="51" height="51" fill="#ffd500"/>
<rect x="1201" y="2216" width="51" height="51" fill="#ffd300"/>
<rect x="1251" y="2216" width="51" height="51" fill="#ffd200"/>
<rect x="1301" y="2216" width="51" height="51" fill="#ffd100"/>
<rect x="1351" y="2216" width="51" height="51" fill="#ffd000"/>
<rect x="1401" y="2216" width="51" height="51" fill="#ffd100"/>
<rect x="1451" y="2216" width="51" height="51" fill="#ffd200"/>
<rect x="1501" y="2216" width="51" height="51" fill="#ffd300"/>
<rect x="1551" y="2216" width="51" height="51" fill="#ffd400"/>
<rect x="1601" y="2216" width="51" height="51" fill="#ffd400"/>
<rect x="1651" y="2216" width="51" height="51" fill="#ffd400"/>
<rect x="1701" y="2216" width="51" height="51" fill="#ffd400"/>
<rect x="1751" y="2216" width="51" height="51" fill="#ffd400"/>
<rect x="1801" y="2216" width="51" height="51" fill="#ffd400"/>
<rect x="1851" y="2216" width="51" height="51" fill="#ffd200"/>
<rect x="1901" y="2216" width="51" height="51" fill="#ffd100"/>
<rect x="1951" y="2216" width="51" height="51" fill="#ffd000"/>
<rect x="2001" y="2216" width="51" height="51" fill="#ffce00"/>
<rect x="2051" y="2216" width="51" height="51" fill="#ffcd00"/>
<rect x="2101" y="2216" width="51" height="51" fill="#ffcb00"/>
<rect x="2151" y="2216" width="51" height="51" fill="#ffc900"/>
<rect x="2201" y="2216" width="51" height="51" fill="#ffc800"/>
<rect x="2251" y="2216" width="51" height="51" fill="#ffc600"/>
<rect x="2301" y="2216" width="51" height="51" fill="#ffc400"/>
<rect x="2351" y="2216" width="51" height="51" fill="#ffc200"/>
<rect x="2401" y="2216" width="51" height="51" fill="#ffc000"/>
<rect x="2451" y="2216" width="51" height="51" fill="#ffbe00"/>
<rect x="2501" y="2216" width="51" height="51" fill="#ffbe00"/>
<rect x="2551" y="2216" width="51" height="51" fill="#ffbe00"/>
<rect x="2601" y="2216" width="51" height="51" fill="#ffbe00"/>
<rect x="51" y="2266" width="51" height="51" fill="#ffd400"/>
<rect x="101" y="2266" width="51" height="51" fill="#ffd400"/>
<rect x="151" y="2266" width="51" height="51" fill="#ffd400"/>
<rect x="201" y="2266" width="51" height="51" fill="#ffd400"/>
<rect x="251" y="2266" width="51" height="51" fill="#ffd300"/>
<rect x="301" y="2266" width="51" height="51" fill="#ffd300"/>
<rect x="351" y="2266" width="51" height="51" fill="#ffd200"/>
<rect x="401" y="2266" width="51" height="51" fill="#ffd200"/>
<rect x="451" y="2266" width="51" height="51" fill="#ffd200"/>
<rect x="501" y="2266" width="51" height="51" fill="#ffd100"/>
<rect x="551" y="2266" width="51" height="51" fill="#ffd100"/>
<rect x="601" y="2266" width="51" height="51" fill="#ffd000"/>
<rect x="651" y="2266" width="51" height="51" fill="#ffd000"/>
<rect x="701" y="2266" width="51" height="51" fill="#ffd100"/>
<rect x="751" y="2266" width="51" height="51" fill="#ffd200"/>
<rect x="801" y="2266" width="51" height="51" fill="#ffd300"/>
<rect x="851" y="2266" width="51" height="51" fill="#ffd400"/>
<rect x="901" y="2266" width="51" height="51" fill="#ffd400"/>
<rect x="951" y="2266" width="51" height="51" fill="#ffd500"/>
<rect x="1001" y="2266" width="51" height="51" fill="#ffd500"/>
<rect x="1051" y="2266" width="51" height="51" fill="#ffd600"/>
<rect x="1101" y="2266" width="51" height="51" fill="#ffd600"/>
<rect x="1151" y="2266" width="51" height="51" fill="#ffd500"/>
<rect x="1201" y="2266" width="51" height="51" fill="#ffd300"/>
<rect x="1251" y="2266" width="51" height="51" fill="#ffd200"/>
<rect x="1301" y="2266" width="51" height="51" fill="#ffd100"/>
<rect x="1351" y="2266" width="51" height="51" fill="#ffd000"/>
<rect x="1401" y="2266" width="51" height="51" fill="#ffd100"/>
<rect x="1451" y="2266" width="51" height="51" fill="#ffd200"/>
<rect x="1501" y="2266" width="51" height="51" fill="#ffd300"/>
<rect x="1551" y="2266" width="51" height="51" fill="#ffd400"/>
<rect x="1601" y="2266" width="51" height="51" fill="#ffd400"/>
<rect x="1651" y="2266" width="51" height="51" fill="#ffd400"/>
<rect x="1701" y="2266" width="51" height="51" fill="#ffd400"/>
<rect x="1751" y="2266" width="51" height="51" fill="#ffd400"/>
<rect x="1801" y="2266" width="51" height="51" fill="#ffd400"/>
<rect x="1851" y="2266" width="51" height="51" fill="#ffd200"/>
<rect x="1901" y="2266" width="51" height="51" fill="#ffd100"/>
<rect x="1951" y="2266" width="51" height="51" fill="#ffd000"/>
<rect x="2001" y="2266" width="51" height="51" fill="#ffce00"/>
<rect x="2051" y="2266" width="51" height="51" fill="#ffcd00"/>
<rect x="2101" y="2266" width="51" height="51" fill="#ffcb00"/>
<rect x="2151" y="2266" width="51" height="51" fill="#ffc900"/>
<rect x="2201" y="2266" width="51" height="51" fill="#ffc800"/>
<rect x="2251" y="2266" width="51" height="51" fill="#ffc600"/>
<rect x="2301" y="2266" width="51" height="51" fill="#ffc400"/>
<rect x="2351" y="2266" width="51" height="51" fill="#ffc200"/>
<rect x="2401" y="2266" width="51" height="51" fill="#ffc000"/>
<rect x="2451" y="2266" width="51" height="51" fill="#ffbe00"/>
<rect x="2501" y="2266" width="51" height="51" fill="#ffbe00"/>
<rect x="2551" y="2266" width="51" height="51" fill="#ffbe00"/>
<rect x="2601" y="2266" width="51" height="51" fill="#ffbe00"/>
</g>
<g filter="url(#ub)"><path d="M279.0,10.0 C49.3,24.0 324.5,66.0 342.0,94.0 C359.5,122.0 375.5,149.8 384.0,178.0 C392.5,206.2 392.2,227.8 393.0,263.0 C393.8,298.2 394.5,357.8 389.0,389.0 C383.5,420.2 371.5,429.8 360.0,450.0 C348.5,470.2 333.5,492.2 320.0,510.0 C306.5,527.8 294.0,542.0 279.0,557.0 C264.0,572.0 244.0,588.7 230.0,600.0 C216.0,611.3 183.3,625.0 195.0,625.0 C206.7,625.0 265.0,607.8 300.0,600.0 C335.0,592.2 373.3,583.0 405.0,578.0 C436.7,573.0 461.8,577.0 490.0,570.0 C518.2,563.0 546.0,548.7 574.0,536.0 C602.0,523.3 630.0,508.0 658.0,494.0 C686.0,480.0 713.8,463.2 742.0,452.0 C770.2,440.8 798.8,434.0 827.0,427.0 C855.2,420.0 882.2,415.8 911.0,410.0 C939.8,404.2 973.3,395.7 1000.0,392.0 C1026.7,388.3 1044.3,391.7 1071.0,388.0 C1097.7,384.3 1130.2,375.5 1160.0,370.0 C1189.8,364.5 1221.7,359.2 1250.0,355.0 C1278.3,350.8 1305.0,349.2 1330.0,345.0 C1355.0,340.8 1375.0,339.2 1400.0,330.0 C1425.0,320.8 1453.3,303.3 1480.0,290.0 C1506.7,276.7 1533.3,265.0 1560.0,250.0 C1586.7,235.0 1616.7,216.7 1640.0,200.0 C1663.3,183.3 1686.7,181.7 1700.0,150.0 C1713.3,118.3 1956.8,33.3 1720.0,10.0 C1483.2,-13.3 508.7,-4.0 279.0,10.0Z" fill="#ff7800"/></g>
<g filter="url(#lb)">
<path d="M397.0,187.0 C414.2,186.8 466.2,186.3 500.0,186.0 C533.8,185.7 571.5,185.5 600.0,185.0 C628.5,184.5 659.2,183.3 671.0,183.0" fill="none" stroke="#ffc400" stroke-width="8" stroke-linecap="round" stroke-linejoin="round" opacity="0.95"/>
<path d="M671.0,183.0 C680.8,176.7 709.7,157.7 730.0,145.0 C750.3,132.3 782.5,113.3 793.0,107.0" fill="none" stroke="#ffd000" stroke-width="9" stroke-linecap="round" stroke-linejoin="round" opacity="0.95"/>
<path d="M795.0,107.0 C795.3,99.2 796.7,75.2 797.0,60.0 C797.3,44.8 797.0,23.3 797.0,16.0" fill="none" stroke="#ffc800" stroke-width="8" stroke-linecap="round" stroke-linejoin="round" opacity="0.95"/>
<path d="M471.0,18.0 C471.0,46.2 471.0,158.8 471.0,187.0" fill="none" stroke="#ffa800" stroke-width="5" stroke-linecap="round" stroke-linejoin="round" opacity="0.90"/>
<path d="M570.0,20.0 C570.3,47.5 571.7,157.5 572.0,185.0" fill="none" stroke="#ffa400" stroke-width="4" stroke-linecap="round" stroke-linejoin="round" opacity="0.85"/>
<path d="M633.0,85.0 C633.2,101.7 633.8,168.3 634.0,185.0" fill="none" stroke="#ffa400" stroke-width="4" stroke-linecap="round" stroke-linejoin="round" opacity="0.85"/>
<path d="M363.0,35.0 C372.5,35.0 403.2,35.0 420.0,35.0 C436.8,35.0 456.7,35.0 464.0,35.0" fill="none" stroke="#ffb000" stroke-width="5" stroke-linecap="round" stroke-linejoin="round" opacity="0.80"/>
<path d="M498.0,100.0 C507.8,99.7 547.2,98.3 557.0,98.0" fill="none" stroke="#ffa000" stroke-width="3" stroke-linecap="round" stroke-linejoin="round" opacity="0.70"/>
<path d="M520.0,86.0 C520.3,91.5 521.7,113.5 522.0,119.0" fill="none" stroke="#ffa000" stroke-width="3" stroke-linecap="round" stroke-linejoin="round" opacity="0.70"/>
<path d="M597.0,95.0 C605.8,94.5 641.2,92.5 650.0,92.0" fill="none" stroke="#ffa000" stroke-width="3" stroke-linecap="round" stroke-linejoin="round" opacity="0.70"/>
<path d="M393.0,187.0 C392.7,197.5 391.7,230.3 391.0,250.0 C390.3,269.7 389.3,295.8 389.0,305.0" fill="none" stroke="#ffc400" stroke-width="8" stroke-linecap="round" stroke-linejoin="round" opacity="0.95"/>
<path d="M393.0,190.0 C391.5,181.0 389.0,152.0 384.0,136.0 C379.0,120.0 373.5,109.3 363.0,94.0 C352.5,78.7 333.5,56.7 321.0,44.0 C308.5,31.3 293.5,22.3 288.0,18.0" fill="none" stroke="#ff9c00" stroke-width="4" stroke-linecap="round" stroke-linejoin="round" opacity="0.70"/>
<path d="M435.0,191.0 C435.7,203.0 435.7,234.8 439.0,263.0 C442.3,291.2 449.3,328.5 455.0,360.0 C460.7,391.5 475.5,425.3 473.0,452.0 C470.5,478.7 451.3,500.3 440.0,520.0 C428.7,539.7 410.8,561.7 405.0,570.0" fill="none" stroke="#ffa800" stroke-width="5" stroke-linecap="round" stroke-linejoin="round" opacity="0.85"/>
<path d="M481.0,191.0 C481.0,252.0 481.0,496.0 481.0,557.0" fill="none" stroke="#ff9c00" stroke-width="3" stroke-linecap="round" stroke-linejoin="round" opacity="0.70"/>
<path d="M439.0,263.0 C444.0,266.5 453.8,280.0 469.0,284.0 C484.2,288.0 509.7,286.3 530.0,287.0 C550.3,287.7 580.8,287.8 591.0,288.0" fill="none" stroke="#ffa000" stroke-width="4" stroke-linecap="round" stroke-linejoin="round" opacity="0.80"/>
<path d="M591.0,288.0 C594.2,281.7 601.8,260.5 610.0,250.0 C618.2,239.5 628.5,233.3 640.0,225.0 C651.5,216.7 672.5,204.2 679.0,200.0" fill="none" stroke="#ffa000" stroke-width="4" stroke-linecap="round" stroke-linejoin="round" opacity="0.80"/>
<path d="M616.0,271.0 C619.5,273.2 627.8,277.0 637.0,284.0 C646.2,291.0 665.3,308.2 671.0,313.0" fill="none" stroke="#ffc000" stroke-width="5" stroke-linecap="round" stroke-linejoin="round" opacity="0.85"/>
<path d="M650.0,18.0 C658.3,20.0 681.7,23.0 700.0,30.0 C718.3,37.0 743.3,55.8 760.0,60.0 C776.7,64.2 785.0,55.0 800.0,55.0 C815.0,55.0 833.3,62.5 850.0,60.0 C866.7,57.5 883.3,45.0 900.0,40.0 C916.7,35.0 934.2,33.7 950.0,30.0 C965.8,26.3 987.5,20.0 995.0,18.0" fill="none" stroke="#ffb800" stroke-width="8" stroke-linecap="round" stroke-linejoin="round" opacity="0.85"/>
<path d="M911.0,94.0 C909.5,101.0 900.7,122.0 902.0,136.0 C903.3,150.0 913.3,163.8 919.0,178.0 C924.7,192.2 930.3,206.8 936.0,221.0 C941.7,235.2 946.7,249.0 953.0,263.0 C959.3,277.0 969.2,291.0 974.0,305.0 C978.8,319.0 985.5,333.0 982.0,347.0 C978.5,361.0 957.8,382.0 953.0,389.0" fill="none" stroke="#ffa000" stroke-width="5" stroke-linecap="round" stroke-linejoin="round" opacity="0.80"/>
<path d="M574.0,347.0 C577.5,354.0 588.0,375.0 595.0,389.0 C602.0,403.0 609.0,417.0 616.0,431.0 C623.0,445.0 637.0,462.5 637.0,473.0 C637.0,483.5 619.5,490.5 616.0,494.0" fill="none" stroke="#ff9800" stroke-width="3" stroke-linecap="round" stroke-linejoin="round" opacity="0.70"/>
<path d="M886.0,296.0 C883.2,304.5 876.2,335.0 869.0,347.0 C861.8,359.0 851.5,357.5 843.0,368.0 C834.5,378.5 822.2,403.0 818.0,410.0" fill="none" stroke="#ffb400" stroke-width="6" stroke-linecap="round" stroke-linejoin="round" opacity="0.85"/>
<path d="M700.0,120.0 C706.7,128.3 730.0,155.0 740.0,170.0 C750.0,185.0 756.7,203.3 760.0,210.0" fill="none" stroke="#ff9c00" stroke-width="3" stroke-linecap="round" stroke-linejoin="round" opacity="0.60"/>
<path d="M595.0,320.0 C595.8,330.0 596.7,366.7 600.0,380.0 C603.3,393.3 613.3,391.7 615.0,400.0 C616.7,408.3 609.2,420.0 610.0,430.0 C610.8,440.0 618.3,455.0 620.0,460.0" fill="none" stroke="#ff9400" stroke-width="3" stroke-linecap="round" stroke-linejoin="round" opacity="0.70"/>
<path d="M1805.0,73.0 C1815.5,68.2 1850.3,51.0 1868.0,44.0 C1885.7,37.0 1903.8,33.2 1911.0,31.0" fill="none" stroke="#ffa000" stroke-width="5" stroke-linecap="round" stroke-linejoin="round" opacity="0.70"/>
<path d="M1801.0,77.0 C1799.7,86.8 1797.2,120.5 1793.0,136.0 C1788.8,151.5 1778.8,164.3 1776.0,170.0" fill="none" stroke="#ffa000" stroke-width="5" stroke-linecap="round" stroke-linejoin="round" opacity="0.70"/>
<path d="M1995.0,73.0 C2002.0,76.5 2026.5,83.5 2037.0,94.0 C2047.5,104.5 2056.7,122.0 2058.0,136.0 C2059.3,150.0 2052.0,167.5 2045.0,178.0 C2038.0,188.5 2023.0,191.8 2016.0,199.0 C2009.0,206.2 2001.0,210.3 2003.0,221.0 C2005.0,231.7 2018.8,252.5 2028.0,263.0 C2037.2,273.5 2053.0,280.5 2058.0,284.0" fill="none" stroke="#ff9400" stroke-width="12" stroke-linecap="round" stroke-linejoin="round" opacity="0.85"/>
<path d="M2281.0,18.0 C2282.3,27.2 2289.0,56.8 2289.0,73.0 C2289.0,89.2 2285.8,98.8 2281.0,115.0 C2276.2,131.2 2266.3,155.2 2260.0,170.0 C2253.7,184.8 2248.7,197.0 2243.0,204.0 C2237.3,211.0 2232.3,214.8 2226.0,212.0 C2219.7,209.2 2212.0,196.2 2205.0,187.0 C2198.0,177.8 2191.0,165.5 2184.0,157.0 C2177.0,148.5 2173.5,143.0 2163.0,136.0 C2152.5,129.0 2132.8,122.0 2121.0,115.0 C2109.2,108.0 2100.3,101.0 2092.0,94.0 C2083.7,87.0 2076.7,80.0 2071.0,73.0 C2065.3,66.0 2063.2,59.2 2058.0,52.0 C2052.8,44.8 2044.7,36.0 2040.0,30.0 C2035.3,24.0 2031.7,18.3 2030.0,16.0" fill="none" stroke="#ff9400" stroke-width="14" stroke-linecap="round" stroke-linejoin="round" opacity="0.85"/>
<path d="M2260.0,170.0 C2264.8,178.5 2277.0,205.5 2289.0,221.0 C2301.0,236.5 2321.3,249.0 2332.0,263.0 C2342.7,277.0 2353.0,294.5 2353.0,305.0 C2353.0,315.5 2340.5,320.5 2332.0,326.0 C2323.5,331.5 2307.7,331.0 2302.0,338.0 C2296.3,345.0 2294.5,359.5 2298.0,368.0 C2301.5,376.5 2314.7,382.0 2323.0,389.0 C2331.3,396.0 2339.5,399.5 2348.0,410.0 C2356.5,420.5 2365.3,437.0 2374.0,452.0 C2382.7,467.0 2395.7,492.0 2400.0,500.0" fill="none" stroke="#ff9400" stroke-width="12" stroke-linecap="round" stroke-linejoin="round" opacity="0.85"/>
<path d="M1936.0,115.0 C1938.8,129.0 1946.7,174.3 1953.0,199.0 C1959.3,223.7 1967.0,241.8 1974.0,263.0 C1981.0,284.2 1990.8,305.0 1995.0,326.0 C1999.2,347.0 1997.7,371.5 1999.0,389.0 C2000.3,406.5 2001.2,417.5 2003.0,431.0 C2004.8,444.5 2008.8,463.5 2010.0,470.0" fill="none" stroke="#ffa400" stroke-width="6" stroke-linecap="round" stroke-linejoin="round" opacity="0.80"/>
<path d="M1868.0,221.0 C1875.2,228.0 1896.8,249.0 1911.0,263.0 C1925.2,277.0 1939.0,291.0 1953.0,305.0 C1967.0,319.0 1988.0,340.0 1995.0,347.0" fill="none" stroke="#ffa000" stroke-width="5" stroke-linecap="round" stroke-linejoin="round" opacity="0.75"/>
<path d="M1868.0,410.0 C1882.2,410.0 1931.8,409.3 1953.0,410.0 C1974.2,410.7 1988.0,413.3 1995.0,414.0" fill="none" stroke="#ffa000" stroke-width="4" stroke-linecap="round" stroke-linejoin="round" opacity="0.75"/>
<path d="M2087.0,494.0 C2096.2,490.5 2129.3,480.0 2142.0,473.0 C2154.7,466.0 2152.5,459.0 2163.0,452.0 C2173.5,445.0 2191.0,438.0 2205.0,431.0 C2219.0,424.0 2233.0,417.0 2247.0,410.0 C2261.0,403.0 2274.8,396.0 2289.0,389.0 C2303.2,382.0 2317.8,375.0 2332.0,368.0 C2346.2,361.0 2360.0,354.0 2374.0,347.0 C2388.0,340.0 2398.5,333.0 2416.0,326.0 C2433.5,319.0 2468.5,308.5 2479.0,305.0" fill="none" stroke="#ffa000" stroke-width="7" stroke-linecap="round" stroke-linejoin="round" opacity="0.80"/>
<path d="M2142.0,473.0 C2139.8,480.0 2129.0,501.0 2129.0,515.0 C2129.0,529.0 2136.3,544.3 2142.0,557.0 C2147.7,569.7 2160.8,580.3 2163.0,591.0 C2165.2,601.7 2153.8,609.5 2155.0,621.0 C2156.2,632.5 2167.5,653.5 2170.0,660.0" fill="none" stroke="#ffa000" stroke-width="6" stroke-linecap="round" stroke-linejoin="round" opacity="0.80"/>
<path d="M2380.0,60.0 C2386.7,68.3 2408.3,93.3 2420.0,110.0 C2431.7,126.7 2440.3,148.3 2450.0,160.0 C2459.7,171.7 2473.3,176.7 2478.0,180.0" fill="none" stroke="#ff9400" stroke-width="8" stroke-linecap="round" stroke-linejoin="round" opacity="0.70"/>
<path d="M1760.0,120.0 C1765.0,113.3 1778.3,91.7 1790.0,80.0 C1801.7,68.3 1818.3,58.3 1830.0,50.0 C1841.7,41.7 1855.0,33.3 1860.0,30.0" fill="none" stroke="#ffa000" stroke-width="4" stroke-linecap="round" stroke-linejoin="round" opacity="0.60"/>
<path d="M1800.0,560.0 C1805.0,566.7 1816.7,586.7 1830.0,600.0 C1843.3,613.3 1865.0,623.3 1880.0,640.0 C1895.0,656.7 1913.3,690.0 1920.0,700.0" fill="none" stroke="#ff9c00" stroke-width="4" stroke-linecap="round" stroke-linejoin="round" opacity="0.60"/>
<path d="M2200.0,700.0 C2208.3,710.0 2233.3,743.3 2250.0,760.0 C2266.7,776.7 2281.7,785.0 2300.0,800.0 C2318.3,815.0 2340.0,836.7 2360.0,850.0 C2380.0,863.3 2410.0,875.0 2420.0,880.0" fill="none" stroke="#ffa000" stroke-width="5" stroke-linecap="round" stroke-linejoin="round" opacity="0.60"/>
<path d="M2250.0,600.0 C2251.7,613.3 2255.0,656.7 2260.0,680.0 C2265.0,703.3 2276.7,730.0 2280.0,740.0" fill="none" stroke="#ffa400" stroke-width="4" stroke-linecap="round" stroke-linejoin="round" opacity="0.60"/>
<path d="M1060.0,560.0 C1066.7,556.7 1083.3,546.7 1100.0,540.0 C1116.7,533.3 1136.7,526.7 1160.0,520.0 C1183.3,513.3 1216.7,503.3 1240.0,500.0 C1263.3,496.7 1281.7,501.7 1300.0,500.0 C1318.3,498.3 1341.7,491.7 1350.0,490.0" fill="none" stroke="#ff9c00" stroke-width="3" stroke-linecap="round" stroke-linejoin="round" opacity="0.60"/>
<path d="M1110.0,330.0 C1125.0,330.0 1168.3,329.2 1200.0,330.0 C1231.7,330.8 1270.0,333.3 1300.0,335.0 C1330.0,336.7 1366.7,339.2 1380.0,340.0" fill="none" stroke="#ff9c00" stroke-width="3" stroke-linecap="round" stroke-linejoin="round" opacity="0.60"/>
<path d="M1380.0,310.0 C1391.7,311.7 1426.7,316.7 1450.0,320.0 C1473.3,323.3 1498.3,326.7 1520.0,330.0 C1541.7,333.3 1570.0,338.3 1580.0,340.0" fill="none" stroke="#ff9c00" stroke-width="3" stroke-linecap="round" stroke-linejoin="round" opacity="0.50"/>
<path d="M1290.0,485.0 C1295.0,474.2 1308.3,435.8 1320.0,420.0 C1331.7,404.2 1343.3,396.7 1360.0,390.0 C1376.7,383.3 1410.0,381.7 1420.0,380.0" fill="none" stroke="#ff9c00" stroke-width="3" stroke-linecap="round" stroke-linejoin="round" opacity="0.50"/>
<path d="M1015.0,600.0 C1000.3,609.3 958.5,635.0 927.0,656.0 C895.5,677.0 857.5,708.0 826.0,726.0 C794.5,744.0 752.7,757.7 738.0,764.0" fill="none" stroke="#ffb000" stroke-width="6" stroke-linecap="round" stroke-linejoin="round" opacity="0.60"/>
</g>
<g filter="url(#cb)">
<path d="M1482.0,1560.0 C1475.0,1570.0 1450.3,1598.3 1440.0,1620.0 C1429.7,1641.7 1426.7,1666.7 1420.0,1690.0 C1413.3,1713.3 1403.3,1748.3 1400.0,1760.0" fill="none" stroke="#ffc000" stroke-width="12" stroke-linecap="round" stroke-linejoin="round" opacity="0.70"/>
<path d="M1500.0,1520.0 C1506.7,1531.7 1530.0,1568.3 1540.0,1590.0 C1550.0,1611.7 1555.0,1628.3 1560.0,1650.0 C1565.0,1671.7 1568.3,1708.3 1570.0,1720.0" fill="none" stroke="#ffc000" stroke-width="12" stroke-linecap="round" stroke-linejoin="round" opacity="0.60"/>
<path d="M1300.0,1417.0 C1291.7,1425.8 1263.3,1449.5 1250.0,1470.0 C1236.7,1490.5 1225.8,1515.0 1220.0,1540.0 C1214.2,1565.0 1215.8,1606.7 1215.0,1620.0" fill="none" stroke="#ffc000" stroke-width="12" stroke-linecap="round" stroke-linejoin="round" opacity="0.60"/>
<path d="M1315.0,1340.0 C1325.8,1350.0 1365.8,1378.3 1380.0,1400.0 C1394.2,1421.7 1397.5,1443.3 1400.0,1470.0 C1402.5,1496.7 1395.8,1545.0 1395.0,1560.0" fill="none" stroke="#ffb800" stroke-width="10" stroke-linecap="round" stroke-linejoin="round" opacity="0.50"/>
<path d="M1040.0,1190.0 C1046.7,1201.7 1070.0,1236.7 1080.0,1260.0 C1090.0,1283.3 1095.0,1303.3 1100.0,1330.0 C1105.0,1356.7 1108.3,1405.0 1110.0,1420.0" fill="none" stroke="#ffb000" stroke-width="10" stroke-linecap="round" stroke-linejoin="round" opacity="0.50"/>
<path d="M1600.0,1060.0 C1596.7,1075.0 1580.0,1118.3 1580.0,1150.0 C1580.0,1181.7 1590.0,1220.0 1600.0,1250.0 C1610.0,1280.0 1630.0,1301.7 1640.0,1330.0 C1650.0,1358.3 1656.7,1405.0 1660.0,1420.0" fill="none" stroke="#ffb400" stroke-width="10" stroke-linecap="round" stroke-linejoin="round" opacity="0.50"/>
<path d="M2023.0,1231.0 C2028.5,1244.8 2048.2,1286.3 2056.0,1314.0 C2063.8,1341.7 2067.2,1371.0 2070.0,1397.0 C2072.8,1423.0 2072.5,1457.8 2073.0,1470.0" fill="none" stroke="#ffc400" stroke-width="10" stroke-linecap="round" stroke-linejoin="round" opacity="0.50"/>
<path d="M1892.0,1530.0 C1890.0,1541.7 1883.7,1575.0 1880.0,1600.0 C1876.3,1625.0 1871.7,1666.7 1870.0,1680.0" fill="none" stroke="#ffc400" stroke-width="12" stroke-linecap="round" stroke-linejoin="round" opacity="0.60"/>
<path d="M844.0,1461.0 C836.7,1454.2 814.0,1430.2 800.0,1420.0 C786.0,1409.8 766.7,1403.3 760.0,1400.0" fill="none" stroke="#ffb800" stroke-width="10" stroke-linecap="round" stroke-linejoin="round" opacity="0.50"/>
<path d="M1086.0,1132.0 C1076.7,1130.0 1047.7,1120.3 1030.0,1120.0 C1012.3,1119.7 988.3,1128.3 980.0,1130.0" fill="none" stroke="#ffb000" stroke-width="8" stroke-linecap="round" stroke-linejoin="round" opacity="0.50"/>
<path d="M1586.1,426.7 C1585.6,422.0 1588.0,414.7 1573.3,414.1 C1558.6,413.5 1519.7,419.6 1497.9,422.9 C1476.0,426.2 1461.4,425.6 1442.3,433.7 C1423.1,441.8 1405.2,457.7 1383.1,471.5 C1361.1,485.3 1334.2,505.2 1309.8,516.4 C1285.3,527.5 1255.2,533.8 1236.4,538.2 C1217.6,542.6 1212.0,539.7 1196.8,542.8 C1181.6,546.0 1162.1,551.9 1145.3,557.0 C1128.6,562.0 1112.3,566.4 1096.5,573.4 C1080.7,580.4 1063.6,589.4 1050.4,598.9 C1037.2,608.4 1031.3,618.5 1017.2,630.5 C1003.1,642.6 982.8,656.8 966.0,671.4 C949.2,685.9 932.8,704.8 916.4,717.7 C900.1,730.6 886.0,739.2 867.9,748.8 C849.7,758.4 829.7,768.1 807.5,775.4 C785.2,782.7 755.7,785.9 734.3,792.6 C713.0,799.4 688.9,811.4 679.3,816.1 C669.7,820.7 676.6,819.2 676.8,820.5 C677.1,821.9 669.9,822.8 680.7,823.9 C691.5,825.1 718.7,829.9 741.7,827.4 C764.6,824.8 794.8,816.6 818.5,808.6 C842.3,800.6 864.3,789.9 884.1,779.2 C904.0,768.5 920.2,758.1 937.6,744.3 C954.9,730.6 971.1,711.4 988.0,696.6 C1004.9,681.8 1025.2,667.4 1038.8,655.5 C1052.4,643.5 1057.8,633.9 1069.6,625.1 C1081.4,616.3 1095.3,609.0 1109.5,602.6 C1123.7,596.3 1139.0,592.0 1154.7,587.0 C1170.3,582.1 1188.4,576.4 1203.2,573.2 C1218.0,570.0 1223.7,572.7 1243.6,567.8 C1263.4,562.9 1296.4,555.5 1322.2,543.6 C1348.1,531.8 1376.9,510.4 1398.9,496.5 C1420.8,482.6 1436.5,467.9 1453.7,460.3 C1471.0,452.7 1481.6,454.2 1502.1,451.1 C1522.6,448.0 1562.7,446.0 1576.7,441.9 C1590.7,437.8 1586.7,431.3 1586.1,426.7Z" fill="#fff000" opacity="1.00"/>
<path d="M1415.3,760.2 C1413.3,753.9 1410.9,744.0 1394.0,745.9 C1377.2,747.8 1338.6,763.5 1314.1,771.7 C1289.6,779.8 1270.0,785.5 1247.2,794.8 C1224.4,804.1 1198.1,816.0 1177.5,827.4 C1157.0,838.8 1141.2,850.1 1123.8,863.4 C1106.4,876.6 1089.9,894.2 1073.3,907.0 C1056.6,919.8 1040.3,931.4 1023.8,940.3 C1007.3,949.2 990.0,953.2 974.1,960.5 C958.1,967.8 949.1,979.6 928.1,984.3 C907.1,989.0 870.2,988.7 848.1,988.8 C826.0,988.8 813.6,988.6 795.7,984.8 C777.9,981.0 758.6,970.9 741.2,966.0 C723.7,961.1 700.0,956.7 691.1,955.2 C682.2,953.7 688.1,956.2 687.8,957.1 C687.4,958.0 681.4,955.6 688.9,960.8 C696.4,965.9 715.9,979.9 732.8,988.0 C749.7,996.1 771.1,1004.7 790.3,1009.2 C809.4,1013.7 824.0,1014.8 847.9,1015.2 C871.8,1015.7 910.9,1016.3 933.9,1011.7 C956.9,1007.1 968.6,994.8 985.9,987.5 C1003.3,980.2 1020.4,976.8 1038.2,967.7 C1056.0,958.6 1075.1,945.9 1092.7,933.0 C1110.4,920.2 1127.2,903.0 1144.2,890.6 C1161.1,878.2 1175.0,868.8 1194.5,858.6 C1213.9,848.4 1238.9,837.6 1260.8,829.2 C1282.7,820.8 1301.7,815.8 1325.9,808.3 C1350.1,800.8 1391.1,792.1 1406.0,784.1 C1420.9,776.1 1417.3,766.6 1415.3,760.2Z" fill="#ffec00" opacity="0.95"/>
<path d="M990.7,979.3 C988.3,977.0 989.0,968.9 977.9,977.9 C966.8,987.0 941.9,1016.4 924.1,1033.6 C906.2,1050.7 888.7,1061.1 870.6,1080.8 C852.4,1100.6 832.1,1129.1 815.1,1152.1 C798.1,1175.1 776.1,1207.2 768.4,1218.8 C760.7,1230.3 768.5,1220.9 769.0,1221.3 C769.5,1221.7 762.3,1231.5 771.6,1221.2 C780.9,1211.0 806.6,1181.6 824.9,1159.9 C843.2,1138.2 862.9,1110.1 881.4,1091.2 C899.9,1072.3 917.5,1062.9 935.9,1046.4 C954.4,1029.9 983.0,1003.3 992.1,992.1 C1001.2,980.9 993.0,981.7 990.7,979.3Z" fill="#ffc800" opacity="0.60"/>
<path d="M1523.2,693.4 C1515.4,679.6 1484.5,669.4 1466.8,670.6 C1449.1,671.8 1432.4,690.7 1416.8,700.6 C1401.2,710.5 1386.7,718.7 1373.3,730.1 C1359.9,741.5 1345.8,753.8 1336.6,769.1 C1327.4,784.5 1321.6,805.3 1318.4,822.3 C1315.2,839.4 1318.4,860.9 1317.4,871.5 C1316.3,882.2 1316.5,880.8 1311.9,886.2 C1307.3,891.7 1293.7,893.7 1289.8,904.1 C1286.0,914.6 1281.6,939.6 1288.7,948.9 C1295.7,958.2 1318.9,962.4 1332.2,959.9 C1345.4,957.4 1358.0,945.7 1368.1,933.8 C1378.2,921.9 1387.7,904.5 1392.6,888.5 C1397.6,872.4 1395.2,849.9 1397.6,837.7 C1400.1,825.4 1402.6,821.2 1407.4,814.9 C1412.2,808.6 1417.4,805.8 1426.7,799.9 C1436.0,794.0 1448.8,787.1 1463.2,779.4 C1477.6,771.6 1503.2,767.8 1513.2,753.4 C1523.2,739.1 1530.9,707.2 1523.2,693.4Z" fill="#ffff00" opacity="1.00"/>
<path d="M1338.3,909.5 C1331.8,901.8 1310.3,900.3 1300.6,902.1 C1290.9,904.0 1286.8,914.1 1280.2,920.7 C1273.6,927.3 1271.9,932.8 1260.8,941.7 C1249.7,950.6 1229.7,961.7 1213.6,974.2 C1197.5,986.7 1180.5,1001.3 1164.2,1016.6 C1147.9,1031.9 1132.0,1049.5 1116.0,1066.0 C1100.0,1082.5 1082.9,1098.6 1067.9,1115.4 C1053.0,1132.2 1038.6,1148.0 1026.3,1166.9 C1014.1,1185.8 1004.3,1210.9 994.3,1228.6 C984.4,1246.2 975.4,1259.7 966.9,1272.8 C958.5,1285.9 953.2,1294.6 943.7,1306.9 C934.2,1319.3 914.8,1336.0 909.9,1346.8 C905.1,1357.7 909.4,1367.7 914.5,1372.0 C919.5,1376.4 929.7,1379.7 940.1,1373.2 C950.4,1366.7 965.8,1345.7 976.3,1333.1 C986.8,1320.4 993.5,1310.8 1003.1,1297.2 C1012.6,1283.6 1023.2,1268.8 1033.7,1251.4 C1044.1,1234.1 1053.9,1210.2 1065.7,1193.1 C1077.4,1176.0 1089.7,1163.8 1104.1,1148.6 C1118.5,1133.4 1136.0,1117.5 1152.0,1102.0 C1168.0,1086.5 1184.1,1069.5 1199.8,1055.4 C1215.5,1041.4 1230.5,1029.3 1246.4,1017.8 C1262.3,1006.3 1283.0,995.4 1295.2,986.3 C1307.5,977.2 1312.4,969.7 1319.8,963.3 C1327.2,956.9 1336.3,956.8 1339.4,947.9 C1342.5,938.9 1344.8,917.1 1338.3,909.5Z" fill="#ffff00" opacity="1.00"/>
<path d="M970.0,1308.6 C965.2,1304.4 955.5,1300.8 945.7,1307.5 C935.9,1314.2 922.1,1335.4 911.5,1348.6 C900.9,1361.8 895.4,1369.7 882.3,1386.8 C869.1,1403.9 849.1,1431.9 832.8,1451.0 C816.4,1470.2 800.5,1486.9 784.1,1501.7 C767.6,1516.4 748.4,1528.0 734.1,1539.8 C719.8,1551.6 704.5,1566.4 698.4,1572.4 C692.4,1578.5 697.4,1575.4 698.0,1576.2 C698.5,1577.1 693.2,1580.2 701.6,1577.6 C709.9,1574.9 731.2,1569.4 747.9,1560.2 C764.6,1551.0 784.1,1537.2 801.9,1522.3 C819.8,1507.5 837.6,1490.1 855.2,1471.0 C872.9,1451.8 893.9,1423.8 907.7,1407.2 C921.6,1390.6 927.4,1383.8 938.5,1371.4 C949.6,1358.9 969.0,1343.0 974.3,1332.5 C979.6,1322.0 974.8,1312.7 970.0,1308.6Z" fill="#ffe000" opacity="0.85"/>
<path d="M1352.0,886.4 C1346.3,886.4 1337.7,881.1 1335.0,900.0 C1332.3,918.9 1335.8,965.0 1335.8,999.8 C1335.7,1034.7 1336.6,1078.0 1334.6,1108.8 C1332.6,1139.7 1327.2,1159.3 1323.5,1184.7 C1319.8,1210.2 1316.2,1238.5 1312.3,1261.5 C1308.4,1284.6 1304.9,1300.6 1300.2,1323.2 C1295.5,1345.8 1288.7,1376.1 1284.0,1397.1 C1279.3,1418.2 1275.9,1430.8 1271.8,1449.3 C1267.6,1467.9 1261.6,1491.2 1259.3,1508.4 C1257.0,1525.6 1256.6,1543.8 1258.0,1552.5 C1259.4,1561.3 1264.3,1560.8 1267.6,1561.0 C1271.0,1561.1 1275.8,1561.7 1278.0,1553.5 C1280.2,1545.2 1278.0,1528.1 1280.7,1511.6 C1283.4,1495.1 1289.7,1472.8 1294.2,1454.7 C1298.8,1436.5 1302.7,1423.8 1308.0,1402.9 C1313.3,1381.9 1320.5,1351.6 1325.8,1328.8 C1331.1,1306.1 1335.2,1289.7 1339.7,1266.5 C1344.1,1243.2 1348.2,1215.1 1352.5,1189.3 C1356.8,1163.4 1362.8,1142.7 1365.4,1111.2 C1368.0,1079.6 1367.6,1035.3 1368.2,1000.2 C1368.8,965.0 1371.7,919.0 1369.0,900.0 C1366.3,881.0 1357.7,886.4 1352.0,886.4Z" fill="#fff000" opacity="0.95"/>
<path d="M1266.0,1546.1 C1263.1,1546.9 1257.8,1545.4 1259.4,1555.5 C1260.9,1565.6 1269.1,1589.8 1275.3,1606.7 C1281.4,1623.6 1288.5,1640.3 1296.3,1657.0 C1304.1,1673.7 1313.4,1690.2 1322.2,1706.9 C1331.0,1723.7 1340.2,1740.9 1348.9,1757.6 C1357.7,1774.3 1366.4,1791.6 1374.6,1807.1 C1382.9,1822.6 1394.3,1843.3 1398.6,1850.6 C1403.0,1858.0 1400.1,1851.3 1400.5,1851.1 C1401.0,1850.9 1404.2,1857.4 1401.4,1849.4 C1398.5,1841.3 1390.4,1819.0 1383.4,1802.9 C1376.3,1786.7 1367.3,1769.4 1359.1,1752.4 C1350.8,1735.5 1342.0,1718.0 1333.8,1701.1 C1325.6,1684.2 1316.9,1667.6 1309.7,1651.0 C1302.5,1634.4 1296.2,1618.1 1290.7,1601.3 C1285.2,1584.6 1280.8,1559.7 1276.6,1550.5 C1272.5,1541.3 1268.8,1545.2 1266.0,1546.1Z" fill="#ffd800" opacity="0.75"/>
<path d="M1522.2,676.2 C1512.3,677.3 1498.3,689.1 1495.2,703.5 C1492.1,717.9 1500.7,738.3 1503.4,762.7 C1506.2,787.0 1511.5,825.8 1511.6,849.6 C1511.7,873.5 1506.5,889.7 1504.3,905.7 C1502.0,921.6 1503.1,921.7 1497.9,945.1 C1492.7,968.6 1476.6,1018.7 1472.8,1046.3 C1468.9,1074.0 1473.3,1080.8 1474.8,1110.9 C1476.4,1141.0 1479.1,1194.8 1482.2,1226.7 C1485.3,1258.7 1492.2,1277.2 1493.4,1302.6 C1494.7,1328.0 1489.1,1357.6 1489.7,1379.1 C1490.3,1400.7 1492.8,1421.3 1497.1,1432.0 C1501.4,1442.7 1510.0,1444.2 1515.6,1443.5 C1521.2,1442.8 1529.1,1438.8 1530.9,1428.0 C1532.7,1417.2 1526.0,1400.0 1526.3,1378.9 C1526.6,1357.7 1533.0,1327.3 1532.6,1301.4 C1532.2,1275.4 1526.1,1255.3 1523.8,1223.3 C1521.6,1191.2 1520.0,1137.4 1519.2,1109.1 C1518.4,1080.8 1514.7,1079.0 1519.2,1053.7 C1523.7,1028.3 1540.0,980.1 1546.1,956.9 C1552.2,933.6 1552.4,932.1 1555.7,914.3 C1559.1,896.6 1565.6,876.5 1566.4,850.4 C1567.2,824.2 1562.5,783.0 1560.6,757.3 C1558.6,731.7 1561.2,710.1 1554.8,696.5 C1548.4,683.0 1532.2,675.0 1522.2,676.2Z" fill="#fff400" opacity="1.00"/>
<path d="M1507.7,1367.0 C1502.7,1367.1 1494.9,1365.2 1493.0,1379.4 C1491.1,1393.6 1495.4,1431.8 1496.1,1452.2 C1496.8,1472.6 1498.4,1485.9 1497.3,1501.7 C1496.2,1517.6 1495.5,1536.1 1489.7,1547.5 C1484.0,1559.0 1470.8,1561.7 1462.6,1570.6 C1454.3,1579.5 1444.6,1587.0 1440.1,1601.0 C1435.7,1614.9 1434.6,1636.9 1435.8,1654.4 C1436.9,1671.9 1441.7,1688.9 1447.1,1705.8 C1452.5,1722.6 1464.2,1747.1 1468.1,1755.6 C1472.0,1764.1 1469.8,1756.7 1470.5,1756.5 C1471.1,1756.3 1473.5,1763.5 1471.9,1754.4 C1470.3,1745.4 1464.2,1719.0 1460.9,1702.2 C1457.6,1685.4 1452.7,1669.5 1452.2,1653.6 C1451.7,1637.7 1453.7,1618.4 1457.9,1607.0 C1462.1,1595.7 1468.7,1593.5 1477.4,1585.4 C1486.2,1577.3 1502.7,1572.0 1510.3,1558.5 C1517.8,1544.9 1520.4,1522.0 1522.7,1504.3 C1525.0,1486.5 1523.8,1472.7 1523.9,1451.8 C1523.9,1430.8 1525.7,1392.7 1523.0,1378.6 C1520.3,1364.5 1512.7,1366.9 1507.7,1367.0Z" fill="#ffd800" opacity="0.80"/>
<path d="M1508.6,1497.6 C1506.3,1498.2 1500.6,1491.1 1503.2,1504.8 C1505.9,1518.5 1516.7,1558.8 1524.7,1579.9 C1532.7,1601.0 1542.3,1617.8 1551.3,1631.3 C1560.3,1644.8 1573.9,1656.0 1578.8,1660.9 C1583.7,1665.9 1580.4,1661.2 1580.8,1660.9 C1581.1,1660.6 1584.8,1664.8 1581.2,1659.1 C1577.5,1653.4 1566.3,1640.6 1558.7,1626.7 C1551.1,1612.9 1542.3,1597.0 1535.3,1576.1 C1528.3,1555.2 1521.2,1514.3 1516.8,1501.2 C1512.3,1488.1 1510.8,1497.0 1508.6,1497.6Z" fill="#ffc800" opacity="0.70"/>
<path d="M1517.7,1398.7 C1516.3,1399.7 1510.2,1395.5 1515.9,1404.9 C1521.6,1414.2 1537.1,1439.7 1551.9,1455.0 C1566.6,1470.2 1582.9,1486.4 1604.4,1496.3 C1625.9,1506.2 1667.7,1511.6 1680.6,1514.4 C1693.6,1517.3 1682.0,1513.8 1682.2,1513.3 C1682.3,1512.8 1693.8,1515.5 1681.4,1511.6 C1669.0,1507.6 1628.1,1500.1 1607.6,1489.7 C1587.1,1479.3 1572.1,1464.1 1558.1,1449.0 C1544.2,1433.9 1530.8,1407.5 1524.1,1399.1 C1517.4,1390.7 1519.1,1397.8 1517.7,1398.7Z" fill="#ffc000" opacity="0.60"/>
<path d="M1529.6,908.1 C1526.7,910.3 1522.4,913.6 1526.3,921.8 C1530.2,929.9 1540.3,934.4 1553.0,956.8 C1565.7,979.1 1589.7,1032.4 1602.5,1055.8 C1615.3,1079.3 1620.0,1083.7 1629.9,1097.4 C1639.8,1111.1 1648.6,1121.3 1661.8,1138.1 C1675.1,1154.9 1694.8,1179.0 1709.3,1198.2 C1723.8,1217.4 1739.1,1243.9 1748.7,1253.2 C1758.2,1262.5 1762.8,1256.8 1766.6,1254.1 C1770.4,1251.3 1777.3,1248.8 1771.3,1236.8 C1765.3,1224.7 1745.6,1200.9 1730.7,1181.8 C1715.9,1162.6 1695.6,1138.4 1682.2,1121.9 C1668.7,1105.3 1659.8,1095.5 1650.1,1082.6 C1640.3,1069.6 1636.3,1067.1 1623.5,1044.2 C1610.6,1021.3 1586.3,967.9 1573.0,945.2 C1559.7,922.6 1550.9,914.4 1543.7,908.2 C1536.5,902.0 1532.5,905.8 1529.6,908.1Z" fill="#ffe400" opacity="0.90"/>
<path d="M1561.9,667.1 C1552.4,672.5 1542.0,688.2 1546.3,706.4 C1550.7,724.5 1571.7,749.7 1587.7,776.0 C1603.7,802.3 1625.3,833.2 1642.3,864.1 C1659.2,895.1 1675.7,929.7 1689.2,961.8 C1702.8,994.0 1716.3,1031.9 1723.4,1057.0 C1730.5,1082.1 1729.7,1093.2 1732.0,1112.6 C1734.4,1132.0 1734.1,1153.8 1737.5,1173.6 C1741.0,1193.5 1747.3,1215.7 1752.6,1231.8 C1758.0,1247.9 1762.3,1262.5 1769.6,1270.3 C1776.9,1278.0 1789.8,1281.1 1796.6,1278.3 C1803.4,1275.6 1810.3,1263.8 1810.4,1253.7 C1810.5,1243.7 1801.3,1232.8 1797.4,1218.2 C1793.4,1203.6 1788.7,1184.8 1786.5,1166.4 C1784.3,1147.9 1785.6,1128.0 1784.0,1107.4 C1782.3,1086.8 1783.5,1070.9 1776.6,1043.0 C1769.7,1015.1 1756.2,974.7 1742.8,940.2 C1729.3,905.6 1712.5,868.6 1695.7,835.9 C1679.0,803.2 1657.6,771.0 1642.3,744.0 C1626.9,716.9 1617.0,686.4 1603.7,673.6 C1590.3,660.8 1571.5,661.6 1561.9,667.1Z" fill="#ffe800" opacity="0.95"/>
<path d="M1768.4,1208.7 C1761.6,1211.4 1754.2,1223.2 1754.6,1233.3 C1755.0,1243.4 1762.4,1248.4 1770.8,1269.2 C1779.3,1290.1 1793.5,1328.4 1805.2,1358.6 C1816.8,1388.7 1828.7,1420.7 1840.7,1450.3 C1852.7,1480.0 1864.7,1508.8 1877.4,1536.4 C1890.0,1564.1 1902.7,1590.2 1916.8,1616.0 C1931.0,1641.8 1954.1,1678.5 1962.3,1691.2 C1970.4,1703.9 1965.0,1692.6 1966.0,1692.2 C1966.9,1691.8 1971.5,1703.5 1967.7,1688.8 C1964.0,1674.1 1953.4,1631.5 1943.2,1604.0 C1933.0,1576.4 1918.3,1551.3 1906.6,1523.6 C1895.0,1495.8 1884.3,1467.4 1873.3,1437.7 C1862.3,1408.0 1851.5,1375.9 1840.8,1345.4 C1830.1,1314.9 1816.7,1276.2 1809.2,1254.8 C1801.6,1233.3 1802.2,1224.4 1795.4,1216.7 C1788.6,1209.1 1775.2,1205.9 1768.4,1208.7Z" fill="#ffd400" opacity="0.85"/>
<path d="M1741.4,1074.4 C1739.1,1078.8 1738.1,1086.8 1745.0,1093.3 C1752.0,1099.7 1773.1,1107.8 1783.0,1113.1 C1793.0,1118.3 1795.3,1119.3 1804.6,1124.6 C1813.9,1129.9 1827.9,1136.0 1838.7,1145.0 C1849.6,1154.1 1858.8,1167.6 1869.8,1178.9 C1880.9,1190.2 1893.4,1201.3 1905.1,1212.9 C1916.8,1224.5 1927.9,1237.7 1939.8,1248.3 C1951.7,1258.8 1964.7,1268.7 1976.6,1276.4 C1988.5,1284.1 1998.5,1287.1 2011.2,1294.5 C2023.8,1301.9 2037.0,1311.9 2052.3,1320.7 C2067.7,1329.6 2094.1,1343.1 2103.2,1347.4 C2112.3,1351.7 2106.3,1347.3 2106.9,1346.5 C2107.5,1345.7 2113.4,1350.5 2106.8,1342.6 C2100.3,1334.8 2081.3,1311.1 2067.7,1299.3 C2054.0,1287.4 2037.5,1279.1 2024.8,1271.5 C2012.1,1263.9 2002.5,1260.9 1991.4,1253.6 C1980.3,1246.3 1969.3,1237.8 1958.2,1227.7 C1947.1,1217.7 1936.2,1204.5 1924.9,1193.1 C1913.6,1181.7 1901.5,1170.8 1890.2,1159.1 C1878.9,1147.4 1869.1,1132.9 1857.3,1123.0 C1845.4,1113.0 1829.4,1105.4 1819.4,1099.4 C1809.3,1093.4 1807.0,1092.4 1797.0,1086.9 C1786.9,1081.5 1768.3,1068.8 1759.0,1066.7 C1749.7,1064.6 1743.7,1070.0 1741.4,1074.4Z" fill="#ffc800" opacity="0.85"/>
<path d="M1560,650 C1575,640 1590,655 1600,690 C1610,720 1620,745 1630,770 L1560,790 C1540,760 1530,720 1540,690 Z" fill="#ffe800" opacity="0.9"/>
<path d="M1997.0,553.0 C1993.3,543.2 1980.8,555.0 1975.0,559.0 C1969.2,563.0 1968.0,571.8 1962.0,577.0 C1956.0,582.2 1945.0,585.7 1939.0,590.0 C1933.0,594.3 1929.8,596.8 1926.0,603.0 C1922.2,609.2 1917.3,620.8 1916.0,627.0 C1914.7,633.2 1915.3,635.7 1918.0,640.0 C1920.7,644.3 1926.7,650.7 1932.0,653.0 C1937.3,655.3 1943.8,655.5 1950.0,654.0 C1956.2,652.5 1963.5,647.8 1969.0,644.0 C1974.5,640.2 1978.3,635.3 1983.0,631.0 C1987.7,626.7 1994.7,631.0 1997.0,618.0 C1999.3,605.0 2000.7,562.8 1997.0,553.0Z" fill="#ff2400"/>
<path d="M2350,1835 L2400,1850 L2478,1880 L2478,1900 L2420,1880 L2360,1850 Z" fill="#ff8c00" opacity="0.8"/>
<path d="M2342,1992 L2420,1960 L2478,1935 L2478,1945 L2420,1972 L2345,2000 Z" fill="#ffe000" opacity="0.8"/>
</g>
<path d="M1676.0,10.0 C1669.0,19.8 1668.2,52.8 1665.0,69.0 C1661.8,85.2 1659.2,95.2 1657.0,107.0 C1654.8,118.8 1652.8,128.7 1652.0,140.0 C1651.2,151.3 1652.8,162.5 1652.0,175.0 C1651.2,187.5 1648.8,200.5 1647.0,215.0 C1645.2,229.5 1644.2,246.3 1641.0,262.0 C1637.8,277.7 1632.3,297.2 1628.0,309.0 C1623.7,320.8 1619.5,324.2 1615.0,333.0 C1610.5,341.8 1606.0,350.5 1601.0,362.0 C1596.0,373.5 1590.3,388.7 1585.0,402.0 C1579.7,415.3 1573.3,428.7 1569.0,442.0 C1564.7,455.3 1562.3,469.7 1559.0,482.0 C1555.7,494.3 1553.0,503.7 1549.0,516.0 C1545.0,528.3 1540.0,544.7 1535.0,556.0 C1530.0,567.3 1524.7,575.3 1519.0,584.0 C1513.3,592.7 1507.7,600.0 1501.0,608.0 C1494.3,616.0 1485.8,624.7 1479.0,632.0 C1472.2,639.3 1465.7,644.8 1460.0,652.0 C1454.3,659.2 1449.0,667.0 1445.0,675.0 C1441.0,683.0 1438.5,692.2 1436.0,700.0 C1433.5,707.8 1421.3,718.3 1430.0,722.0 C1438.7,725.7 1473.8,726.5 1488.0,722.0 C1502.2,717.5 1506.3,704.0 1515.0,695.0 C1523.7,686.0 1533.2,674.8 1540.0,668.0 C1546.8,661.2 1550.8,658.7 1556.0,654.0 C1561.2,649.3 1567.3,646.3 1571.0,640.0 C1574.7,633.7 1575.7,624.3 1578.0,616.0 C1580.3,607.7 1583.0,599.3 1585.0,590.0 C1587.0,580.7 1588.0,570.0 1590.0,560.0 C1592.0,550.0 1594.5,540.0 1597.0,530.0 C1599.5,520.0 1601.7,512.3 1605.0,500.0 C1608.3,487.7 1612.7,470.0 1617.0,456.0 C1621.3,442.0 1626.7,431.7 1631.0,416.0 C1635.3,400.3 1640.0,377.7 1643.0,362.0 C1646.0,346.3 1646.7,335.2 1649.0,322.0 C1651.3,308.8 1654.3,296.2 1657.0,283.0 C1659.7,269.8 1661.8,256.3 1665.0,243.0 C1668.2,229.7 1672.0,216.3 1676.0,203.0 C1680.0,189.7 1685.5,178.7 1689.0,163.0 C1692.5,147.3 1694.7,126.8 1697.0,109.0 C1699.3,91.2 1701.3,72.5 1703.0,56.0 C1704.7,39.5 1711.5,17.7 1707.0,10.0 C1702.5,2.3 1683.0,0.2 1676.0,10.0Z" fill="#d8f000" stroke="#f0ff00" stroke-width="8" filter="url(#rb)"/>
<path d="M1676.0,10.0 C1669.0,19.8 1668.2,52.8 1665.0,69.0 C1661.8,85.2 1659.2,95.2 1657.0,107.0 C1654.8,118.8 1652.8,128.7 1652.0,140.0 C1651.2,151.3 1652.8,162.5 1652.0,175.0 C1651.2,187.5 1648.8,200.5 1647.0,215.0 C1645.2,229.5 1644.2,246.3 1641.0,262.0 C1637.8,277.7 1632.3,297.2 1628.0,309.0 C1623.7,320.8 1619.5,324.2 1615.0,333.0 C1610.5,341.8 1606.0,350.5 1601.0,362.0 C1596.0,373.5 1590.3,388.7 1585.0,402.0 C1579.7,415.3 1573.3,428.7 1569.0,442.0 C1564.7,455.3 1562.3,469.7 1559.0,482.0 C1555.7,494.3 1553.0,503.7 1549.0,516.0 C1545.0,528.3 1540.0,544.7 1535.0,556.0 C1530.0,567.3 1524.7,575.3 1519.0,584.0 C1513.3,592.7 1507.7,600.0 1501.0,608.0 C1494.3,616.0 1485.8,624.7 1479.0,632.0 C1472.2,639.3 1465.7,644.8 1460.0,652.0 C1454.3,659.2 1449.0,667.0 1445.0,675.0 C1441.0,683.0 1438.5,692.2 1436.0,700.0 C1433.5,707.8 1421.3,718.3 1430.0,722.0 C1438.7,725.7 1473.8,726.5 1488.0,722.0 C1502.2,717.5 1506.3,704.0 1515.0,695.0 C1523.7,686.0 1533.2,674.8 1540.0,668.0 C1546.8,661.2 1550.8,658.7 1556.0,654.0 C1561.2,649.3 1567.3,646.3 1571.0,640.0 C1574.7,633.7 1575.7,624.3 1578.0,616.0 C1580.3,607.7 1583.0,599.3 1585.0,590.0 C1587.0,580.7 1588.0,570.0 1590.0,560.0 C1592.0,550.0 1594.5,540.0 1597.0,530.0 C1599.5,520.0 1601.7,512.3 1605.0,500.0 C1608.3,487.7 1612.7,470.0 1617.0,456.0 C1621.3,442.0 1626.7,431.7 1631.0,416.0 C1635.3,400.3 1640.0,377.7 1643.0,362.0 C1646.0,346.3 1646.7,335.2 1649.0,322.0 C1651.3,308.8 1654.3,296.2 1657.0,283.0 C1659.7,269.8 1661.8,256.3 1665.0,243.0 C1668.2,229.7 1672.0,216.3 1676.0,203.0 C1680.0,189.7 1685.5,178.7 1689.0,163.0 C1692.5,147.3 1694.7,126.8 1697.0,109.0 C1699.3,91.2 1701.3,72.5 1703.0,56.0 C1704.7,39.5 1711.5,17.7 1707.0,10.0 C1702.5,2.3 1683.0,0.2 1676.0,10.0Z" fill="url(#rg)"/>
<g filter="url(#gb)" opacity="0.8">
<ellipse cx="1581" cy="560" rx="9" ry="22" fill="#5aa000"/>
<ellipse cx="1556" cy="610" rx="10" ry="22" fill="#6aac00"/>
<ellipse cx="1530" cy="655" rx="14" ry="16" fill="#88c000"/>
<ellipse cx="1487" cy="690" rx="22" ry="14" fill="#a8d400"/>
</g>
</g>
<rect x="1240.0" y="235.0" width="85.0" height="48.0" fill="#ff0000" stroke="#f4f4f4" stroke-width="4"/>
<rect x="1326.0" y="283.0" width="84.0" height="192.0" fill="#1188ff" stroke="#f4f4f4" stroke-width="4"/>
<rect x="665.0" y="573.0" width="85.0" height="157.0" fill="#ff0000" stroke="#f4f4f4" stroke-width="4"/>
<rect x="751.0" y="667.0" width="84.0" height="63.0" fill="#1188ff" stroke="#f4f4f4" stroke-width="4"/>
<rect x="617.0" y="989.0" width="85.0" height="157.0" fill="#ff0000" stroke="#f4f4f4" stroke-width="4"/>
<rect x="703.0" y="1070.0" width="85.0" height="76.0" fill="#1188ff" stroke="#f4f4f4" stroke-width="4"/>
<rect x="638.0" y="1394.0" width="86.0" height="380.0" fill="#ff0000" stroke="#f4f4f4" stroke-width="4"/>
<rect x="724.0" y="1731.0" width="85.0" height="43.0" fill="#1188ff" stroke="#f4f4f4" stroke-width="4"/>
<rect x="1113.0" y="1700.0" width="85.0" height="147.0" fill="#ff0000" stroke="#f4f4f4" stroke-width="4"/>
<rect x="1199.0" y="1727.0" width="84.0" height="120.0" fill="#1188ff" stroke="#f4f4f4" stroke-width="4"/>
<rect x="1536.0" y="1817.0" width="84.0" height="258.0" fill="#ff0000" stroke="#f4f4f4" stroke-width="4"/>
<rect x="1621.0" y="1983.0" width="85.0" height="92.0" fill="#1188ff" stroke="#f4f4f4" stroke-width="4"/>
<rect x="1953.0" y="1665.0" width="82.0" height="146.0" fill="#ff0000" stroke="#f4f4f4" stroke-width="4"/>
<rect x="2039.0" y="1627.0" width="84.0" height="184.0" fill="#1188ff" stroke="#f4f4f4" stroke-width="4"/>
<rect x="2108.0" y="1367.0" width="83.0" height="80.0" fill="#ff0000" stroke="#f4f4f4" stroke-width="4"/>
<rect x="2194.0" y="1191.0" width="85.0" height="256.0" fill="#1188ff" stroke="#f4f4f4" stroke-width="4"/>
<rect x="1782.0" y="176.0" width="84.0" height="693.0" fill="#ff0000" stroke="#f4f4f4" stroke-width="4"/>
<rect x="1868.0" y="814.0" width="84.0" height="55.0" fill="#1188ff" stroke="#f4f4f4" stroke-width="4"/>
<rect x="2000.0" y="467.0" width="85.0" height="407.0" fill="#ff0000" stroke="#f4f4f4" stroke-width="4"/>
<rect x="2087.0" y="772.0" width="85.0" height="102.0" fill="#1188ff" stroke="#f4f4f4" stroke-width="4"/>
<rect x="2219.0" y="661.0" width="84.0" height="213.0" fill="#ff0000" stroke="#f4f4f4" stroke-width="4"/>
<rect x="2305.0" y="663.0" width="85.0" height="211.0" fill="#1188ff" stroke="#f4f4f4" stroke-width="4"/>
<text x="1086" y="213" font-size="50">6.8 ± 4.5 %</text>
<text x="1340" y="261" font-size="50">-26.8 ± 33 %</text>
<text x="500" y="548" font-size="50">11.1 ± 0.9 %</text>
<text x="769" y="644" font-size="50">4.4 ± 5.5 %</text>
<text x="491" y="966" font-size="50">11 ± 1.4 %</text>
<text x="722" y="1048" font-size="50">5.3 ± 5.3 %</text>
<text x="472" y="1369" font-size="50">26.7 ± 0.6 %</text>
<text x="740" y="1711" font-size="50">2.9 ± 7 %</text>
<text x="936" y="1663" font-size="50">10.4 ± 0.5 %</text>
<text x="1211" y="1711" font-size="50">8.5 ± 9.3 %</text>
<text x="1364" y="1787" font-size="50">18.1 ± 0.4 %</text>
<text x="1634" y="1968" font-size="50">6.4 ± 7.1 %</text>
<text x="1772" y="1642" font-size="50">10.3 ± 1.3 %</text>
<text x="2043" y="1608" font-size="50">12.9 ± 10 %</text>
<text x="2182" y="1174" font-size="50">17.9 ± 13.8 %</text>
<text x="1950" y="1342" font-size="50">5.7 ± 0.9 %</text>
<text transform="translate(1842,838) rotate(-90)" font-size="50">48.7 ± 2.7 %</text>
<text transform="translate(1928,836) rotate(-90)" font-size="50">3.8 ± 6.0 %</text>
<text transform="translate(2061,842) rotate(-90)" font-size="50">28.5 ± 0.9 %</text>
<text transform="translate(2145,840) rotate(-90)" font-size="50">7.1 ± 7.8 %</text>
<text transform="translate(2273,840) rotate(-90)" font-size="50">16 ± 2.2 %</text>
<text transform="translate(2363,840) rotate(-90)" font-size="50">14.7 ± 11.2 %</text>
<text transform="translate(981,740) rotate(-30.5)" font-size="62">Campground Pass</text>
<text transform="translate(1013,954) rotate(-30)" font-size="62">Mallard Pass</text>
<text transform="translate(1037,1227) rotate(-44)" font-size="62">Gadwall Pass</text>
<text transform="translate(1291,1448) rotate(-76)" font-size="62">Main Pass</text>
<text transform="translate(1502,1387) rotate(-90)" font-size="62">Greg Pass</text>
<text transform="translate(1634,499) rotate(-75.7)" font-size="63">Wax Lake Delta</text>
<text transform="translate(1828,1134) rotate(46)" font-size="62">East Pass</text>
<text transform="translate(1735,1262) rotate(60)" font-size="62">Pintail Pass</text>
<text x="1319" y="154" font-size="62" text-anchor="middle">Others</text>
<text x="1867" y="946" font-size="62" font-weight="bold" text-anchor="middle">West</text>
<text x="2088" y="946" font-size="62" font-weight="bold" text-anchor="middle">Center</text>
<text x="2298" y="946" font-size="62" font-weight="bold" text-anchor="middle">East</text>
<rect x="197.5" y="12.5" width="2284.5" height="2150" fill="none" stroke="#000" stroke-width="7" stroke-linejoin="round"/>
<line x1="305.5" y1="2159" x2="305.5" y2="2137" stroke="#000" stroke-width="7" stroke-linecap="round"/>
<line x1="729.5" y1="2159" x2="729.5" y2="2137" stroke="#000" stroke-width="7" stroke-linecap="round"/>
<line x1="1153.5" y1="2159" x2="1153.5" y2="2137" stroke="#000" stroke-width="7" stroke-linecap="round"/>
<line x1="1577.5" y1="2159" x2="1577.5" y2="2137" stroke="#000" stroke-width="7" stroke-linecap="round"/>
<line x1="2001.5" y1="2159" x2="2001.5" y2="2137" stroke="#000" stroke-width="7" stroke-linecap="round"/>
<line x1="2425.5" y1="2159" x2="2425.5" y2="2137" stroke="#000" stroke-width="7" stroke-linecap="round"/>
<line x1="201" y1="53.5" x2="223" y2="53.5" stroke="#000" stroke-width="7" stroke-linecap="round"/>
<line x1="201" y1="537.5" x2="223" y2="537.5" stroke="#000" stroke-width="7" stroke-linecap="round"/>
<line x1="201" y1="1021.5" x2="223" y2="1021.5" stroke="#000" stroke-width="7" stroke-linecap="round"/>
<line x1="201" y1="1505.5" x2="223" y2="1505.5" stroke="#000" stroke-width="7" stroke-linecap="round"/>
<line x1="201" y1="1989.5" x2="223" y2="1989.5" stroke="#000" stroke-width="7" stroke-linecap="round"/>
<text x="304.0" y="2240" font-size="50" text-anchor="middle">-91.53</text>
<text x="722.3" y="2240" font-size="50" text-anchor="middle">-91.50</text>
<text x="1140.6" y="2240" font-size="50" text-anchor="middle">-91.47</text>
<text x="1558.9" y="2240" font-size="50" text-anchor="middle">-91.43</text>
<text x="1977.2" y="2240" font-size="50" text-anchor="middle">-91.40</text>
<text x="2395.5" y="2240" font-size="50" text-anchor="middle">-91.37</text>
<text transform="translate(146,78.0) rotate(-90)" font-size="50" text-anchor="middle">29.57</text>
<text transform="translate(146,551.0) rotate(-90)" font-size="50" text-anchor="middle">29.53</text>
<text transform="translate(146,1026.6) rotate(-90)" font-size="50" text-anchor="middle">29.50</text>
<text transform="translate(146,1500.7) rotate(-90)" font-size="50" text-anchor="middle">29.47</text>
<text transform="translate(146,1985.6) rotate(-90)" font-size="50" text-anchor="middle">29.43</text>
<text x="1329" y="2349" font-size="50" text-anchor="middle">Longitude</text>
<text transform="translate(40,1033) rotate(-90)" font-size="50" text-anchor="middle">Latitude</text>
</svg>
</body></html>
